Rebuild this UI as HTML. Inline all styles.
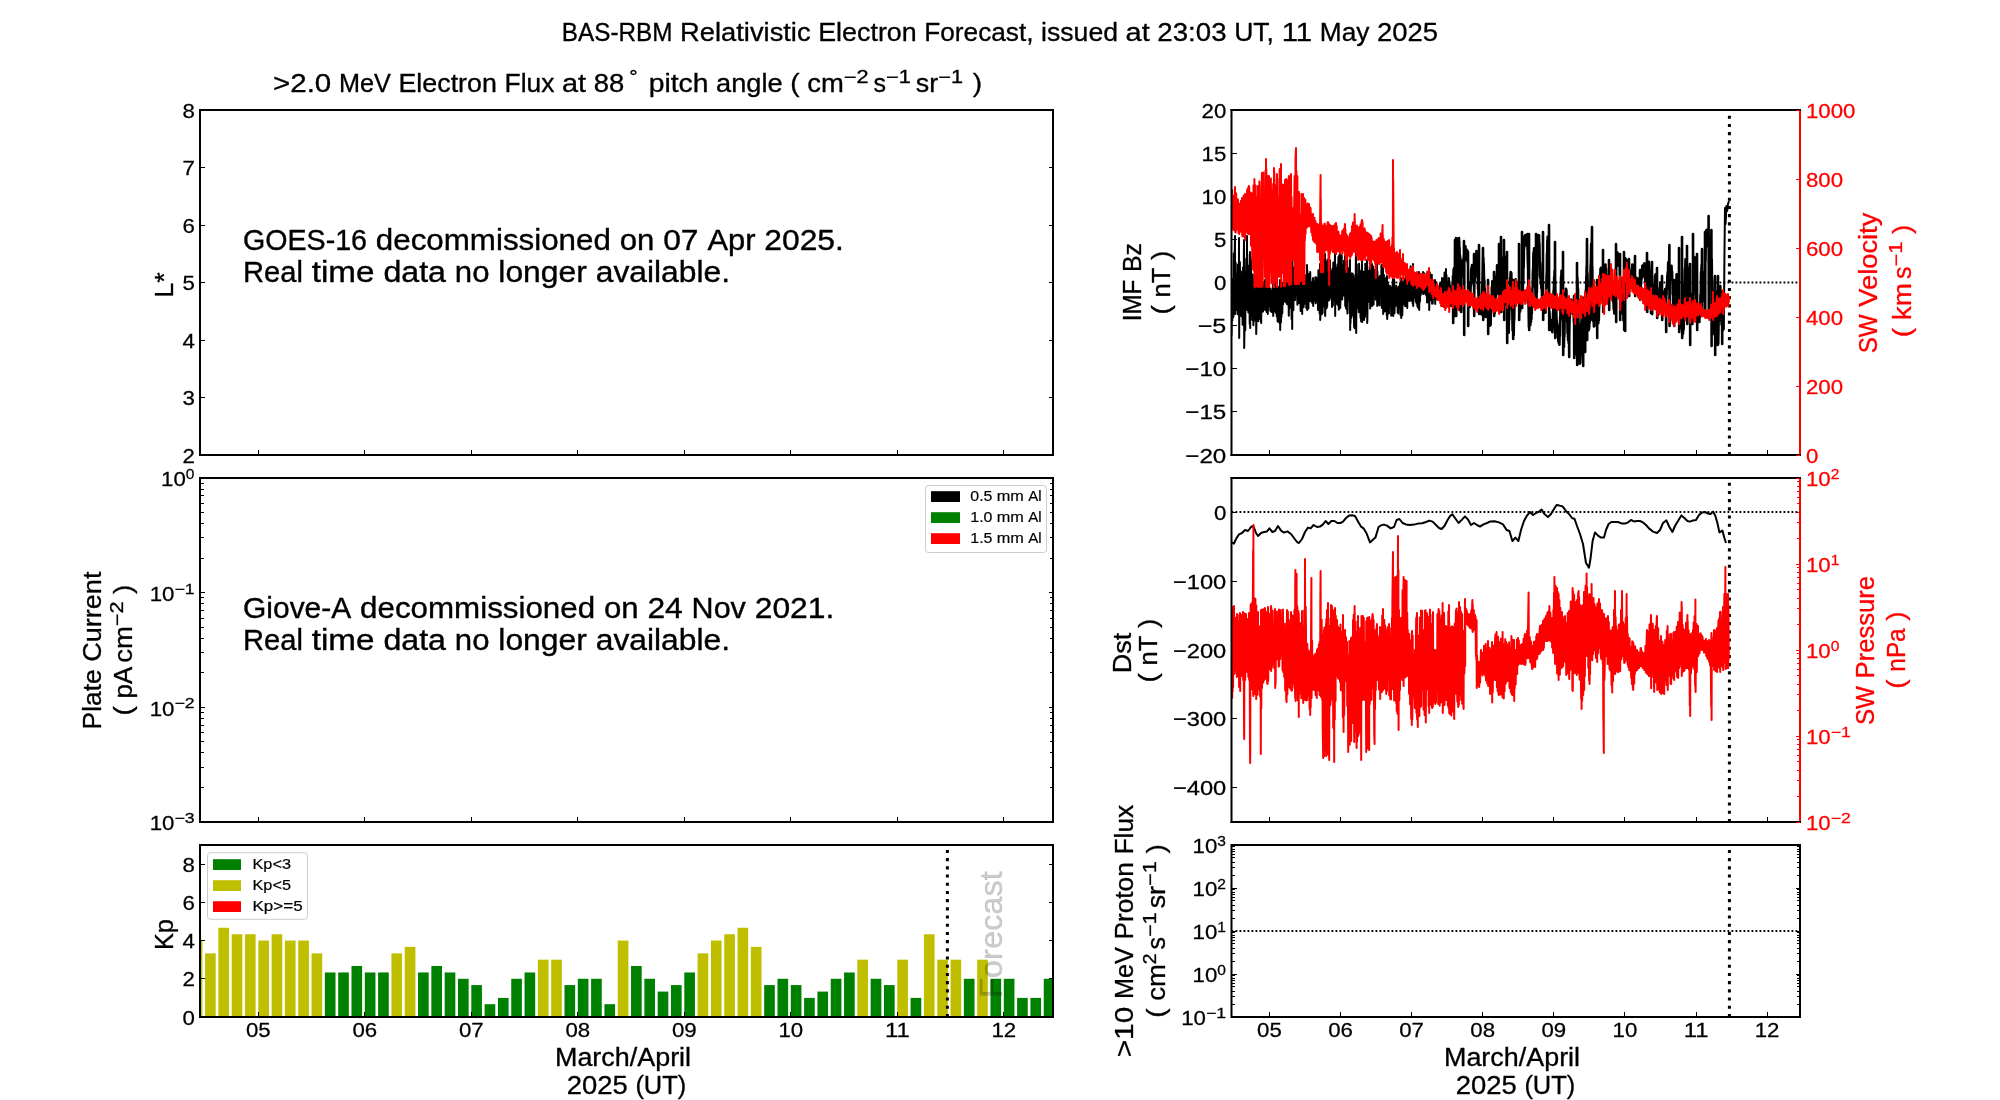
<!DOCTYPE html>
<html><head><meta charset="utf-8"><title>BAS-RBM Relativistic Electron Forecast</title>
<style>html,body{margin:0;padding:0;background:#fff;}body{width:2000px;height:1100px;overflow:hidden;}svg{display:block;will-change:transform;font-family:"Liberation Sans",sans-serif;}text{white-space:pre;}</style></head><body>
<svg width="2000" height="1100" viewBox="0 0 2000 1100">
<rect x="0.00" y="0.00" width="2000.00" height="1100.00" fill="#fff"/>
<defs>
<clipPath id="cA3"><rect x="200.0" y="845.0" width="853.0" height="172.0"/></clipPath>
<clipPath id="cB1"><rect x="1231.5" y="110.0" width="568.5" height="345.0"/></clipPath>
<clipPath id="cB2"><rect x="1231.5" y="478.0" width="568.5" height="344.0"/></clipPath>
<clipPath id="cB3"><rect x="1231.5" y="845.0" width="568.5" height="172.0"/></clipPath>
</defs>
<g transform="translate(1000.00 41.00) scale(1 1.055)" font-size="24" fill="#000" stroke="#000" stroke-width="0.302">
<text x="-438.14" y="0" textLength="110.62" lengthAdjust="spacingAndGlyphs">BAS-RBM</text>
<text x="-319.89" y="0" textLength="130.47" lengthAdjust="spacingAndGlyphs">Relativistic</text>
<text x="-181.79" y="0" textLength="98.44" lengthAdjust="spacingAndGlyphs">Electron</text>
<text x="-75.72" y="0" textLength="109.19" lengthAdjust="spacingAndGlyphs">Forecast,</text>
<text x="41.10" y="0" textLength="76.89" lengthAdjust="spacingAndGlyphs">issued</text>
<text x="125.61" y="0" textLength="24.12" lengthAdjust="spacingAndGlyphs">at</text>
<text x="157.36" y="0" textLength="69.17" lengthAdjust="spacingAndGlyphs">23:03</text>
<text x="234.16" y="0" textLength="39.86" lengthAdjust="spacingAndGlyphs">UT,</text>
<text x="281.64" y="0" textLength="30.54" lengthAdjust="spacingAndGlyphs">11</text>
<text x="319.81" y="0" textLength="49.62" lengthAdjust="spacingAndGlyphs">May</text>
<text x="377.06" y="0" textLength="61.08" lengthAdjust="spacingAndGlyphs">2025</text>
</g>
<g transform="translate(627.50 92.00) scale(1 1.055)" fill="#000" stroke="#000" stroke-width="0.302">
<text x="-354.50" y="0" font-size="24.0" textLength="58.28" lengthAdjust="spacingAndGlyphs">&gt;2.0</text>
<text x="-288.59" y="0" font-size="24.0" textLength="51.89" lengthAdjust="spacingAndGlyphs">MeV</text>
<text x="-229.07" y="0" font-size="24.0" textLength="98.44" lengthAdjust="spacingAndGlyphs">Electron</text>
<text x="-123.00" y="0" font-size="24.0" textLength="49.89" lengthAdjust="spacingAndGlyphs">Flux</text>
<text x="-65.49" y="0" font-size="24.0" textLength="24.12" lengthAdjust="spacingAndGlyphs">at</text>
<text x="-33.74" y="0" font-size="24.0" textLength="30.54" lengthAdjust="spacingAndGlyphs">88</text>
<text x="1.80" y="-8.42" font-size="16.80" textLength="8.40" lengthAdjust="spacingAndGlyphs">°</text>
<text x="21.20" y="0" font-size="24.0" textLength="59.72" lengthAdjust="spacingAndGlyphs">pitch</text>
<text x="88.55" y="0" font-size="24.0" textLength="66.59" lengthAdjust="spacingAndGlyphs">angle</text>
<text x="162.77" y="0" font-size="24.0" textLength="9.36" lengthAdjust="spacingAndGlyphs">(</text>
<text x="179.76" y="0" font-size="24.0" textLength="36.58" lengthAdjust="spacingAndGlyphs">cm</text>
<text x="216.34" y="-8.42" font-size="16.80" textLength="24.77" lengthAdjust="spacingAndGlyphs">−2</text>
<text x="246.10" y="0" font-size="24.0" textLength="12.50" lengthAdjust="spacingAndGlyphs">s</text>
<text x="258.61" y="-8.42" font-size="16.80" textLength="24.77" lengthAdjust="spacingAndGlyphs">−1</text>
<text x="288.37" y="0" font-size="24.0" textLength="22.37" lengthAdjust="spacingAndGlyphs">sr</text>
<text x="310.74" y="-8.42" font-size="16.80" textLength="24.77" lengthAdjust="spacingAndGlyphs">−1</text>
<text x="345.14" y="0" font-size="24.0" textLength="9.36" lengthAdjust="spacingAndGlyphs">)</text>
</g>
<line x1="200.00" y1="110.00" x2="205.00" y2="110.00" stroke="#000" stroke-width="1" shape-rendering="crispEdges"/>
<line x1="1053.00" y1="110.00" x2="1048.60" y2="110.00" stroke="#000" stroke-width="1" shape-rendering="crispEdges"/>
<g transform="translate(194.80 117.60) scale(1 1.055)" font-size="19.44" fill="#000" stroke="#000" stroke-width="0.245">
<text x="-12.37" y="0" textLength="12.37" lengthAdjust="spacingAndGlyphs">8</text>
</g>
<line x1="200.00" y1="167.50" x2="205.00" y2="167.50" stroke="#000" stroke-width="1" shape-rendering="crispEdges"/>
<line x1="1053.00" y1="167.50" x2="1048.60" y2="167.50" stroke="#000" stroke-width="1" shape-rendering="crispEdges"/>
<g transform="translate(194.80 175.10) scale(1 1.055)" font-size="19.44" fill="#000" stroke="#000" stroke-width="0.245">
<text x="-12.37" y="0" textLength="12.37" lengthAdjust="spacingAndGlyphs">7</text>
</g>
<line x1="200.00" y1="225.00" x2="205.00" y2="225.00" stroke="#000" stroke-width="1" shape-rendering="crispEdges"/>
<line x1="1053.00" y1="225.00" x2="1048.60" y2="225.00" stroke="#000" stroke-width="1" shape-rendering="crispEdges"/>
<g transform="translate(194.80 232.60) scale(1 1.055)" font-size="19.44" fill="#000" stroke="#000" stroke-width="0.245">
<text x="-12.37" y="0" textLength="12.37" lengthAdjust="spacingAndGlyphs">6</text>
</g>
<line x1="200.00" y1="282.50" x2="205.00" y2="282.50" stroke="#000" stroke-width="1" shape-rendering="crispEdges"/>
<line x1="1053.00" y1="282.50" x2="1048.60" y2="282.50" stroke="#000" stroke-width="1" shape-rendering="crispEdges"/>
<g transform="translate(194.80 290.10) scale(1 1.055)" font-size="19.44" fill="#000" stroke="#000" stroke-width="0.245">
<text x="-12.37" y="0" textLength="12.37" lengthAdjust="spacingAndGlyphs">5</text>
</g>
<line x1="200.00" y1="340.00" x2="205.00" y2="340.00" stroke="#000" stroke-width="1" shape-rendering="crispEdges"/>
<line x1="1053.00" y1="340.00" x2="1048.60" y2="340.00" stroke="#000" stroke-width="1" shape-rendering="crispEdges"/>
<g transform="translate(194.80 347.60) scale(1 1.055)" font-size="19.44" fill="#000" stroke="#000" stroke-width="0.245">
<text x="-12.37" y="0" textLength="12.37" lengthAdjust="spacingAndGlyphs">4</text>
</g>
<line x1="200.00" y1="397.50" x2="205.00" y2="397.50" stroke="#000" stroke-width="1" shape-rendering="crispEdges"/>
<line x1="1053.00" y1="397.50" x2="1048.60" y2="397.50" stroke="#000" stroke-width="1" shape-rendering="crispEdges"/>
<g transform="translate(194.80 405.10) scale(1 1.055)" font-size="19.44" fill="#000" stroke="#000" stroke-width="0.245">
<text x="-12.37" y="0" textLength="12.37" lengthAdjust="spacingAndGlyphs">3</text>
</g>
<line x1="200.00" y1="455.00" x2="205.00" y2="455.00" stroke="#000" stroke-width="1" shape-rendering="crispEdges"/>
<line x1="1053.00" y1="455.00" x2="1048.60" y2="455.00" stroke="#000" stroke-width="1" shape-rendering="crispEdges"/>
<g transform="translate(194.80 462.60) scale(1 1.055)" font-size="19.44" fill="#000" stroke="#000" stroke-width="0.245">
<text x="-12.37" y="0" textLength="12.37" lengthAdjust="spacingAndGlyphs">2</text>
</g>
<line x1="258.30" y1="455.00" x2="258.30" y2="450.00" stroke="#000" stroke-width="1" shape-rendering="crispEdges"/>
<line x1="364.80" y1="455.00" x2="364.80" y2="450.00" stroke="#000" stroke-width="1" shape-rendering="crispEdges"/>
<line x1="471.30" y1="455.00" x2="471.30" y2="450.00" stroke="#000" stroke-width="1" shape-rendering="crispEdges"/>
<line x1="577.80" y1="455.00" x2="577.80" y2="450.00" stroke="#000" stroke-width="1" shape-rendering="crispEdges"/>
<line x1="684.30" y1="455.00" x2="684.30" y2="450.00" stroke="#000" stroke-width="1" shape-rendering="crispEdges"/>
<line x1="790.80" y1="455.00" x2="790.80" y2="450.00" stroke="#000" stroke-width="1" shape-rendering="crispEdges"/>
<line x1="897.30" y1="455.00" x2="897.30" y2="450.00" stroke="#000" stroke-width="1" shape-rendering="crispEdges"/>
<line x1="1003.80" y1="455.00" x2="1003.80" y2="450.00" stroke="#000" stroke-width="1" shape-rendering="crispEdges"/>
<rect x="200.00" y="110.00" width="853.00" height="345.00" fill="none" stroke="#000" stroke-width="2"/>
<g transform="translate(172.50 285.00) rotate(-90) scale(1 1.055)" font-size="24.0" fill="#000" stroke="#000" stroke-width="0.302">
<text x="-12.69" y="0" textLength="25.37" lengthAdjust="spacingAndGlyphs">L*</text>
</g>
<g transform="translate(243.00 250.00) scale(1 1.055)" font-size="27.8" fill="#000" stroke="#000" stroke-width="0.350">
<text x="0.00" y="0" textLength="124.04" lengthAdjust="spacingAndGlyphs">GOES-16</text>
<text x="132.88" y="0" textLength="235.00" lengthAdjust="spacingAndGlyphs">decommissioned</text>
<text x="376.72" y="0" textLength="34.63" lengthAdjust="spacingAndGlyphs">on</text>
<text x="420.18" y="0" textLength="35.38" lengthAdjust="spacingAndGlyphs">07</text>
<text x="464.40" y="0" textLength="48.09" lengthAdjust="spacingAndGlyphs">Apr</text>
<text x="521.33" y="0" textLength="79.59" lengthAdjust="spacingAndGlyphs">2025.</text>
</g>
<g transform="translate(243.00 282.00) scale(1 1.055)" font-size="27.8" fill="#000" stroke="#000" stroke-width="0.350">
<text x="0.00" y="0" textLength="59.93" lengthAdjust="spacingAndGlyphs">Real</text>
<text x="68.77" y="0" textLength="62.81" lengthAdjust="spacingAndGlyphs">time</text>
<text x="140.41" y="0" textLength="62.62" lengthAdjust="spacingAndGlyphs">data</text>
<text x="211.87" y="0" textLength="34.63" lengthAdjust="spacingAndGlyphs">no</text>
<text x="255.34" y="0" textLength="88.53" lengthAdjust="spacingAndGlyphs">longer</text>
<text x="352.71" y="0" textLength="134.32" lengthAdjust="spacingAndGlyphs">available.</text>
</g>
<line x1="200.00" y1="478.00" x2="205.00" y2="478.00" stroke="#000" stroke-width="1" shape-rendering="crispEdges"/>
<line x1="1053.00" y1="478.00" x2="1048.60" y2="478.00" stroke="#000" stroke-width="1" shape-rendering="crispEdges"/>
<g transform="translate(194.50 486.30) scale(1 1.055)" fill="#000" stroke="#000" stroke-width="0.245">
<text x="-33.40" y="0" font-size="19.44" textLength="24.74" lengthAdjust="spacingAndGlyphs">10</text>
<text x="-8.66" y="-6.82" font-size="13.61" textLength="8.66" lengthAdjust="spacingAndGlyphs">0</text>
</g>
<line x1="200.00" y1="558.15" x2="203.60" y2="558.15" stroke="#000" stroke-width="1" shape-rendering="crispEdges"/>
<line x1="1053.00" y1="558.15" x2="1050.40" y2="558.15" stroke="#000" stroke-width="1" shape-rendering="crispEdges"/>
<line x1="200.00" y1="537.96" x2="203.60" y2="537.96" stroke="#000" stroke-width="1" shape-rendering="crispEdges"/>
<line x1="1053.00" y1="537.96" x2="1050.40" y2="537.96" stroke="#000" stroke-width="1" shape-rendering="crispEdges"/>
<line x1="200.00" y1="523.63" x2="203.60" y2="523.63" stroke="#000" stroke-width="1" shape-rendering="crispEdges"/>
<line x1="1053.00" y1="523.63" x2="1050.40" y2="523.63" stroke="#000" stroke-width="1" shape-rendering="crispEdges"/>
<line x1="200.00" y1="512.52" x2="203.60" y2="512.52" stroke="#000" stroke-width="1" shape-rendering="crispEdges"/>
<line x1="1053.00" y1="512.52" x2="1050.40" y2="512.52" stroke="#000" stroke-width="1" shape-rendering="crispEdges"/>
<line x1="200.00" y1="503.44" x2="203.60" y2="503.44" stroke="#000" stroke-width="1" shape-rendering="crispEdges"/>
<line x1="1053.00" y1="503.44" x2="1050.40" y2="503.44" stroke="#000" stroke-width="1" shape-rendering="crispEdges"/>
<line x1="200.00" y1="495.76" x2="203.60" y2="495.76" stroke="#000" stroke-width="1" shape-rendering="crispEdges"/>
<line x1="1053.00" y1="495.76" x2="1050.40" y2="495.76" stroke="#000" stroke-width="1" shape-rendering="crispEdges"/>
<line x1="200.00" y1="489.11" x2="203.60" y2="489.11" stroke="#000" stroke-width="1" shape-rendering="crispEdges"/>
<line x1="1053.00" y1="489.11" x2="1050.40" y2="489.11" stroke="#000" stroke-width="1" shape-rendering="crispEdges"/>
<line x1="200.00" y1="483.25" x2="203.60" y2="483.25" stroke="#000" stroke-width="1" shape-rendering="crispEdges"/>
<line x1="1053.00" y1="483.25" x2="1050.40" y2="483.25" stroke="#000" stroke-width="1" shape-rendering="crispEdges"/>
<line x1="200.00" y1="592.67" x2="205.00" y2="592.67" stroke="#000" stroke-width="1" shape-rendering="crispEdges"/>
<line x1="1053.00" y1="592.67" x2="1048.60" y2="592.67" stroke="#000" stroke-width="1" shape-rendering="crispEdges"/>
<g transform="translate(194.50 600.97) scale(1 1.055)" fill="#000" stroke="#000" stroke-width="0.245">
<text x="-44.80" y="0" font-size="19.44" textLength="24.74" lengthAdjust="spacingAndGlyphs">10</text>
<text x="-20.06" y="-6.82" font-size="13.61" textLength="20.06" lengthAdjust="spacingAndGlyphs">−1</text>
</g>
<line x1="200.00" y1="672.82" x2="203.60" y2="672.82" stroke="#000" stroke-width="1" shape-rendering="crispEdges"/>
<line x1="1053.00" y1="672.82" x2="1050.40" y2="672.82" stroke="#000" stroke-width="1" shape-rendering="crispEdges"/>
<line x1="200.00" y1="652.62" x2="203.60" y2="652.62" stroke="#000" stroke-width="1" shape-rendering="crispEdges"/>
<line x1="1053.00" y1="652.62" x2="1050.40" y2="652.62" stroke="#000" stroke-width="1" shape-rendering="crispEdges"/>
<line x1="200.00" y1="638.30" x2="203.60" y2="638.30" stroke="#000" stroke-width="1" shape-rendering="crispEdges"/>
<line x1="1053.00" y1="638.30" x2="1050.40" y2="638.30" stroke="#000" stroke-width="1" shape-rendering="crispEdges"/>
<line x1="200.00" y1="627.18" x2="203.60" y2="627.18" stroke="#000" stroke-width="1" shape-rendering="crispEdges"/>
<line x1="1053.00" y1="627.18" x2="1050.40" y2="627.18" stroke="#000" stroke-width="1" shape-rendering="crispEdges"/>
<line x1="200.00" y1="618.11" x2="203.60" y2="618.11" stroke="#000" stroke-width="1" shape-rendering="crispEdges"/>
<line x1="1053.00" y1="618.11" x2="1050.40" y2="618.11" stroke="#000" stroke-width="1" shape-rendering="crispEdges"/>
<line x1="200.00" y1="610.43" x2="203.60" y2="610.43" stroke="#000" stroke-width="1" shape-rendering="crispEdges"/>
<line x1="1053.00" y1="610.43" x2="1050.40" y2="610.43" stroke="#000" stroke-width="1" shape-rendering="crispEdges"/>
<line x1="200.00" y1="603.78" x2="203.60" y2="603.78" stroke="#000" stroke-width="1" shape-rendering="crispEdges"/>
<line x1="1053.00" y1="603.78" x2="1050.40" y2="603.78" stroke="#000" stroke-width="1" shape-rendering="crispEdges"/>
<line x1="200.00" y1="597.91" x2="203.60" y2="597.91" stroke="#000" stroke-width="1" shape-rendering="crispEdges"/>
<line x1="1053.00" y1="597.91" x2="1050.40" y2="597.91" stroke="#000" stroke-width="1" shape-rendering="crispEdges"/>
<line x1="200.00" y1="707.33" x2="205.00" y2="707.33" stroke="#000" stroke-width="1" shape-rendering="crispEdges"/>
<line x1="1053.00" y1="707.33" x2="1048.60" y2="707.33" stroke="#000" stroke-width="1" shape-rendering="crispEdges"/>
<g transform="translate(194.50 715.63) scale(1 1.055)" fill="#000" stroke="#000" stroke-width="0.245">
<text x="-44.80" y="0" font-size="19.44" textLength="24.74" lengthAdjust="spacingAndGlyphs">10</text>
<text x="-20.06" y="-6.82" font-size="13.61" textLength="20.06" lengthAdjust="spacingAndGlyphs">−2</text>
</g>
<line x1="200.00" y1="787.48" x2="203.60" y2="787.48" stroke="#000" stroke-width="1" shape-rendering="crispEdges"/>
<line x1="1053.00" y1="787.48" x2="1050.40" y2="787.48" stroke="#000" stroke-width="1" shape-rendering="crispEdges"/>
<line x1="200.00" y1="767.29" x2="203.60" y2="767.29" stroke="#000" stroke-width="1" shape-rendering="crispEdges"/>
<line x1="1053.00" y1="767.29" x2="1050.40" y2="767.29" stroke="#000" stroke-width="1" shape-rendering="crispEdges"/>
<line x1="200.00" y1="752.96" x2="203.60" y2="752.96" stroke="#000" stroke-width="1" shape-rendering="crispEdges"/>
<line x1="1053.00" y1="752.96" x2="1050.40" y2="752.96" stroke="#000" stroke-width="1" shape-rendering="crispEdges"/>
<line x1="200.00" y1="741.85" x2="203.60" y2="741.85" stroke="#000" stroke-width="1" shape-rendering="crispEdges"/>
<line x1="1053.00" y1="741.85" x2="1050.40" y2="741.85" stroke="#000" stroke-width="1" shape-rendering="crispEdges"/>
<line x1="200.00" y1="732.77" x2="203.60" y2="732.77" stroke="#000" stroke-width="1" shape-rendering="crispEdges"/>
<line x1="1053.00" y1="732.77" x2="1050.40" y2="732.77" stroke="#000" stroke-width="1" shape-rendering="crispEdges"/>
<line x1="200.00" y1="725.10" x2="203.60" y2="725.10" stroke="#000" stroke-width="1" shape-rendering="crispEdges"/>
<line x1="1053.00" y1="725.10" x2="1050.40" y2="725.10" stroke="#000" stroke-width="1" shape-rendering="crispEdges"/>
<line x1="200.00" y1="718.45" x2="203.60" y2="718.45" stroke="#000" stroke-width="1" shape-rendering="crispEdges"/>
<line x1="1053.00" y1="718.45" x2="1050.40" y2="718.45" stroke="#000" stroke-width="1" shape-rendering="crispEdges"/>
<line x1="200.00" y1="712.58" x2="203.60" y2="712.58" stroke="#000" stroke-width="1" shape-rendering="crispEdges"/>
<line x1="1053.00" y1="712.58" x2="1050.40" y2="712.58" stroke="#000" stroke-width="1" shape-rendering="crispEdges"/>
<line x1="200.00" y1="822.00" x2="205.00" y2="822.00" stroke="#000" stroke-width="1" shape-rendering="crispEdges"/>
<line x1="1053.00" y1="822.00" x2="1048.60" y2="822.00" stroke="#000" stroke-width="1" shape-rendering="crispEdges"/>
<g transform="translate(194.50 830.30) scale(1 1.055)" fill="#000" stroke="#000" stroke-width="0.245">
<text x="-44.80" y="0" font-size="19.44" textLength="24.74" lengthAdjust="spacingAndGlyphs">10</text>
<text x="-20.06" y="-6.82" font-size="13.61" textLength="20.06" lengthAdjust="spacingAndGlyphs">−3</text>
</g>
<line x1="258.30" y1="822.00" x2="258.30" y2="817.00" stroke="#000" stroke-width="1" shape-rendering="crispEdges"/>
<line x1="364.80" y1="822.00" x2="364.80" y2="817.00" stroke="#000" stroke-width="1" shape-rendering="crispEdges"/>
<line x1="471.30" y1="822.00" x2="471.30" y2="817.00" stroke="#000" stroke-width="1" shape-rendering="crispEdges"/>
<line x1="577.80" y1="822.00" x2="577.80" y2="817.00" stroke="#000" stroke-width="1" shape-rendering="crispEdges"/>
<line x1="684.30" y1="822.00" x2="684.30" y2="817.00" stroke="#000" stroke-width="1" shape-rendering="crispEdges"/>
<line x1="790.80" y1="822.00" x2="790.80" y2="817.00" stroke="#000" stroke-width="1" shape-rendering="crispEdges"/>
<line x1="897.30" y1="822.00" x2="897.30" y2="817.00" stroke="#000" stroke-width="1" shape-rendering="crispEdges"/>
<line x1="1003.80" y1="822.00" x2="1003.80" y2="817.00" stroke="#000" stroke-width="1" shape-rendering="crispEdges"/>
<rect x="200.00" y="478.00" width="853.00" height="344.00" fill="none" stroke="#000" stroke-width="2"/>
<g transform="translate(100.50 650.50) rotate(-90) scale(1 1.055)" font-size="24.0" fill="#000" stroke="#000" stroke-width="0.302">
<text x="-78.90" y="0" textLength="60.02" lengthAdjust="spacingAndGlyphs">Plate</text>
<text x="-11.25" y="0" textLength="90.15" lengthAdjust="spacingAndGlyphs">Current</text>
</g>
<g transform="translate(132.00 650.00) rotate(-90) scale(1 1.055)" fill="#000" stroke="#000" stroke-width="0.302">
<text x="-65.49" y="0" font-size="24.0" textLength="9.36" lengthAdjust="spacingAndGlyphs">(</text>
<text x="-48.50" y="0" font-size="24.0" textLength="31.65" lengthAdjust="spacingAndGlyphs">pA</text>
<text x="-12.84" y="0" font-size="24.0" textLength="36.58" lengthAdjust="spacingAndGlyphs">cm</text>
<text x="23.73" y="-8.42" font-size="16.80" textLength="24.77" lengthAdjust="spacingAndGlyphs">−2</text>
<text x="56.13" y="0" font-size="24.0" textLength="9.36" lengthAdjust="spacingAndGlyphs">)</text>
</g>
<g transform="translate(243.00 618.00) scale(1 1.055)" font-size="27.8" fill="#000" stroke="#000" stroke-width="0.350">
<text x="0.00" y="0" textLength="108.27" lengthAdjust="spacingAndGlyphs">Giove-A</text>
<text x="117.11" y="0" textLength="235.00" lengthAdjust="spacingAndGlyphs">decommissioned</text>
<text x="360.94" y="0" textLength="34.63" lengthAdjust="spacingAndGlyphs">on</text>
<text x="404.41" y="0" textLength="35.38" lengthAdjust="spacingAndGlyphs">24</text>
<text x="448.62" y="0" textLength="54.26" lengthAdjust="spacingAndGlyphs">Nov</text>
<text x="511.71" y="0" textLength="79.59" lengthAdjust="spacingAndGlyphs">2021.</text>
</g>
<g transform="translate(243.00 650.00) scale(1 1.055)" font-size="27.8" fill="#000" stroke="#000" stroke-width="0.350">
<text x="0.00" y="0" textLength="59.93" lengthAdjust="spacingAndGlyphs">Real</text>
<text x="68.77" y="0" textLength="62.81" lengthAdjust="spacingAndGlyphs">time</text>
<text x="140.41" y="0" textLength="62.62" lengthAdjust="spacingAndGlyphs">data</text>
<text x="211.87" y="0" textLength="34.63" lengthAdjust="spacingAndGlyphs">no</text>
<text x="255.34" y="0" textLength="88.53" lengthAdjust="spacingAndGlyphs">longer</text>
<text x="352.71" y="0" textLength="134.32" lengthAdjust="spacingAndGlyphs">available.</text>
</g>
<rect x="925.50" y="485.50" width="121.00" height="67.00" fill="#fff" stroke="#cccccc" stroke-width="1" rx="3"/>
<rect x="931.00" y="491.20" width="29.00" height="10.80" fill="#000"/>
<g transform="translate(970.30 500.90) scale(1 1.055)" font-size="13.9" fill="#000" stroke="#000" stroke-width="0.175">
<text x="0.00" y="0" textLength="22.11" lengthAdjust="spacingAndGlyphs">0.5</text>
<text x="26.53" y="0" textLength="27.08" lengthAdjust="spacingAndGlyphs">mm</text>
<text x="58.02" y="0" textLength="13.37" lengthAdjust="spacingAndGlyphs">Al</text>
</g>
<rect x="931.00" y="512.20" width="29.00" height="10.80" fill="#008000"/>
<g transform="translate(970.30 521.90) scale(1 1.055)" font-size="13.9" fill="#000" stroke="#000" stroke-width="0.175">
<text x="0.00" y="0" textLength="22.11" lengthAdjust="spacingAndGlyphs">1.0</text>
<text x="26.53" y="0" textLength="27.08" lengthAdjust="spacingAndGlyphs">mm</text>
<text x="58.02" y="0" textLength="13.37" lengthAdjust="spacingAndGlyphs">Al</text>
</g>
<rect x="931.00" y="533.20" width="29.00" height="10.80" fill="#ff0000"/>
<g transform="translate(970.30 542.90) scale(1 1.055)" font-size="13.9" fill="#000" stroke="#000" stroke-width="0.175">
<text x="0.00" y="0" textLength="22.11" lengthAdjust="spacingAndGlyphs">1.5</text>
<text x="26.53" y="0" textLength="27.08" lengthAdjust="spacingAndGlyphs">mm</text>
<text x="58.02" y="0" textLength="13.37" lengthAdjust="spacingAndGlyphs">Al</text>
</g>
<g clip-path="url(#cA3)">
<rect x="191.74" y="940.56" width="10.65" height="76.44" fill="#bfbf00"/>
<rect x="205.05" y="953.36" width="10.65" height="63.64" fill="#bfbf00"/>
<rect x="218.36" y="927.75" width="10.65" height="89.25" fill="#bfbf00"/>
<rect x="231.68" y="934.25" width="10.65" height="82.75" fill="#bfbf00"/>
<rect x="244.99" y="934.25" width="10.65" height="82.75" fill="#bfbf00"/>
<rect x="258.30" y="940.56" width="10.65" height="76.44" fill="#bfbf00"/>
<rect x="271.61" y="934.25" width="10.65" height="82.75" fill="#bfbf00"/>
<rect x="284.93" y="940.56" width="10.65" height="76.44" fill="#bfbf00"/>
<rect x="298.24" y="940.56" width="10.65" height="76.44" fill="#bfbf00"/>
<rect x="311.55" y="953.36" width="10.65" height="63.64" fill="#bfbf00"/>
<rect x="324.86" y="972.47" width="10.65" height="44.53" fill="#008000"/>
<rect x="338.18" y="972.47" width="10.65" height="44.53" fill="#008000"/>
<rect x="351.49" y="965.97" width="10.65" height="51.03" fill="#008000"/>
<rect x="364.80" y="972.47" width="10.65" height="44.53" fill="#008000"/>
<rect x="378.11" y="972.47" width="10.65" height="44.53" fill="#008000"/>
<rect x="391.43" y="953.36" width="10.65" height="63.64" fill="#bfbf00"/>
<rect x="404.74" y="946.86" width="10.65" height="70.14" fill="#bfbf00"/>
<rect x="418.05" y="972.47" width="10.65" height="44.53" fill="#008000"/>
<rect x="431.36" y="965.97" width="10.65" height="51.03" fill="#008000"/>
<rect x="444.68" y="972.47" width="10.65" height="44.53" fill="#008000"/>
<rect x="457.99" y="978.78" width="10.65" height="38.22" fill="#008000"/>
<rect x="471.30" y="985.08" width="10.65" height="31.92" fill="#008000"/>
<rect x="484.61" y="1004.20" width="10.65" height="12.80" fill="#008000"/>
<rect x="497.93" y="997.89" width="10.65" height="19.11" fill="#008000"/>
<rect x="511.24" y="978.78" width="10.65" height="38.22" fill="#008000"/>
<rect x="524.55" y="972.47" width="10.65" height="44.53" fill="#008000"/>
<rect x="537.86" y="959.67" width="10.65" height="57.33" fill="#bfbf00"/>
<rect x="551.17" y="959.67" width="10.65" height="57.33" fill="#bfbf00"/>
<rect x="564.49" y="985.08" width="10.65" height="31.92" fill="#008000"/>
<rect x="577.80" y="978.78" width="10.65" height="38.22" fill="#008000"/>
<rect x="591.11" y="978.78" width="10.65" height="38.22" fill="#008000"/>
<rect x="604.42" y="1004.20" width="10.65" height="12.80" fill="#008000"/>
<rect x="617.74" y="940.56" width="10.65" height="76.44" fill="#bfbf00"/>
<rect x="631.05" y="965.97" width="10.65" height="51.03" fill="#008000"/>
<rect x="644.36" y="978.78" width="10.65" height="38.22" fill="#008000"/>
<rect x="657.67" y="991.58" width="10.65" height="25.42" fill="#008000"/>
<rect x="670.99" y="985.08" width="10.65" height="31.92" fill="#008000"/>
<rect x="684.30" y="972.47" width="10.65" height="44.53" fill="#008000"/>
<rect x="697.61" y="953.36" width="10.65" height="63.64" fill="#bfbf00"/>
<rect x="710.92" y="940.56" width="10.65" height="76.44" fill="#bfbf00"/>
<rect x="724.24" y="934.25" width="10.65" height="82.75" fill="#bfbf00"/>
<rect x="737.55" y="927.75" width="10.65" height="89.25" fill="#bfbf00"/>
<rect x="750.86" y="946.86" width="10.65" height="70.14" fill="#bfbf00"/>
<rect x="764.17" y="985.08" width="10.65" height="31.92" fill="#008000"/>
<rect x="777.49" y="978.78" width="10.65" height="38.22" fill="#008000"/>
<rect x="790.80" y="985.08" width="10.65" height="31.92" fill="#008000"/>
<rect x="804.11" y="997.89" width="10.65" height="19.11" fill="#008000"/>
<rect x="817.42" y="991.58" width="10.65" height="25.42" fill="#008000"/>
<rect x="830.74" y="978.78" width="10.65" height="38.22" fill="#008000"/>
<rect x="844.05" y="972.47" width="10.65" height="44.53" fill="#008000"/>
<rect x="857.36" y="959.67" width="10.65" height="57.33" fill="#bfbf00"/>
<rect x="870.67" y="978.78" width="10.65" height="38.22" fill="#008000"/>
<rect x="883.99" y="985.08" width="10.65" height="31.92" fill="#008000"/>
<rect x="897.30" y="959.67" width="10.65" height="57.33" fill="#bfbf00"/>
<rect x="910.61" y="997.89" width="10.65" height="19.11" fill="#008000"/>
<rect x="923.92" y="934.25" width="10.65" height="82.75" fill="#bfbf00"/>
<rect x="937.24" y="959.67" width="10.65" height="57.33" fill="#bfbf00"/>
<rect x="950.55" y="959.67" width="10.65" height="57.33" fill="#bfbf00"/>
<rect x="963.86" y="978.78" width="10.65" height="38.22" fill="#008000"/>
<rect x="977.17" y="959.67" width="10.65" height="57.33" fill="#bfbf00"/>
<rect x="990.49" y="978.78" width="10.65" height="38.22" fill="#008000"/>
<rect x="1003.80" y="978.78" width="10.65" height="38.22" fill="#008000"/>
<rect x="1017.11" y="997.89" width="10.65" height="19.11" fill="#008000"/>
<rect x="1030.42" y="997.89" width="10.65" height="19.11" fill="#008000"/>
<rect x="1043.74" y="978.78" width="10.65" height="38.22" fill="#008000"/>
</g>
<g transform="translate(1002.30 934.60) rotate(-90) scale(1 1.055)" font-size="30.0" fill="#000" stroke="#000" stroke-width="0.378" fill-opacity="0.2" stroke-opacity="0.2">
<text x="-63.47" y="0" textLength="126.95" lengthAdjust="spacingAndGlyphs">Forecast</text>
</g>
<line x1="947.40" y1="1017.00" x2="947.40" y2="845.00" stroke="#000" stroke-width="3" stroke-dasharray="3.1 5.1"/>
<line x1="200.00" y1="1017.00" x2="205.00" y2="1017.00" stroke="#000" stroke-width="1" shape-rendering="crispEdges"/>
<line x1="1053.00" y1="1017.00" x2="1048.60" y2="1017.00" stroke="#000" stroke-width="1" shape-rendering="crispEdges"/>
<g transform="translate(194.80 1024.60) scale(1 1.055)" font-size="19.44" fill="#000" stroke="#000" stroke-width="0.245">
<text x="-12.37" y="0" textLength="12.37" lengthAdjust="spacingAndGlyphs">0</text>
</g>
<line x1="200.00" y1="978.78" x2="205.00" y2="978.78" stroke="#000" stroke-width="1" shape-rendering="crispEdges"/>
<line x1="1053.00" y1="978.78" x2="1048.60" y2="978.78" stroke="#000" stroke-width="1" shape-rendering="crispEdges"/>
<g transform="translate(194.80 986.38) scale(1 1.055)" font-size="19.44" fill="#000" stroke="#000" stroke-width="0.245">
<text x="-12.37" y="0" textLength="12.37" lengthAdjust="spacingAndGlyphs">2</text>
</g>
<line x1="200.00" y1="940.56" x2="205.00" y2="940.56" stroke="#000" stroke-width="1" shape-rendering="crispEdges"/>
<line x1="1053.00" y1="940.56" x2="1048.60" y2="940.56" stroke="#000" stroke-width="1" shape-rendering="crispEdges"/>
<g transform="translate(194.80 948.16) scale(1 1.055)" font-size="19.44" fill="#000" stroke="#000" stroke-width="0.245">
<text x="-12.37" y="0" textLength="12.37" lengthAdjust="spacingAndGlyphs">4</text>
</g>
<line x1="200.00" y1="902.33" x2="205.00" y2="902.33" stroke="#000" stroke-width="1" shape-rendering="crispEdges"/>
<line x1="1053.00" y1="902.33" x2="1048.60" y2="902.33" stroke="#000" stroke-width="1" shape-rendering="crispEdges"/>
<g transform="translate(194.80 909.93) scale(1 1.055)" font-size="19.44" fill="#000" stroke="#000" stroke-width="0.245">
<text x="-12.37" y="0" textLength="12.37" lengthAdjust="spacingAndGlyphs">6</text>
</g>
<line x1="200.00" y1="864.11" x2="205.00" y2="864.11" stroke="#000" stroke-width="1" shape-rendering="crispEdges"/>
<line x1="1053.00" y1="864.11" x2="1048.60" y2="864.11" stroke="#000" stroke-width="1" shape-rendering="crispEdges"/>
<g transform="translate(194.80 871.71) scale(1 1.055)" font-size="19.44" fill="#000" stroke="#000" stroke-width="0.245">
<text x="-12.37" y="0" textLength="12.37" lengthAdjust="spacingAndGlyphs">8</text>
</g>
<line x1="258.30" y1="1017.00" x2="258.30" y2="1012.00" stroke="#000" stroke-width="1" shape-rendering="crispEdges"/>
<g transform="translate(258.30 1036.70) scale(1 1.055)" font-size="19.44" fill="#000" stroke="#000" stroke-width="0.245">
<text x="-12.37" y="0" textLength="24.74" lengthAdjust="spacingAndGlyphs">05</text>
</g>
<line x1="364.80" y1="1017.00" x2="364.80" y2="1012.00" stroke="#000" stroke-width="1" shape-rendering="crispEdges"/>
<g transform="translate(364.80 1036.70) scale(1 1.055)" font-size="19.44" fill="#000" stroke="#000" stroke-width="0.245">
<text x="-12.37" y="0" textLength="24.74" lengthAdjust="spacingAndGlyphs">06</text>
</g>
<line x1="471.30" y1="1017.00" x2="471.30" y2="1012.00" stroke="#000" stroke-width="1" shape-rendering="crispEdges"/>
<g transform="translate(471.30 1036.70) scale(1 1.055)" font-size="19.44" fill="#000" stroke="#000" stroke-width="0.245">
<text x="-12.37" y="0" textLength="24.74" lengthAdjust="spacingAndGlyphs">07</text>
</g>
<line x1="577.80" y1="1017.00" x2="577.80" y2="1012.00" stroke="#000" stroke-width="1" shape-rendering="crispEdges"/>
<g transform="translate(577.80 1036.70) scale(1 1.055)" font-size="19.44" fill="#000" stroke="#000" stroke-width="0.245">
<text x="-12.37" y="0" textLength="24.74" lengthAdjust="spacingAndGlyphs">08</text>
</g>
<line x1="684.30" y1="1017.00" x2="684.30" y2="1012.00" stroke="#000" stroke-width="1" shape-rendering="crispEdges"/>
<g transform="translate(684.30 1036.70) scale(1 1.055)" font-size="19.44" fill="#000" stroke="#000" stroke-width="0.245">
<text x="-12.37" y="0" textLength="24.74" lengthAdjust="spacingAndGlyphs">09</text>
</g>
<line x1="790.80" y1="1017.00" x2="790.80" y2="1012.00" stroke="#000" stroke-width="1" shape-rendering="crispEdges"/>
<g transform="translate(790.80 1036.70) scale(1 1.055)" font-size="19.44" fill="#000" stroke="#000" stroke-width="0.245">
<text x="-12.37" y="0" textLength="24.74" lengthAdjust="spacingAndGlyphs">10</text>
</g>
<line x1="897.30" y1="1017.00" x2="897.30" y2="1012.00" stroke="#000" stroke-width="1" shape-rendering="crispEdges"/>
<g transform="translate(897.30 1036.70) scale(1 1.055)" font-size="19.44" fill="#000" stroke="#000" stroke-width="0.245">
<text x="-12.37" y="0" textLength="24.74" lengthAdjust="spacingAndGlyphs">11</text>
</g>
<line x1="1003.80" y1="1017.00" x2="1003.80" y2="1012.00" stroke="#000" stroke-width="1" shape-rendering="crispEdges"/>
<g transform="translate(1003.80 1036.70) scale(1 1.055)" font-size="19.44" fill="#000" stroke="#000" stroke-width="0.245">
<text x="-12.37" y="0" textLength="24.74" lengthAdjust="spacingAndGlyphs">12</text>
</g>
<rect x="200.00" y="845.00" width="853.00" height="172.00" fill="none" stroke="#000" stroke-width="2"/>
<g transform="translate(172.80 934.60) rotate(-90) scale(1 1.055)" font-size="24.0" fill="#000" stroke="#000" stroke-width="0.302">
<text x="-15.49" y="0" textLength="30.97" lengthAdjust="spacingAndGlyphs">Kp</text>
</g>
<rect x="207.50" y="852.70" width="100.00" height="66.60" fill="#fff" stroke="#cccccc" stroke-width="1" rx="3"/>
<rect x="213.00" y="859.20" width="28.00" height="10.80" fill="#008000"/>
<g transform="translate(252.50 868.90) scale(1 1.055)" font-size="13.9" fill="#000" stroke="#000" stroke-width="0.175">
<text x="0.00" y="0" textLength="38.43" lengthAdjust="spacingAndGlyphs">Kp&lt;3</text>
</g>
<rect x="213.00" y="880.20" width="28.00" height="10.80" fill="#bfbf00"/>
<g transform="translate(252.50 889.90) scale(1 1.055)" font-size="13.9" fill="#000" stroke="#000" stroke-width="0.175">
<text x="0.00" y="0" textLength="38.43" lengthAdjust="spacingAndGlyphs">Kp&lt;5</text>
</g>
<rect x="213.00" y="901.20" width="28.00" height="10.80" fill="#ff0000"/>
<g transform="translate(252.50 910.90) scale(1 1.055)" font-size="13.9" fill="#000" stroke="#000" stroke-width="0.175">
<text x="0.00" y="0" textLength="50.08" lengthAdjust="spacingAndGlyphs">Kp&gt;=5</text>
</g>
<g transform="translate(623.00 1066.00) scale(1 1.055)" font-size="24.0" fill="#000" stroke="#000" stroke-width="0.302">
<text x="-68.05" y="0" textLength="136.11" lengthAdjust="spacingAndGlyphs">March/April</text>
</g>
<g transform="translate(626.50 1094.00) scale(1 1.055)" font-size="24.0" fill="#000" stroke="#000" stroke-width="0.302">
<text x="-59.83" y="0" textLength="61.08" lengthAdjust="spacingAndGlyphs">2025</text>
<text x="8.88" y="0" textLength="50.95" lengthAdjust="spacingAndGlyphs">(UT)</text>
</g>
<line x1="1231.50" y1="110.00" x2="1236.50" y2="110.00" stroke="#000" stroke-width="1" shape-rendering="crispEdges"/>
<line x1="1231.50" y1="153.12" x2="1236.50" y2="153.12" stroke="#000" stroke-width="1" shape-rendering="crispEdges"/>
<line x1="1231.50" y1="196.25" x2="1236.50" y2="196.25" stroke="#000" stroke-width="1" shape-rendering="crispEdges"/>
<line x1="1231.50" y1="239.38" x2="1236.50" y2="239.38" stroke="#000" stroke-width="1" shape-rendering="crispEdges"/>
<line x1="1231.50" y1="282.50" x2="1236.50" y2="282.50" stroke="#000" stroke-width="1" shape-rendering="crispEdges"/>
<line x1="1231.50" y1="325.62" x2="1236.50" y2="325.62" stroke="#000" stroke-width="1" shape-rendering="crispEdges"/>
<line x1="1231.50" y1="368.75" x2="1236.50" y2="368.75" stroke="#000" stroke-width="1" shape-rendering="crispEdges"/>
<line x1="1231.50" y1="411.88" x2="1236.50" y2="411.88" stroke="#000" stroke-width="1" shape-rendering="crispEdges"/>
<line x1="1231.50" y1="455.00" x2="1236.50" y2="455.00" stroke="#000" stroke-width="1" shape-rendering="crispEdges"/>
<g clip-path="url(#cB1)">
<line x1="1231.50" y1="282.50" x2="1800.00" y2="282.50" stroke="#000" stroke-width="1.9" stroke-dasharray="1.8 2.2"/>
<path d="M1231.5 335.4 L1232.0 279.0 L1232.4 320.3 L1232.8 280.0 L1233.4 317.0 L1233.7 253.6 L1234.2 296.4 L1234.7 252.5 L1235.0 236.0 L1235.2 314.0 L1235.2 305.2 L1235.7 262.8 L1236.2 308.5 L1236.6 282.3 L1237.0 310.3 L1237.2 274.4 L1237.7 314.3 L1238.0 264.4 L1238.4 310.6 L1238.9 274.9 L1239.0 238.0 L1239.2 338.0 L1239.3 311.9 L1239.9 262.0 L1240.3 302.4 L1240.9 271.4 L1241.3 316.2 L1241.6 282.0 L1241.9 316.0 L1242.3 291.0 L1242.6 324.7 L1243.0 267.6 L1243.5 302.7 L1244.0 240.0 L1244.1 273.2 L1244.2 348.0 L1244.6 319.6 L1245.0 280.0 L1245.3 330.2 L1245.6 271.9 L1245.9 298.7 L1246.3 258.6 L1246.9 287.0 L1247.0 236.0 L1247.2 310.0 L1247.3 254.6 L1247.6 298.7 L1248.1 265.6 L1248.4 312.4 L1248.7 281.1 L1249.1 302.2 L1249.3 269.2 L1249.7 324.1 L1250.0 252.0 L1250.2 328.0 L1250.2 282.6 L1250.7 315.4 L1251.0 258.0 L1251.4 306.3 L1251.9 275.7 L1252.3 320.0 L1252.8 274.4 L1253.4 325.2 L1253.8 290.4 L1254.2 320.8 L1254.5 289.5 L1255.0 306.1 L1255.3 269.6 L1255.7 307.9 L1256.0 264.0 L1256.1 276.7 L1256.2 334.0 L1256.6 316.6 L1257.2 269.3 L1257.7 313.8 L1257.9 272.5 L1258.4 321.2 L1258.8 286.9 L1259.3 318.9 L1259.7 282.2 L1260.2 311.4 L1260.5 278.7 L1261.0 280.0 L1261.0 321.1 L1261.2 323.0 L1261.3 293.8 L1261.6 312.8 L1262.0 292.5 L1262.4 305.9 L1262.7 284.2 L1263.1 311.4 L1263.5 286.4 L1263.8 306.1 L1264.3 281.8 L1264.5 301.8 L1265.0 280.0 L1265.0 283.0 L1265.2 310.0 L1265.5 298.4 L1265.9 270.0 L1266.4 292.0 L1266.4 242.0 L1266.6 312.0 L1266.8 256.4 L1267.2 306.0 L1267.6 280.0 L1267.7 280.9 L1267.8 314.0 L1268.0 306.6 L1268.3 281.5 L1268.6 303.3 L1269.0 286.2 L1269.5 306.2 L1270.0 291.3 L1270.3 310.8 L1270.5 288.5 L1271.0 311.5 L1271.3 290.6 L1271.7 312.1 L1272.0 291.0 L1272.5 310.4 L1273.0 280.0 L1273.0 280.8 L1273.2 316.0 L1273.6 309.8 L1274.1 289.3 L1274.4 310.7 L1275.0 281.5 L1275.3 311.5 L1275.6 289.2 L1276.0 313.0 L1276.3 286.5 L1276.8 316.6 L1277.3 286.8 L1277.6 321.4 L1278.1 291.6 L1278.4 318.8 L1278.8 287.2 L1279.3 322.7 L1279.8 296.3 L1280.0 280.0 L1280.2 330.0 L1280.2 324.9 L1280.5 295.1 L1281.0 322.5 L1281.3 285.4 L1281.5 317.1 L1282.0 290.1 L1282.3 313.2 L1282.7 282.8 L1283.1 304.3 L1283.6 283.2 L1284.0 301.7 L1284.5 282.4 L1285.0 280.0 L1285.0 295.9 L1285.2 300.0 L1285.5 281.1 L1286.0 302.4 L1286.5 276.4 L1287.1 304.2 L1287.5 276.0 L1288.0 303.9 L1288.4 282.7 L1288.8 315.8 L1289.2 281.5 L1289.5 308.1 L1289.8 265.4 L1290.1 307.3 L1290.4 270.4 L1290.9 305.8 L1291.1 273.6 L1291.6 319.0 L1291.8 279.7 L1292.0 258.0 L1292.1 305.8 L1292.2 329.0 L1292.4 268.4 L1292.9 304.1 L1293.2 273.6 L1293.4 310.2 L1293.8 267.5 L1294.3 298.2 L1294.6 261.5 L1295.0 260.0 L1295.1 291.1 L1295.2 300.0 L1295.6 262.2 L1296.0 291.2 L1296.2 264.2 L1296.7 295.1 L1297.1 272.5 L1297.4 304.8 L1297.9 278.3 L1298.1 299.4 L1298.5 272.6 L1299.0 302.9 L1299.3 282.9 L1299.6 299.8 L1300.1 280.6 L1300.6 311.0 L1300.9 282.5 L1301.2 309.6 L1301.4 280.5 L1301.9 311.7 L1302.0 280.0 L1302.2 314.0 L1302.2 288.2 L1302.7 302.3 L1303.1 283.6 L1303.6 307.3 L1304.1 283.1 L1304.6 303.8 L1305.1 283.6 L1305.6 299.4 L1306.1 275.0 L1306.3 308.0 L1306.7 276.6 L1307.0 299.1 L1307.0 265.0 L1307.2 310.0 L1307.3 270.1 L1307.7 304.8 L1308.0 276.1 L1308.4 308.6 L1308.9 273.9 L1309.1 300.1 L1309.6 280.6 L1310.0 301.1 L1310.2 272.1 L1310.7 298.0 L1311.2 282.3 L1311.5 301.8 L1311.9 282.8 L1312.2 303.0 L1312.6 285.2 L1313.0 278.0 L1313.0 299.5 L1313.2 306.0 L1313.6 281.5 L1314.0 300.6 L1314.5 285.8 L1314.8 298.5 L1315.3 277.2 L1315.6 303.2 L1316.1 277.6 L1316.4 301.5 L1316.7 283.8 L1317.0 299.7 L1317.6 278.2 L1318.0 310.0 L1318.4 270.2 L1318.8 305.6 L1319.2 283.8 L1319.6 313.4 L1320.0 264.0 L1320.1 267.9 L1320.2 320.0 L1320.6 311.8 L1320.8 275.7 L1321.2 312.1 L1321.4 273.7 L1321.8 314.2 L1322.3 267.3 L1322.6 313.1 L1323.2 267.1 L1323.5 306.6 L1323.8 262.7 L1324.3 305.4 L1324.8 258.1 L1325.0 254.0 L1325.1 313.2 L1325.2 316.0 L1325.6 271.4 L1325.8 297.5 L1326.3 261.7 L1326.6 308.3 L1327.0 266.6 L1327.2 306.6 L1327.5 259.4 L1327.9 297.2 L1328.3 270.2 L1328.9 300.4 L1329.0 260.0 L1329.2 300.0 L1329.4 265.3 L1329.7 299.1 L1330.0 260.3 L1330.3 296.7 L1330.8 271.1 L1331.2 290.1 L1331.5 271.0 L1332.0 307.0 L1332.5 268.4 L1332.9 305.4 L1333.3 262.4 L1333.8 292.4 L1334.1 264.5 L1334.4 300.2 L1334.8 270.0 L1335.0 252.0 L1335.2 316.0 L1335.2 297.1 L1335.6 267.2 L1336.1 293.3 L1336.5 271.2 L1337.1 304.1 L1337.5 264.4 L1337.9 304.9 L1338.4 257.1 L1338.8 309.8 L1339.3 254.9 L1339.7 297.3 L1340.0 252.0 L1340.1 253.9 L1340.2 308.0 L1340.5 298.6 L1340.9 254.5 L1341.2 289.5 L1341.7 255.2 L1342.2 299.6 L1342.7 267.0 L1343.1 289.7 L1343.4 264.7 L1343.8 295.6 L1344.0 260.7 L1344.4 292.7 L1344.8 266.5 L1345.0 256.0 L1345.1 290.0 L1345.2 306.0 L1345.6 257.1 L1346.1 308.6 L1346.4 261.0 L1346.8 309.4 L1347.2 259.7 L1347.4 313.4 L1347.7 268.3 L1348.3 298.2 L1348.6 274.2 L1348.9 301.0 L1349.5 268.0 L1349.8 313.2 L1350.0 260.0 L1350.2 330.0 L1350.3 287.1 L1350.5 323.3 L1350.8 272.9 L1351.4 317.7 L1351.8 274.3 L1352.1 315.6 L1352.6 273.4 L1353.1 302.2 L1353.5 275.2 L1354.1 327.1 L1354.4 278.5 L1354.7 328.3 L1354.9 287.2 L1355.4 305.8 L1355.9 256.2 L1356.0 252.0 L1356.2 333.0 L1356.4 297.9 L1356.8 264.3 L1357.2 307.9 L1357.5 282.4 L1358.0 307.2 L1358.3 276.6 L1358.8 312.3 L1359.1 263.8 L1359.6 312.3 L1360.0 278.3 L1360.5 317.8 L1360.8 271.3 L1361.1 321.6 L1361.5 269.9 L1361.9 299.8 L1362.0 260.0 L1362.2 322.0 L1362.3 275.0 L1362.6 316.4 L1362.9 276.2 L1363.4 306.3 L1363.7 271.7 L1364.0 320.1 L1364.6 282.6 L1365.0 317.1 L1365.3 263.8 L1365.7 304.7 L1366.1 268.9 L1366.5 314.1 L1367.0 271.3 L1367.0 260.0 L1367.2 323.0 L1367.4 317.4 L1367.8 270.7 L1368.4 301.8 L1368.9 277.6 L1369.3 300.9 L1369.7 266.3 L1370.2 308.6 L1370.5 271.4 L1370.8 303.1 L1371.2 278.7 L1371.6 302.9 L1372.0 264.0 L1372.1 265.8 L1372.2 306.0 L1372.4 293.5 L1372.6 271.2 L1373.0 297.7 L1373.3 266.5 L1373.6 304.6 L1374.0 270.0 L1374.5 294.5 L1374.8 273.3 L1375.0 295.6 L1375.5 269.8 L1375.8 299.7 L1376.1 265.1 L1376.4 294.6 L1376.6 266.9 L1377.0 262.0 L1377.2 306.0 L1377.2 302.9 L1377.4 271.4 L1377.8 294.8 L1378.3 277.9 L1378.7 304.5 L1379.3 277.1 L1379.7 305.5 L1379.9 276.1 L1380.4 296.7 L1380.8 276.0 L1381.2 296.4 L1381.4 265.0 L1381.9 308.1 L1382.2 277.9 L1382.6 300.8 L1383.0 266.0 L1383.0 267.2 L1383.2 314.0 L1383.4 303.5 L1383.9 274.7 L1384.2 305.8 L1384.6 285.2 L1385.0 311.6 L1385.5 278.7 L1386.0 309.5 L1386.4 276.9 L1386.8 315.4 L1387.0 276.0 L1387.1 285.8 L1387.2 319.0 L1387.4 312.1 L1387.7 288.1 L1388.0 310.7 L1388.3 284.5 L1388.9 313.4 L1389.4 288.2 L1389.7 304.4 L1390.2 286.1 L1390.5 303.5 L1390.8 287.6 L1391.2 315.8 L1391.7 287.6 L1392.0 305.0 L1392.6 286.5 L1393.0 278.0 L1393.0 312.3 L1393.2 316.0 L1393.6 291.1 L1393.9 308.0 L1394.2 279.6 L1394.5 313.3 L1394.9 290.7 L1395.3 306.3 L1395.6 289.5 L1396.0 303.6 L1396.3 285.8 L1396.7 305.2 L1397.2 288.1 L1397.7 312.6 L1398.0 288.9 L1398.3 313.4 L1398.7 286.5 L1399.2 306.8 L1399.5 287.1 L1399.8 304.4 L1400.1 283.1 L1400.5 315.2 L1401.0 278.0 L1401.0 287.8 L1401.2 318.0 L1401.5 316.0 L1401.8 281.0 L1402.3 315.3 L1402.8 285.8 L1403.2 301.6 L1403.6 282.2 L1403.9 304.6 L1404.2 279.7 L1404.5 300.3 L1404.9 278.8 L1405.2 306.3 L1405.5 283.2 L1405.9 301.8 L1406.1 275.3 L1406.6 302.4 L1407.0 268.0 L1407.1 281.6 L1407.2 308.0 L1407.4 298.9 L1407.7 275.9 L1408.0 300.6 L1408.4 274.6 L1408.7 296.8 L1409.0 276.0 L1409.5 301.0 L1409.8 270.9 L1410.1 299.3 L1410.6 266.3 L1410.9 300.6 L1411.5 268.3 L1411.9 300.8 L1412.3 273.0 L1412.6 303.6 L1413.0 264.0 L1413.1 273.2 L1413.2 306.0 L1413.7 292.4 L1413.9 272.4 L1414.3 297.6 L1414.8 278.6 L1415.1 296.5 L1415.6 278.2 L1415.8 301.5 L1416.2 278.9 L1416.6 303.5 L1417.0 274.5 L1417.4 306.6 L1418.0 279.7 L1418.3 308.0 L1418.7 275.4 L1419.0 272.0 L1419.1 305.4 L1419.2 310.0 L1419.7 274.2 L1420.0 301.6 L1420.4 277.0 L1420.7 295.3 L1421.2 276.8 L1421.5 292.6 L1421.9 279.6 L1422.3 289.3 L1422.5 279.8 L1422.8 292.4 L1423.0 272.0 L1423.1 276.2 L1423.2 294.0 L1423.6 291.2 L1423.9 272.9 L1424.4 289.0 L1424.7 276.1 L1425.2 293.8 L1425.7 279.0 L1426.1 295.0 L1426.5 273.6 L1427.0 302.6 L1427.4 277.7 L1427.9 302.2 L1428.4 272.9 L1428.7 300.6 L1429.0 270.0 L1429.1 280.9 L1429.2 310.0 L1429.4 296.2 L1429.8 272.2 L1430.4 297.6 L1430.9 280.2 L1431.3 300.6 L1431.8 274.8 L1432.1 303.7 L1432.4 286.0 L1432.7 303.5 L1433.3 285.9 L1433.6 296.0 L1434.0 283.2 L1434.4 298.4 L1434.9 281.2 L1435.0 280.0 L1435.2 304.0 L1435.2 298.9 L1435.6 281.8 L1436.2 299.1 L1436.7 283.5 L1437.2 297.1 L1437.4 287.2 L1438.0 298.1 L1438.4 287.0 L1438.7 296.1 L1439.1 286.7 L1439.6 298.5 L1439.9 283.5 L1440.3 298.5 L1440.5 287.3 L1441.0 299.1 L1441.3 286.1 L1441.7 305.9 L1442.0 278.0 L1442.0 279.3 L1442.2 306.0 L1442.4 299.6 L1442.9 282.0 L1443.2 299.7 L1443.6 278.2 L1443.9 302.5 L1444.5 272.5 L1444.8 300.0 L1445.3 279.4 L1445.6 291.7 L1445.8 279.4 L1446.0 269.0 L1446.2 300.0 L1446.2 297.9 L1446.5 275.0 L1446.8 293.5" fill="none" stroke="#000" stroke-width="2" stroke-linejoin="round"/>
<path d="M1446.5 297.1 L1446.7 289.6 L1447.0 298.7 L1447.2 286.6 L1447.5 297.5 L1447.7 285.3 L1447.9 292.6 L1448.2 282.0 L1448.5 288.9 L1448.7 278.2 L1449.0 288.9 L1449.2 281.5 L1449.4 292.0 L1449.7 285.3 L1450.0 299.2 L1450.2 289.6 L1450.4 301.5 L1450.6 296.3 L1450.8 303.7 L1451.0 299.2 L1451.1 305.7 L1451.5 299.0 L1451.7 305.7 L1452.0 294.5 L1452.2 300.3 L1452.6 283.5 L1452.8 290.2 L1453.0 276.0 L1453.0 278.5 L1453.2 323.0 L1453.3 282.1 L1453.6 269.8 L1453.9 278.0 L1454.1 268.1 L1454.2 280.9 L1454.6 276.7 L1454.8 289.7 L1455.0 240.0 L1455.0 290.7 L1455.2 316.0 L1455.3 302.6 L1455.6 300.4 L1455.9 309.8 L1456.0 238.0 L1456.2 316.0 L1456.2 292.8 L1456.5 294.0 L1456.7 272.8 L1456.8 277.6 L1457.1 256.2 L1457.4 251.4 L1457.7 238.9 L1458.0 248.8 L1458.3 239.5 L1458.6 249.4 L1458.8 241.2 L1459.0 247.0 L1459.0 238.0 L1459.2 310.0 L1459.2 241.0 L1459.3 255.2 L1459.5 247.2 L1459.8 260.3 L1460.1 255.9 L1460.4 268.3 L1460.7 263.0 L1460.9 275.0 L1461.0 260.0 L1461.2 312.0 L1461.2 266.7 L1461.5 277.4 L1461.7 266.9 L1461.9 275.2 L1462.1 267.8 L1462.3 274.9 L1462.5 268.4 L1462.7 276.0 L1463.0 265.5 L1463.4 272.3 L1463.6 257.5 L1463.8 266.4 L1463.9 254.2 L1464.0 241.0 L1464.2 335.0 L1464.3 259.4 L1464.6 250.2 L1464.7 259.2 L1464.9 250.3 L1465.1 259.0 L1465.4 246.2 L1465.7 256.2 L1466.1 249.8 L1466.2 259.9 L1466.5 249.6 L1466.8 258.1 L1467.0 253.5 L1467.2 260.3 L1467.5 250.9 L1467.7 262.8 L1468.0 258.7 L1468.0 252.0 L1468.2 326.0 L1468.3 281.5 L1468.6 282.2 L1468.9 298.6 L1469.1 297.7 L1469.3 307.1 L1469.5 302.4 L1469.8 306.8 L1470.1 293.1 L1470.4 296.8 L1470.6 284.7 L1471.0 285.8 L1471.2 269.6 L1471.4 276.6 L1471.6 267.2 L1471.9 272.8 L1472.1 265.0 L1472.3 277.1 L1472.5 269.5 L1472.8 278.5 L1473.1 270.9 L1473.3 282.8 L1473.6 271.4 L1473.7 281.2 L1474.0 275.3 L1474.0 254.0 L1474.2 316.0 L1474.3 280.8 L1474.5 273.9 L1474.7 281.0 L1475.0 265.9 L1475.2 269.8 L1475.6 260.7 L1475.8 264.8 L1476.1 255.0 L1476.2 262.9 L1476.4 251.0 L1476.6 259.8 L1476.8 254.1 L1477.1 269.1 L1477.4 266.9 L1477.5 277.4 L1477.8 275.9 L1478.0 289.1 L1478.3 288.9 L1478.5 296.3 L1478.8 290.7 L1479.0 245.0 L1479.1 298.1 L1479.2 314.0 L1479.4 296.4 L1479.7 308.8 L1480.0 305.1 L1480.4 313.3 L1480.7 303.9 L1481.0 313.0 L1481.2 305.8 L1481.6 314.5 L1481.9 297.6 L1482.0 298.1 L1482.2 286.6 L1482.5 281.4 L1482.8 260.3 L1483.0 248.0 L1483.1 267.7 L1483.2 320.0 L1483.4 257.7 L1483.5 270.6 L1483.7 263.7 L1484.0 279.7 L1484.3 280.0 L1484.5 294.9 L1484.7 288.3 L1484.9 303.5 L1485.1 299.2 L1485.3 310.0 L1485.4 306.7 L1485.7 317.0 L1485.9 306.6 L1486.1 313.8 L1486.3 307.3 L1486.5 311.9 L1486.7 305.4 L1487.0 311.7 L1487.4 300.0 L1487.7 308.8 L1487.9 299.9 L1488.0 280.0 L1488.1 312.6 L1488.2 334.0 L1488.3 302.7 L1488.6 312.9 L1488.8 306.5 L1489.0 318.8 L1489.2 313.2 L1489.4 325.3 L1489.6 319.9 L1489.9 325.8 L1490.0 318.7 L1490.3 323.1 L1490.5 316.0 L1490.6 325.0 L1490.9 309.7 L1491.3 309.5 L1491.5 297.1 L1491.7 303.0 L1491.8 287.4 L1492.1 295.5 L1492.3 281.3 L1492.6 291.5 L1492.9 282.4 L1493.1 295.8 L1493.4 289.5 L1493.6 302.7 L1493.9 296.2 L1494.0 272.0 L1494.2 316.0 L1494.2 310.4 L1494.5 306.1 L1494.7 313.3 L1495.0 306.4 L1495.2 311.3 L1495.5 301.8 L1495.7 304.6 L1496.0 289.5 L1496.2 289.0 L1496.5 276.3 L1496.8 276.8 L1497.1 265.4 L1497.4 275.7 L1497.7 270.5 L1498.1 280.5 L1498.4 279.5 L1498.6 294.2 L1498.9 289.5 L1499.0 244.0 L1499.2 312.0 L1499.2 300.6 L1499.4 292.3 L1499.6 301.6 L1499.9 287.6 L1500.1 293.0 L1500.3 281.5 L1500.6 277.9 L1501.0 264.6 L1501.0 237.0 L1501.2 312.0 L1501.2 267.8 L1501.4 257.0 L1501.7 263.1 L1501.9 257.8 L1502.2 266.9 L1502.5 265.9 L1502.7 280.8 L1503.0 281.8 L1503.2 296.5 L1503.4 291.1 L1503.6 305.7 L1503.9 298.4 L1504.0 240.0 L1504.2 320.0 L1504.2 308.9 L1504.4 298.8 L1504.6 304.8 L1504.8 291.2 L1505.1 292.4 L1505.3 273.3 L1505.5 276.0 L1505.7 263.1 L1505.8 269.5 L1506.1 258.2 L1506.3 263.7 L1506.5 256.5 L1506.7 272.3 L1507.0 252.0 L1507.0 272.9 L1507.2 343.0 L1507.3 292.8 L1507.5 295.7 L1507.8 318.3 L1508.1 315.6 L1508.3 330.9 L1508.5 322.4 L1508.7 332.7 L1508.9 318.8 L1509.2 319.8 L1509.5 301.4 L1509.8 299.6 L1510.1 278.3 L1510.4 277.6 L1510.7 272.0 L1511.0 282.8 L1511.3 272.9 L1511.5 286.5 L1511.8 290.1 L1512.1 310.5 L1512.3 310.5 L1512.6 330.4 L1512.9 329.6 L1513.0 280.0 L1513.2 339.0 L1513.2 337.1 L1513.5 326.2 L1513.7 335.3 L1513.9 321.0 L1514.2 319.1 L1514.5 303.1 L1514.7 303.0 L1515.0 287.3 L1515.3 290.4 L1515.6 279.2 L1515.8 290.3 L1516.0 280.9 L1516.3 288.0 L1516.5 283.0 L1516.8 292.7 L1517.0 282.5 L1517.2 293.1 L1517.4 284.0 L1517.7 292.5 L1518.0 284.9 L1518.2 293.4 L1518.4 284.2 L1518.7 298.4 L1519.0 293.7 L1519.0 244.0 L1519.2 320.0 L1519.3 307.2 L1519.5 299.0 L1519.8 310.3 L1520.0 302.1 L1520.2 311.4 L1520.5 299.2 L1520.7 306.2 L1520.9 295.8 L1521.1 302.1 L1521.4 293.9 L1521.7 299.6 L1521.9 289.7 L1522.0 232.0 L1522.2 308.0 L1522.2 296.7 L1522.5 290.0 L1522.7 293.4 L1523.1 278.3 L1523.3 281.0 L1523.4 268.3 L1523.7 267.4 L1523.9 246.7 L1524.1 249.2 L1524.4 236.5 L1524.7 243.2 L1524.9 236.4 L1525.1 244.1 L1525.4 235.0 L1525.6 245.4 L1525.8 235.2 L1526.1 242.2 L1526.4 235.9 L1526.6 242.8 L1526.8 236.9 L1527.1 243.3 L1527.4 234.1 L1527.7 256.9 L1528.1 268.9 L1528.4 301.2 L1528.5 301.0 L1528.9 326.9 L1529.0 234.0 L1529.1 321.1 L1529.2 330.0 L1529.4 325.0 L1529.6 319.2 L1529.8 325.8 L1530.1 314.6 L1530.3 325.2 L1530.6 312.2 L1531.0 321.7 L1531.3 308.1 L1531.4 319.0 L1531.6 308.0 L1531.8 313.9 L1532.0 300.8 L1532.3 303.7 L1532.4 289.7 L1532.7 286.3 L1532.9 272.1 L1533.2 268.4 L1533.5 252.5 L1533.8 256.2 L1534.1 248.3 L1534.5 262.8 L1534.8 262.6 L1535.1 286.5 L1535.3 284.3 L1535.7 302.0 L1535.9 295.2 L1536.0 234.0 L1536.1 304.2 L1536.2 306.0 L1536.3 295.7 L1536.4 305.1 L1536.6 293.6 L1536.9 291.8 L1537.1 273.3 L1537.3 276.4 L1537.6 253.8 L1537.8 252.2 L1538.0 235.8 L1538.2 244.5 L1538.4 235.0 L1538.8 243.9 L1539.0 235.2 L1539.2 246.7 L1539.4 242.8 L1539.7 263.0 L1540.1 262.9 L1540.3 278.4 L1540.6 274.2 L1540.8 284.3 L1541.1 277.1 L1541.4 288.7 L1541.7 284.1 L1542.0 296.0 L1542.2 291.4 L1542.4 302.7 L1542.6 295.8 L1542.8 305.6 L1543.0 232.0 L1543.0 296.5 L1543.2 320.0 L1543.2 306.1 L1543.5 297.7 L1543.7 307.7 L1544.0 298.3 L1544.2 310.8 L1544.5 303.9 L1544.8 309.7 L1545.1 304.1 L1545.5 312.6 L1545.8 299.2 L1546.0 301.9 L1546.2 288.8 L1546.3 288.9 L1546.6 274.4 L1546.8 272.0 L1547.0 253.5 L1547.2 255.5 L1547.4 240.2 L1547.6 249.3 L1547.7 236.5 L1548.0 250.9 L1548.2 247.6 L1548.5 267.4 L1548.7 268.4 L1548.9 288.1 L1549.0 225.0 L1549.1 288.7 L1549.2 330.0 L1549.4 311.1 L1549.7 317.2 L1549.9 327.5 L1550.1 320.2 L1550.4 329.7 L1550.6 321.9 L1550.9 329.2 L1551.1 320.1 L1551.5 329.7 L1551.7 321.2 L1551.9 330.9 L1552.1 325.1 L1552.3 332.2 L1552.7 323.9 L1552.9 326.9 L1553.0 313.6 L1553.3 310.0 L1553.6 290.4 L1553.9 290.1 L1554.2 277.0 L1554.3 282.4 L1554.6 270.9 L1554.9 281.7 L1555.0 242.0 L1555.2 338.0 L1555.2 280.2 L1555.5 298.8 L1555.7 295.0 L1556.0 312.7 L1556.3 311.0 L1556.6 326.0 L1556.7 319.7 L1557.0 329.1 L1557.2 323.7 L1557.5 332.4 L1557.8 325.7 L1558.0 337.7 L1558.2 333.8 L1558.4 341.6 L1558.6 336.6 L1558.9 343.4 L1559.1 334.4 L1559.4 344.8 L1559.6 334.9 L1559.9 335.9 L1560.2 316.5 L1560.4 316.3 L1560.6 293.4 L1560.8 295.8 L1561.1 276.6 L1561.3 278.5 L1561.5 270.9 L1561.8 279.4 L1561.9 277.8 L1562.2 297.2 L1562.6 300.1 L1562.8 320.2 L1563.0 252.0 L1563.1 321.8 L1563.2 355.0 L1563.4 341.9 L1563.6 337.1 L1563.9 347.0 L1564.1 334.7 L1564.4 336.7 L1564.6 320.3 L1564.8 321.4 L1564.9 309.0 L1565.2 307.5 L1565.5 293.7 L1565.8 297.9 L1566.0 288.9 L1566.2 296.6 L1566.4 290.0 L1566.6 303.7 L1566.8 299.1 L1567.1 319.7 L1567.3 316.6 L1567.6 333.6 L1567.8 329.7 L1568.1 340.1 L1568.4 334.3 L1568.7 343.1 L1569.0 300.0 L1569.0 331.1 L1569.2 357.0 L1569.3 333.1 L1569.6 318.0 L1569.9 316.6 L1570.1 303.0 L1570.3 309.5 L1570.5 302.8 L1570.7 309.9 L1571.0 299.6 L1571.2 308.0 L1571.5 300.2 L1571.8 308.7 L1572.0 303.6 L1572.3 313.2 L1572.6 305.0 L1572.9 313.3 L1573.1 304.7 L1573.4 314.4 L1573.7 314.1 L1573.9 322.0 L1574.0 296.0 L1574.1 318.9 L1574.2 358.0 L1574.3 336.0 L1574.5 332.1 L1574.7 343.3 L1574.9 342.6 L1575.2 354.1 L1575.5 346.1 L1575.7 348.5 L1575.9 334.0 L1576.2 333.2 L1576.5 310.6 L1576.8 305.3 L1577.0 290.2 L1577.0 263.0 L1577.1 293.0 L1577.2 365.0 L1577.4 277.6 L1577.7 286.9 L1578.0 289.3 L1578.2 302.4 L1578.3 301.1 L1578.5 323.0 L1578.8 327.0 L1579.0 348.5 L1579.4 352.8 L1579.7 363.7 L1579.9 356.1 L1580.2 363.0 L1580.5 355.4 L1580.8 353.8 L1581.0 333.3 L1581.2 336.3 L1581.3 321.9 L1581.5 321.9 L1581.7 306.4 L1582.0 314.2 L1582.2 302.3 L1582.5 315.4 L1582.8 310.9 L1583.0 321.2 L1583.0 298.0 L1583.2 366.0 L1583.2 314.3 L1583.5 327.8 L1583.7 318.6 L1584.0 332.5 L1584.2 320.3 L1584.4 330.9 L1584.6 322.5 L1584.8 328.6 L1585.0 296.0 L1585.0 317.4 L1585.2 352.0 L1585.3 318.7 L1585.5 304.0 L1585.7 305.4 L1585.9 289.6 L1586.1 294.7 L1586.3 276.8 L1586.4 281.4 L1586.6 266.5 L1586.8 270.1 L1587.0 239.0 L1587.1 259.7 L1587.2 340.0 L1587.3 272.4 L1587.5 274.3 L1587.8 297.3 L1588.1 301.5 L1588.3 316.5 L1588.4 315.3 L1588.7 330.2 L1588.9 319.9 L1589.1 328.8 L1589.5 321.6 L1589.7 322.4 L1589.9 301.6 L1590.3 293.7 L1590.6 266.7 L1590.9 261.9 L1591.2 243.9 L1591.5 248.7 L1591.8 243.7 L1592.0 227.0 L1592.1 265.9 L1592.2 320.0 L1592.3 266.6 L1592.5 290.4 L1592.7 291.0 L1593.0 314.5 L1593.2 314.2 L1593.5 321.6 L1593.7 315.4 L1593.9 326.5 L1594.2 318.7 L1594.4 325.9 L1594.6 314.6 L1594.8 319.6 L1595.0 307.0 L1595.3 312.2 L1595.5 300.6 L1595.8 309.0 L1596.0 300.9 L1596.3 310.8 L1596.6 308.0 L1596.8 317.9 L1596.9 311.3 L1597.0 280.0 L1597.2 338.0 L1597.2 322.9 L1597.5 314.8 L1597.7 323.4 L1598.0 318.5 L1598.3 323.3 L1598.6 312.1 L1598.8 320.2 L1599.0 308.0 L1599.2 306.3 L1599.4 292.6 L1599.7 292.3 L1600.1 275.1 L1600.3 279.9 L1600.5 268.8 L1600.8 273.3 L1601.0 267.7 L1601.2 278.9 L1601.5 276.3 L1601.7 287.0 L1601.9 280.0 L1602.2 293.0 L1602.3 290.5 L1602.5 300.2 L1602.9 292.3 L1603.0 250.0 L1603.1 301.0 L1603.2 312.0 L1603.4 288.6 L1603.7 292.2 L1603.9 277.1 L1604.1 281.2 L1604.3 271.6 L1604.7 273.2 L1604.8 265.9 L1605.1 271.2 L1605.5 264.6 L1605.7 272.3 L1606.0 268.8 L1606.3 283.8 L1606.5 278.8 L1606.8 291.2 L1607.1 283.4 L1607.4 292.8 L1607.6 283.0 L1607.8 292.3 L1608.1 281.0 L1608.4 290.5 L1608.7 277.8 L1609.0 286.2 L1609.0 260.0 L1609.1 273.3 L1609.2 310.0 L1609.3 280.4 L1609.6 273.1 L1610.0 280.3 L1610.3 270.5 L1610.6 282.2 L1610.8 274.0 L1611.1 287.0 L1611.3 279.6 L1611.5 290.8 L1611.7 284.6 L1612.0 294.4 L1612.3 286.9 L1612.6 295.5 L1612.9 292.7 L1613.0 301.4 L1613.4 295.2 L1613.7 309.5 L1614.0 299.9 L1614.3 313.5 L1614.5 304.6 L1614.7 310.2 L1615.0 295.2 L1615.3 299.5 L1615.6 279.1 L1615.8 280.2 L1616.0 264.4 L1616.0 244.0 L1616.2 322.0 L1616.2 268.2 L1616.4 253.1 L1616.8 263.7 L1617.0 253.3 L1617.3 262.5 L1617.5 252.5 L1617.8 261.2 L1618.1 257.0 L1618.2 265.6 L1618.5 256.3 L1618.9 263.7 L1619.0 258.9 L1619.3 265.8 L1619.6 259.6 L1619.8 275.7 L1620.0 267.8 L1620.0 254.0 L1620.2 320.0 L1620.2 282.3 L1620.4 277.4 L1620.7 287.6 L1621.0 284.0 L1621.1 292.7 L1621.4 286.9 L1621.5 295.4 L1621.8 291.6 L1622.1 300.5 L1622.4 296.4 L1622.6 311.6 L1622.7 305.5 L1622.9 314.0 L1623.2 309.2 L1623.5 320.8 L1623.8 313.0 L1624.0 317.4 L1624.0 252.0 L1624.2 330.0 L1624.3 300.5 L1624.5 301.4 L1624.8 284.5 L1625.0 288.1 L1625.0 258.0 L1625.2 331.0 L1625.2 271.5 L1625.4 271.7 L1625.7 262.0 L1626.1 268.4 L1626.2 259.3 L1626.4 268.7 L1626.6 260.8 L1626.9 268.1 L1627.3 262.9 L1627.6 272.2 L1627.8 264.1 L1628.0 271.6 L1628.2 266.0 L1628.4 271.6 L1628.7 268.2 L1628.9 273.9 L1629.0 259.0 L1629.2 296.0 L1629.2 268.1 L1629.4 280.4 L1629.8 275.0 L1630.0 287.1 L1630.2 280.5 L1630.5 286.1 L1630.8 277.0 L1630.9 286.7 L1631.2 276.4 L1631.4 285.2 L1631.7 270.2 L1632.0 278.8 L1632.3 264.6 L1632.6 270.9 L1632.8 265.0 L1633.1 271.3 L1633.4 267.4 L1633.6 276.6 L1633.8 270.2 L1634.0 280.7 L1634.3 277.5 L1634.6 286.6 L1634.8 282.6 L1635.0 256.0 L1635.0 290.2 L1635.2 296.0 L1635.4 281.8 L1635.7 289.2 L1635.9 279.7 L1636.1 288.2 L1636.4 277.8 L1636.6 288.0 L1636.8 281.2 L1637.0 286.2 L1637.3 280.8 L1637.5 286.9 L1637.6 278.5 L1637.9 290.2 L1638.2 281.4 L1638.4 291.1 L1638.7 286.5 L1638.9 297.0 L1639.2 287.0 L1639.5 297.9 L1639.9 288.6 L1640.0 270.0 L1640.2 300.0 L1640.2 295.4 L1640.4 288.7 L1640.6 295.1 L1640.9 281.9 L1641.1 284.4 L1641.4 272.0 L1641.7 278.7 L1641.9 269.9 L1642.1 274.6 L1642.3 265.9 L1642.7 273.8 L1643.0 266.7 L1643.2 276.0 L1643.4 264.9 L1643.8 271.9 L1644.0 265.7 L1644.2 272.9 L1644.4 263.2 L1644.5 272.2 L1644.7 264.3 L1644.9 278.6 L1645.1 274.0 L1645.4 286.5 L1645.7 287.1 L1646.1 304.1 L1646.4 300.8 L1646.6 307.7 L1646.9 300.2 L1647.0 253.0 L1647.2 312.0 L1647.2 303.2 L1647.5 288.5 L1647.9 286.5 L1648.1 270.5 L1648.4 272.7 L1648.6 263.8 L1648.7 268.3 L1648.9 261.8 L1649.3 271.1 L1649.5 270.6 L1649.7 281.8 L1649.9 279.7 L1650.2 298.9 L1650.4 297.0 L1650.6 308.4 L1650.9 304.1 L1651.0 313.0 L1651.3 301.8 L1651.5 310.1 L1651.8 304.6 L1652.0 262.0 L1652.0 313.8 L1652.2 314.0 L1652.3 300.4 L1652.6 305.4 L1652.8 298.4 L1653.1 305.6 L1653.3 294.7 L1653.5 303.0 L1653.8 294.3 L1654.0 299.5 L1654.3 288.7 L1654.5 293.5 L1654.6 284.0 L1654.8 288.9 L1655.0 275.9 L1655.3 280.9 L1655.6 274.2 L1655.9 281.0 L1656.2 275.2 L1656.5 288.2 L1656.8 288.1 L1656.9 301.1 L1657.0 268.0 L1657.2 318.0 L1657.3 299.9 L1657.5 311.8 L1657.7 307.8 L1657.9 315.2 L1658.2 308.0 L1658.3 314.4 L1658.6 309.4 L1658.9 310.1 L1659.1 299.8 L1659.4 299.5 L1659.8 288.0 L1660.0 293.2 L1660.3 282.5 L1660.5 293.4 L1660.7 282.4 L1661.0 296.5 L1661.3 289.0 L1661.6 303.1 L1661.9 297.8 L1662.0 276.0 L1662.2 320.0 L1662.2 309.2 L1662.5 303.2 L1662.8 311.8 L1663.0 303.1 L1663.2 310.9 L1663.5 299.0 L1663.7 308.7 L1663.8 297.4 L1664.0 304.4 L1664.2 294.0 L1664.4 299.3 L1664.6 291.3 L1664.9 298.8 L1665.2 289.0 L1665.5 300.9 L1665.7 293.8 L1666.0 292.0 L1666.0 303.1 L1666.2 332.0 L1666.3 289.1 L1666.5 295.2 L1666.8 285.1 L1667.1 288.9 L1667.3 275.6 L1667.5 280.3 L1667.7 272.0 L1667.9 278.1 L1668.2 262.6 L1668.4 270.5 L1668.7 262.1 L1668.9 271.3 L1669.1 263.8 L1669.4 245.0 L1669.4 274.2 L1669.6 326.0 L1669.7 267.2 L1670.1 274.7 L1670.3 267.8 L1670.6 274.2 L1670.9 267.4 L1671.2 276.7 L1671.5 265.9 L1671.8 275.5 L1672.1 271.7 L1672.2 280.0 L1672.5 281.1 L1672.7 294.7 L1673.0 290.9 L1673.1 307.0 L1673.4 305.7 L1673.7 314.9 L1674.0 313.2 L1674.0 280.0 L1674.2 326.0 L1674.3 319.2 L1674.6 311.7 L1674.8 318.3 L1675.0 303.3 L1675.4 306.9 L1675.7 287.0 L1676.0 289.6 L1676.2 279.9 L1676.3 284.9 L1676.6 274.2 L1676.8 282.4 L1677.0 278.1 L1677.2 287.1 L1677.5 285.0 L1677.7 297.8 L1678.0 296.6 L1678.3 315.4 L1678.6 312.3 L1678.9 321.8 L1679.0 248.0 L1679.1 310.3 L1679.2 332.0 L1679.3 322.6 L1679.6 310.9 L1679.8 319.8 L1680.1 314.7 L1680.3 322.3 L1680.4 313.5 L1680.8 324.8 L1681.1 317.2 L1681.4 326.8 L1681.7 318.3 L1681.9 329.2 L1682.0 237.0 L1682.2 338.0 L1682.2 320.7 L1682.4 333.2 L1682.7 322.0 L1683.0 333.8 L1683.2 323.9 L1683.4 330.5 L1683.6 323.2 L1683.7 328.4 L1684.1 307.4 L1684.4 304.1 L1684.6 284.3 L1684.8 287.0 L1685.0 268.9 L1685.2 272.7 L1685.5 259.2 L1685.7 268.2 L1686.0 259.8 L1686.3 268.9 L1686.5 262.3 L1686.8 270.0 L1687.0 262.8 L1687.0 246.0 L1687.2 324.0 L1687.2 274.2 L1687.5 267.4 L1687.8 278.3 L1688.0 273.7 L1688.3 285.8 L1688.6 279.9 L1688.9 293.1 L1689.2 286.1 L1689.4 301.6 L1689.7 293.7 L1689.9 307.6 L1690.0 264.0 L1690.2 345.0 L1690.2 296.0 L1690.5 303.7 L1690.7 293.8 L1691.0 307.2 L1691.3 300.2 L1691.5 315.3 L1691.8 308.2 L1692.1 323.4 L1692.2 314.0 L1692.5 323.9 L1692.8 311.7 L1693.0 314.9 L1693.0 234.0 L1693.2 320.0 L1693.2 301.8 L1693.4 303.0 L1693.7 285.3 L1693.9 286.6 L1694.1 267.3 L1694.3 273.6 L1694.6 257.4 L1694.9 264.0 L1695.2 257.8 L1695.4 270.7 L1695.7 272.2 L1696.0 286.5 L1696.1 285.2 L1696.4 301.7 L1696.6 299.2 L1696.8 310.6 L1697.0 305.4 L1697.0 254.0 L1697.2 330.0 L1697.2 312.8 L1697.4 303.5 L1697.6 315.8 L1697.8 306.0 L1698.0 316.1 L1698.2 308.7 L1698.4 319.4 L1698.6 313.1 L1698.8 321.2 L1699.1 312.8 L1699.4 322.0 L1699.6 309.9 L1699.9 317.4 L1700.1 304.0 L1700.3 309.7 L1700.5 294.3 L1700.8 293.8 L1701.1 272.5 L1701.3 275.3 L1701.6 264.7 L1701.9 272.1 L1702.0 249.0 L1702.1 263.7 L1702.2 316.0 L1702.4 277.6 L1702.7 272.1 L1703.0 287.6 L1703.2 283.9 L1703.4 294.9 L1703.7 290.7 L1703.9 299.6 L1704.1 291.7 L1704.4 300.4 L1704.7 283.0 L1705.0 280.9 L1705.0 232.0 L1705.2 316.0 L1705.3 258.4 L1705.5 261.3 L1705.8 238.3 L1706.1 241.2 L1706.4 230.0 L1706.6 236.0 L1706.9 230.1 L1707.2 239.1 L1707.4 233.0 L1707.8 245.5 L1708.0 240.5 L1708.1 246.5 L1708.5 240.8 L1708.6 216.0 L1708.7 248.5 L1708.8 314.0 L1709.0 244.3 L1709.3 251.1 L1709.5 240.2 L1709.6 248.2 L1709.9 237.8 L1710.1 245.6 L1710.3 237.1 L1710.6 244.0 L1710.7 236.6 L1711.0 244.1 L1711.3 239.4 L1711.4 230.0 L1711.5 261.2 L1711.6 346.0 L1711.7 259.3 L1711.9 277.2 L1712.1 281.2 L1712.3 300.9 L1712.4 298.6 L1712.6 318.0 L1712.9 318.1 L1713.0 328.3 L1713.3 324.2 L1713.5 333.9 L1713.7 322.0 L1714.0 328.2 L1714.3 309.5 L1714.5 316.5 L1714.8 300.9 L1715.0 276.0 L1715.1 306.4 L1715.2 355.0 L1715.3 294.3 L1715.6 302.9 L1715.8 291.5 L1716.0 306.2 L1716.3 303.5 L1716.6 320.0 L1716.9 323.1 L1717.1 336.4 L1717.4 330.0 L1717.7 345.0 L1718.0 276.0 L1718.0 334.8 L1718.2 344.0 L1718.3 340.8 L1718.6 321.1 L1719.0 320.6 L1719.1 306.5 L1719.5 305.5 L1719.7 292.0 L1720.0 294.5 L1720.3 286.1 L1720.5 297.7 L1720.8 295.7 L1721.1 309.2 L1721.3 307.4 L1721.6 324.8 L1721.8 316.7 L1722.0 292.0 L1722.1 330.3 L1722.2 344.0 L1722.2 323.3 L1722.6 330.9 L1722.8 319.0 L1723.0 329.6 L1723.3 318.3" fill="none" stroke="#000" stroke-width="2.6" stroke-linejoin="round"/>
<path d="M1723.8 330.0 L1724.4 260.0 L1725.0 208.0 L1725.6 224.0 L1726.4 206.0 L1727.2 211.0 L1728.0 204.0 L1729.0 201.0" fill="none" stroke="#000" stroke-width="2" stroke-linejoin="round"/>
<line x1="1729.40" y1="455.00" x2="1729.40" y2="110.00" stroke="#000" stroke-width="3" stroke-dasharray="3.1 5.1"/>
<path d="M1231.5 223.6 L1232.0 190.0 L1232.1 221.5 L1232.2 228.0 L1232.8 195.4 L1233.4 229.9 L1233.9 197.7 L1234.5 222.1 L1234.8 190.5 L1235.0 187.0 L1235.2 232.0 L1235.2 192.1 L1235.8 232.4 L1236.1 193.2 L1236.8 226.7 L1237.2 202.7 L1237.5 229.2 L1237.9 199.3 L1238.5 233.1 L1238.9 211.0 L1239.0 204.0 L1239.2 234.0 L1239.6 203.9 L1240.3 231.7 L1240.8 201.0 L1241.5 230.6 L1242.0 198.0 L1242.2 236.0 L1242.2 205.8 L1242.6 234.9 L1243.0 197.2 L1243.3 236.2 L1243.8 195.5 L1244.4 237.3 L1244.8 202.5 L1245.0 194.0 L1245.2 240.0 L1245.3 195.2 L1245.8 232.1 L1246.1 202.9 L1246.5 230.5 L1247.1 189.8 L1247.7 233.6 L1248.2 187.5 L1248.6 233.9 L1249.0 186.0 L1249.2 234.0 L1249.2 187.5 L1249.8 229.5 L1250.5 192.6 L1251.0 245.7 L1251.6 193.3 L1252.0 194.0 L1252.2 260.0 L1252.2 204.9 L1252.8 269.0 L1253.5 185.2 L1253.9 270.4 L1254.4 179.0 L1254.6 287.0 L1254.6 184.2 L1255.3 276.9 L1255.7 185.7 L1256.1 286.6 L1256.4 197.3 L1257.1 285.6 L1257.4 209.9 L1258.0 281.0 L1258.0 186.0 L1258.2 287.0 L1258.3 196.0 L1259.0 279.6 L1259.4 181.6 L1260.1 286.9 L1260.6 198.2 L1261.0 270.2 L1261.6 187.6 L1262.0 173.0 L1262.2 287.0 L1262.3 172.9 L1262.7 285.6 L1263.4 172.4 L1263.8 256.9 L1264.5 193.8 L1265.0 277.1 L1265.6 170.3 L1266.0 279.5 L1266.0 159.0 L1266.2 287.0 L1266.3 169.1 L1267.0 259.6 L1267.6 185.0 L1267.6 176.0 L1267.8 287.0 L1268.0 176.6 L1268.4 268.3 L1269.0 176.0 L1269.1 281.6 L1269.2 287.0 L1269.7 193.5 L1270.3 272.3 L1270.9 178.6 L1271.5 283.2 L1271.9 190.3 L1272.5 282.9 L1273.2 184.0 L1273.7 287.0 L1274.0 168.0 L1274.2 287.0 L1274.3 171.7 L1274.8 278.4 L1275.4 185.4 L1276.1 281.7 L1276.6 190.7 L1277.0 174.0 L1277.2 287.0 L1277.3 178.7 L1277.9 263.9 L1278.5 198.4 L1279.2 276.7 L1279.7 169.0 L1280.3 259.7 L1280.8 181.5 L1281.0 164.0 L1281.2 287.0 L1281.4 183.9 L1281.7 266.7 L1282.3 184.4 L1282.7 273.0 L1283.4 187.1 L1283.9 286.2 L1284.3 184.6 L1284.9 283.7 L1285.0 180.0 L1285.2 286.0 L1285.4 192.3 L1285.8 277.8 L1286.2 179.1 L1286.5 281.4 L1286.9 180.1 L1287.2 277.5 L1287.6 189.7 L1288.2 282.5 L1288.8 176.2 L1289.0 176.0 L1289.2 285.0 L1289.3 179.2 L1289.8 283.9 L1290.4 180.3 L1290.7 271.9 L1291.0 174.0 L1291.1 273.1 L1291.2 284.4 L1291.5 196.9 L1292.2 250.9 L1292.2 208.0 L1292.4 260.0 L1292.6 217.3 L1293.2 257.4 L1293.6 213.7 L1293.6 208.0 L1293.8 260.0 L1294.1 211.1 L1294.6 176.0 L1294.8 284.0 L1294.8 185.3 L1295.2 258.9 L1295.5 158.8 L1296.0 148.0 L1296.0 268.4 L1296.2 284.0 L1296.4 171.0 L1297.0 278.0 L1297.4 176.0 L1297.5 281.5 L1297.6 284.0 L1297.9 205.9 L1298.4 261.0 L1299.0 192.0 L1299.1 274.0 L1299.2 284.0 L1299.5 214.5 L1300.0 278.4 L1300.4 214.9 L1300.9 280.9 L1301.4 194.0 L1301.9 277.8 L1302.3 208.9 L1303.0 284.0 L1303.0 194.0 L1303.2 284.0 L1303.5 198.4 L1304.2 269.5 L1304.2 198.0 L1304.4 284.0 L1304.6 200.7 L1304.9 240.8 L1305.3 204.1 L1305.4 200.0 L1305.6 234.0 L1305.8 204.5 L1306.4 227.1 L1306.7 206.2 L1307.1 227.6 L1307.6 203.4 L1308.1 226.2 L1308.5 207.2 L1309.0 204.0 L1309.1 226.2 L1309.2 226.0 L1309.5 206.7 L1310.1 225.2 L1310.6 208.1 L1311.3 232.3 L1311.8 214.5 L1312.3 235.7 L1313.0 214.0 L1313.0 238.6 L1313.2 240.0 L1313.5 220.2 L1313.8 241.6 L1314.5 217.8 L1315.1 242.5 L1315.6 221.4 L1316.2 243.6 L1316.5 225.0 L1317.0 224.0 L1317.1 249.9 L1317.2 252.0 L1317.5 224.4 L1318.0 249.4 L1318.4 224.8 L1319.0 251.9 L1319.6 224.0 L1319.8 224.0 L1320.0 260.0 L1320.1 218.1 L1320.6 175.0 L1320.8 272.0 L1320.8 198.9 L1321.2 258.8 L1321.5 227.7 L1321.6 224.0 L1321.8 272.0 L1322.2 231.7 L1322.6 270.4 L1323.0 226.0 L1323.2 272.0 L1323.2 226.2 L1323.8 258.5 L1324.2 228.0 L1324.4 224.0 L1324.5 251.8 L1324.6 252.0 L1324.9 223.8 L1325.3 249.1 L1325.8 229.0 L1326.2 250.1 L1326.6 226.0 L1327.1 245.3 L1327.6 222.3 L1328.0 222.0 L1328.2 252.0 L1328.2 222.7 L1328.7 270.9 L1329.0 224.0 L1329.2 285.0 L1329.4 229.1 L1329.9 253.9 L1330.0 225.0 L1330.2 252.0 L1330.4 225.9 L1331.0 249.7 L1331.4 226.1 L1331.8 248.0 L1332.2 229.6 L1332.8 251.9 L1333.0 226.0 L1333.2 252.0 L1333.3 225.8 L1333.7 249.5 L1334.1 230.5 L1334.6 251.9 L1335.2 223.8 L1335.8 253.8 L1336.0 223.0 L1336.1 246.9 L1336.2 254.0 L1336.7 226.0 L1337.1 247.4 L1337.6 233.0 L1338.0 251.1 L1338.4 231.5 L1338.9 251.5 L1339.3 234.8 L1339.7 250.4 L1340.0 236.0 L1340.2 254.0 L1340.2 238.8 L1340.7 250.2 L1341.2 235.4 L1341.7 250.6 L1342.2 230.9 L1342.5 253.5 L1342.8 234.4 L1343.3 249.8 L1343.6 229.3 L1344.3 250.7 L1344.7 226.8 L1345.0 224.0 L1345.1 254.7 L1345.2 254.0 L1345.4 229.3 L1345.9 260.0 L1346.2 234.0 L1346.3 270.3 L1346.4 272.0 L1346.7 235.2 L1347.1 259.7 L1347.4 236.0 L1347.6 256.0 L1347.6 235.9 L1348.2 255.6 L1348.9 237.9 L1349.5 255.9 L1350.0 234.0 L1350.2 258.0 L1350.2 233.5 L1350.7 256.1 L1351.3 232.6 L1351.7 255.3 L1352.0 226.1 L1352.3 253.2 L1353.0 222.6 L1353.4 251.0 L1353.8 222.7 L1354.4 251.7 L1354.6 214.0 L1354.8 252.0 L1354.8 219.9 L1355.5 249.6 L1356.0 228.2 L1356.3 255.8 L1356.9 225.4 L1357.2 254.9 L1357.9 230.4 L1358.0 228.0 L1358.2 260.0 L1358.3 227.5 L1358.7 253.0 L1359.2 233.4 L1359.5 259.1 L1359.8 226.4 L1360.1 259.0 L1360.6 224.2 L1360.9 260.0 L1361.6 221.4 L1362.0 220.0 L1362.1 257.7 L1362.2 260.0 L1362.6 222.2 L1363.0 259.7 L1363.6 232.8 L1364.1 253.6 L1364.5 228.3 L1365.0 257.6 L1365.0 230.0 L1365.2 260.0 L1365.5 232.1 L1366.1 255.7 L1366.7 232.8 L1367.2 254.9 L1367.6 232.8 L1368.0 259.9 L1368.6 238.4 L1369.0 234.0 L1369.1 260.3 L1369.2 260.0 L1369.4 235.2 L1369.7 263.9 L1370.0 235.0 L1370.2 268.0 L1370.3 236.1 L1370.6 260.9 L1370.9 236.3 L1371.2 236.0 L1371.3 260.7 L1371.4 262.0 L1371.7 238.3 L1372.1 258.5 L1372.6 243.4 L1373.2 259.2 L1373.7 241.5 L1374.3 260.8 L1375.0 242.0 L1375.0 260.9 L1375.2 264.0 L1375.6 243.1 L1375.6 242.0 L1375.8 278.0 L1376.2 241.9 L1376.4 240.0 L1376.6 264.0 L1376.6 239.9 L1376.9 263.3 L1377.5 240.0 L1377.8 259.9 L1378.4 238.5 L1378.7 263.8 L1379.0 238.0 L1379.1 258.9 L1379.2 264.0 L1379.8 238.5 L1380.2 262.7 L1380.6 233.5 L1380.9 261.5 L1381.6 234.2 L1381.9 262.2 L1382.3 231.9 L1382.6 225.0 L1382.8 266.0 L1382.8 234.9 L1383.4 267.0 L1383.8 239.1 L1384.3 266.6 L1384.8 241.4 L1385.4 268.1 L1386.0 242.0 L1386.1 268.9 L1386.2 272.0 L1386.5 247.3 L1386.9 273.8 L1387.6 241.0 L1388.2 273.5 L1388.8 242.2 L1389.0 240.0 L1389.2 278.0 L1389.2 241.5 L1389.6 274.3 L1390.0 247.1 L1390.4 276.3 L1390.8 250.9 L1391.4 271.3 L1392.0 245.7 L1392.2 244.0 L1392.4 278.0 L1392.4 237.2 L1392.8 277.9 L1393.0 160.0 L1393.2 278.0 L1393.2 179.7 L1393.8 268.0 L1394.0 248.0 L1394.2 278.0 L1394.2 253.4 L1394.6 274.0 L1395.3 253.0 L1395.9 276.6 L1396.2 253.2 L1396.7 277.6 L1397.0 252.0 L1397.2 278.0 L1397.2 252.9 L1397.5 277.3 L1397.9 253.5 L1398.5 277.4 L1399.2 255.7 L1399.9 275.8" fill="none" stroke="#ff0000" stroke-width="2" stroke-linejoin="round"/>
<path d="M1399.5 268.1 L1399.8 256.7 L1400.0 250.0 L1400.2 280.0 L1400.2 267.3 L1400.5 258.0 L1400.7 268.1 L1401.0 259.9 L1401.1 272.7 L1401.5 264.7 L1401.8 274.4 L1402.1 262.9 L1402.5 273.1 L1402.9 262.8 L1403.0 254.0 L1403.1 277.7 L1403.2 280.0 L1403.4 269.1 L1403.6 279.0 L1404.0 266.2 L1404.4 271.2 L1404.7 263.0 L1405.1 274.0 L1405.4 264.6 L1405.8 275.8 L1406.2 267.2 L1406.4 278.1 L1406.8 268.7 L1407.0 264.0 L1407.1 278.8 L1407.2 284.0 L1407.3 269.7 L1407.6 276.0 L1407.9 269.8 L1408.2 280.6 L1408.5 269.9 L1408.9 279.9 L1409.3 269.8 L1409.5 277.9 L1409.7 269.3 L1410.1 278.5 L1410.3 268.1 L1410.7 277.1 L1411.1 271.8 L1411.4 284.3 L1411.8 270.3 L1412.1 282.4 L1412.3 268.3 L1412.6 282.0 L1412.9 268.7 L1413.0 266.0 L1413.2 286.0 L1413.2 279.8 L1413.6 274.9 L1413.9 284.0 L1414.3 272.6 L1414.7 284.3 L1414.9 273.0 L1415.3 284.4 L1415.6 273.1 L1415.9 285.2 L1416.1 275.4 L1416.4 281.8 L1416.7 274.3 L1417.0 285.2 L1417.0 272.0 L1417.2 288.0 L1417.4 275.5 L1417.6 284.8 L1418.0 277.2 L1418.3 285.8 L1418.5 275.7 L1418.7 285.7 L1418.9 277.8 L1419.2 286.3 L1419.4 274.5 L1419.6 286.0 L1419.9 276.3 L1420.2 283.6 L1420.4 273.8 L1420.7 283.9 L1421.1 276.5 L1421.3 287.2 L1421.7 274.3 L1422.0 288.4 L1422.4 278.0 L1422.7 285.1 L1423.0 274.0 L1423.1 275.0 L1423.2 290.0 L1423.4 285.8 L1423.8 277.1 L1424.0 286.1 L1424.2 274.6 L1424.4 288.7 L1424.7 279.8 L1425.1 286.5 L1425.3 276.6 L1425.6 287.0 L1425.9 278.7 L1426.3 283.1 L1426.4 275.1 L1426.8 283.5 L1427.2 271.8 L1427.5 285.0 L1427.9 274.9 L1428.2 285.5 L1428.4 271.1 L1428.8 284.6 L1429.0 268.0 L1429.1 275.4 L1429.2 292.0 L1429.5 288.9 L1429.7 281.2 L1429.9 290.4 L1430.1 282.2 L1430.4 288.6 L1430.8 279.4 L1431.0 290.5 L1431.3 283.2 L1431.7 294.1 L1431.9 283.3 L1432.3 293.9 L1432.5 283.5 L1432.9 292.4 L1433.0 280.0 L1433.1 282.8 L1433.2 298.0 L1433.4 291.4 L1433.7 284.1 L1434.0 293.1 L1434.4 287.3 L1434.6 294.7 L1434.8 287.2 L1435.0 295.5 L1435.4 287.5 L1435.7 296.3 L1435.9 288.5 L1436.1 297.1 L1436.5 288.3 L1436.7 294.6 L1437.0 285.2 L1437.0 284.0 L1437.2 300.0 L1437.3 298.9 L1437.7 288.3 L1437.9 296.0 L1438.1 286.1 L1438.3 300.0 L1438.6 290.8 L1438.9 297.4 L1439.3 290.3 L1439.6 299.7 L1439.9 292.1 L1440.2 303.0 L1440.5 293.8 L1440.9 301.5 L1441.0 288.0 L1441.1 293.7 L1441.2 306.0 L1441.5 300.8 L1441.8 294.5 L1442.1 303.1 L1442.3 295.5 L1442.6 303.8 L1442.8 294.0 L1443.1 305.3 L1443.2 297.0 L1443.4 306.7 L1443.8 294.0 L1444.1 307.2 L1444.4 297.4 L1444.7 303.3 L1444.9 298.0 L1445.0 292.0 L1445.2 310.0 L1445.3 308.4 L1445.5 298.0 L1445.9 308.3 L1446.3 298.8 L1446.6 304.6 L1446.9 296.3 L1447.2 303.2 L1447.3 291.2 L1447.5 302.4 L1447.8 293.2 L1448.0 307.1 L1448.4 296.3 L1448.7 305.3 L1449.0 288.0 L1449.1 295.7 L1449.2 312.0 L1449.5 302.2 L1449.7 288.8 L1450.0 300.7 L1450.3 292.5 L1450.5 298.1 L1450.7 292.1 L1451.1 302.8 L1451.5 295.8 L1451.7 303.2 L1452.2 297.5 L1452.5 305.8 L1452.7 296.8 L1453.0 286.0 L1453.1 304.4 L1453.2 308.0 L1453.3 296.6 L1453.6 304.3 L1453.8 293.9 L1454.1 302.3 L1454.4 290.5 L1454.8 304.0 L1455.1 293.3 L1455.4 303.5 L1455.6 291.4 L1455.9 304.5 L1456.3 294.5 L1456.5 306.8 L1456.9 294.9 L1457.2 301.5 L1457.4 288.4 L1457.7 299.0 L1458.0 284.0 L1458.0 295.5 L1458.2 310.0 L1458.2 305.8 L1458.5 294.0 L1458.7 307.5 L1459.0 291.4 L1459.3 300.7 L1459.7 287.3 L1460.1 302.5 L1460.5 294.8 L1460.7 304.3 L1461.0 290.3 L1461.2 298.0 L1461.6 291.0 L1461.9 303.0 L1462.3 294.8 L1462.7 304.7 L1462.8 292.6 L1463.0 286.0 L1463.0 303.2 L1463.2 306.0 L1463.3 288.8 L1463.6 301.9 L1464.0 290.1 L1464.2 303.7 L1464.5 290.4 L1464.8 301.1 L1465.1 292.4 L1465.4 301.0 L1465.7 291.4 L1466.1 301.4 L1466.5 291.1 L1466.7 300.4 L1467.0 292.9 L1467.3 302.7 L1467.6 293.3 L1467.9 304.9 L1468.0 290.0 L1468.2 306.0 L1468.2 291.3 L1468.6 302.9 L1468.8 292.8 L1469.1 301.0 L1469.4 291.9 L1469.6 301.1 L1470.0 292.4 L1470.3 305.3 L1470.6 295.7 L1470.9 302.2 L1471.2 294.9 L1471.4 305.1 L1471.8 293.7 L1472.2 304.1 L1472.6 297.1 L1472.8 302.9 L1473.0 294.0 L1473.0 295.7 L1473.2 308.0 L1473.3 305.2 L1473.5 298.5 L1473.9 307.5 L1474.3 298.0 L1474.5 307.1 L1474.8 299.5 L1475.0 308.2 L1475.4 300.3 L1475.8 309.5 L1476.0 301.8 L1476.3 307.1 L1476.7 301.9 L1477.0 298.0 L1477.1 307.3 L1477.2 312.0 L1477.4 301.4 L1477.6 308.8 L1477.9 299.2 L1478.3 307.5 L1478.5 299.5 L1478.9 306.3 L1479.2 300.6 L1479.6 307.0 L1479.9 296.4 L1480.3 307.3 L1480.6 298.7 L1480.9 309.1 L1481.1 295.1 L1481.5 305.3 L1481.7 296.4 L1482.0 304.5 L1482.2 297.5 L1482.5 307.3 L1482.8 294.5 L1483.0 292.0 L1483.2 310.0 L1483.2 306.9 L1483.4 294.3 L1483.7 303.1 L1483.8 292.2 L1484.1 302.2 L1484.3 295.8 L1484.6 303.6 L1484.9 294.5 L1485.2 305.4 L1485.7 294.7 L1485.9 306.1 L1486.1 298.5 L1486.3 307.9 L1486.6 294.5 L1486.8 307.0 L1487.0 296.3 L1487.3 302.9 L1487.6 292.6 L1487.8 302.9 L1488.0 286.0 L1488.1 292.0 L1488.2 310.0 L1488.5 306.7 L1488.8 294.4 L1489.1 307.2 L1489.3 297.3 L1489.6 304.6 L1490.0 297.9 L1490.2 302.7 L1490.6 295.9 L1491.0 306.9 L1491.3 298.2 L1491.6 308.8 L1492.0 299.6 L1492.3 305.3 L1492.5 297.4 L1492.7 307.3 L1493.0 296.0 L1493.1 301.4 L1493.2 312.0 L1493.4 308.0 L1493.7 298.0 L1493.9 307.9 L1494.3 298.9 L1494.6 311.6 L1494.9 299.8 L1495.2 308.4 L1495.4 300.8 L1495.6 310.5 L1496.0 300.2 L1496.3 309.3 L1496.7 298.2 L1496.9 310.6 L1497.2 301.5 L1497.4 306.9 L1497.7 300.6 L1498.0 308.2 L1498.4 300.1 L1498.8 311.0 L1499.0 296.0 L1499.0 300.4 L1499.2 314.0 L1499.3 307.5 L1499.6 299.1 L1499.8 307.3 L1500.0 297.2 L1500.2 306.8 L1500.6 295.6 L1500.9 307.7 L1501.2 297.9 L1501.4 310.4 L1501.7 297.6 L1502.1 308.1 L1502.5 298.6 L1502.8 307.6 L1503.0 292.0 L1503.2 310.0 L1503.2 293.3 L1503.4 302.4 L1503.7 292.7 L1503.9 302.4 L1504.3 290.3 L1504.5 300.5 L1504.7 292.5 L1505.1 301.8 L1505.4 290.2 L1505.6 298.0 L1505.8 290.9 L1506.1 302.2 L1506.3 289.8 L1506.5 299.9 L1506.8 289.5 L1507.0 296.1 L1507.0 280.0 L1507.2 308.0 L1507.3 285.3 L1507.7 292.7 L1508.1 290.2 L1508.5 304.0 L1508.7 294.0 L1509.0 299.2 L1509.4 287.0 L1509.6 294.5 L1509.8 286.8 L1510.1 298.0 L1510.5 292.4 L1510.9 305.9 L1511.2 296.6 L1511.6 303.5 L1511.9 291.1 L1512.1 298.3 L1512.4 288.1 L1512.6 293.7 L1512.8 287.4 L1513.0 282.0 L1513.2 308.0 L1513.2 296.4 L1513.5 288.6 L1513.8 297.2 L1514.2 291.4 L1514.4 302.9 L1514.7 292.7 L1515.1 294.5 L1515.4 286.3 L1515.7 292.0 L1516.0 284.9 L1516.0 280.0 L1516.2 306.0 L1516.2 294.2 L1516.6 282.5 L1516.8 294.2 L1517.2 288.6 L1517.6 302.7 L1517.9 292.9 L1518.1 302.0 L1518.3 293.1 L1518.5 303.5 L1518.8 292.0 L1519.2 300.5 L1519.5 290.3 L1519.8 301.9 L1520.2 294.1 L1520.4 301.0 L1520.7 294.5 L1521.0 292.0 L1521.0 301.1 L1521.2 304.0 L1521.4 295.2 L1521.6 303.5 L1521.9 292.5 L1522.3 303.4 L1522.5 295.6 L1522.8 301.2 L1523.1 292.0 L1523.4 299.7 L1523.6 292.8 L1523.9 301.5 L1524.1 291.1 L1524.4 300.8 L1524.7 295.1 L1525.0 290.0 L1525.1 300.5 L1525.2 304.0 L1525.5 291.6 L1525.8 303.3 L1526.0 291.5 L1526.2 301.5 L1526.6 290.3 L1526.9 299.9 L1527.2 287.3 L1527.6 295.7 L1527.9 288.6 L1528.1 296.2 L1528.5 286.0 L1528.7 294.3 L1529.0 280.0 L1529.1 281.7 L1529.2 306.0 L1529.4 296.2 L1529.9 286.9 L1530.1 301.7 L1530.5 291.7 L1530.7 303.2 L1531.0 292.0 L1531.2 302.6 L1531.6 295.1 L1531.9 305.1 L1532.1 295.0 L1532.4 303.5 L1532.8 293.3 L1533.1 306.8 L1533.5 296.4 L1533.9 307.2 L1534.3 297.0 L1534.7 305.5 L1534.9 301.4 L1535.0 298.0 L1535.2 310.0 L1535.2 308.3 L1535.4 301.5 L1535.8 308.3 L1536.1 299.0 L1536.3 308.4 L1536.6 301.1 L1536.8 306.7 L1537.2 300.3 L1537.3 306.8 L1537.7 302.1 L1538.0 308.0 L1538.2 300.5 L1538.6 307.0 L1538.9 299.6 L1539.2 306.0 L1539.4 300.9 L1539.7 307.3 L1540.1 301.6 L1540.3 306.5 L1540.5 300.2 L1540.7 305.8 L1540.9 299.7 L1541.0 298.0 L1541.2 310.0 L1541.3 309.3 L1541.5 299.1 L1541.9 308.4 L1542.3 296.9 L1542.6 308.4 L1543.0 298.2 L1543.3 308.2 L1543.5 298.6 L1543.9 305.8 L1544.1 295.7 L1544.4 306.1 L1544.8 294.7 L1545.1 307.3 L1545.5 295.5 L1545.8 302.8 L1546.0 290.0 L1546.0 295.1 L1546.2 310.0 L1546.4 307.4 L1546.6 293.6 L1546.8 304.7 L1547.2 292.1 L1547.5 302.6 L1547.8 292.4 L1548.2 305.8 L1548.4 295.8 L1548.6 304.2 L1548.9 297.6 L1549.2 306.3 L1549.5 294.2 L1549.9 305.6 L1550.2 294.3 L1550.5 304.9 L1550.9 298.2 L1551.0 294.0 L1551.1 303.1 L1551.2 308.0 L1551.5 295.8 L1551.7 305.8 L1551.9 295.0 L1552.2 307.5 L1552.6 295.2 L1552.9 307.5 L1553.1 295.1 L1553.4 305.7 L1553.7 296.8 L1554.0 304.9 L1554.3 298.6 L1554.5 307.9 L1554.9 298.4 L1555.2 305.2 L1555.4 296.5 L1555.7 307.7 L1556.0 296.7 L1556.3 308.0 L1556.6 298.1 L1556.9 308.9 L1557.0 294.0 L1557.2 310.0 L1557.2 299.2 L1557.6 305.0 L1557.9 297.3 L1558.2 309.9 L1558.6 298.4 L1559.0 306.6 L1559.4 298.3 L1559.8 307.4 L1560.1 295.0 L1560.4 307.7 L1560.8 297.4 L1561.0 306.8 L1561.3 296.8 L1561.7 302.9 L1561.9 296.1 L1562.3 312.4 L1562.7 301.5 L1563.0 307.8 L1563.0 290.0 L1563.2 314.0 L1563.4 299.7 L1563.8 308.6 L1564.1 296.8 L1564.4 304.0 L1564.7 298.0 L1565.1 308.3 L1565.5 300.0 L1565.8 307.7 L1566.2 299.5 L1566.6 308.2 L1567.0 298.6 L1567.4 313.3 L1567.8 302.4 L1568.2 309.9 L1568.3 299.8 L1568.6 309.1 L1568.9 298.7 L1569.0 296.0 L1569.2 316.0 L1569.2 312.6 L1569.5 304.2 L1569.8 310.5 L1570.1 303.7 L1570.4 311.3 L1570.8 299.8 L1571.1 310.6 L1571.4 302.7 L1571.7 312.6 L1572.0 302.4 L1572.4 307.7 L1572.8 301.4 L1573.1 311.5 L1573.5 308.5 L1573.8 317.0 L1574.2 302.1 L1574.5 310.6 L1574.7 298.3 L1575.0 312.7 L1575.0 294.0 L1575.2 324.0 L1575.3 301.5 L1575.6 311.2 L1576.0 303.4 L1576.4 311.2 L1576.6 300.0 L1576.8 311.0 L1577.2 306.2 L1577.5 317.5 L1577.8 308.1 L1578.2 316.9 L1578.6 304.4 L1578.9 312.3 L1579.1 300.9 L1579.4 306.7 L1579.7 299.2 L1580.2 312.2 L1580.5 304.4 L1580.8 313.1 L1581.0 296.0 L1581.2 318.0 L1581.2 302.8 L1581.5 310.2 L1581.9 297.6 L1582.2 309.0 L1582.4 296.9 L1582.7 305.7 L1583.1 299.7 L1583.5 313.2 L1583.7 303.2 L1583.9 311.3 L1584.1 303.6 L1584.4 312.8 L1584.7 305.4 L1584.9 310.2 L1585.0 292.0 L1585.2 316.0 L1585.3 304.4 L1585.7 310.8 L1586.0 301.3 L1586.3 308.9 L1586.7 299.5 L1586.9 311.0 L1587.1 298.0 L1587.5 306.6 L1587.8 293.6 L1588.1 311.4 L1588.4 300.3 L1588.6 309.1 L1588.8 298.8 L1589.0 288.0 L1589.0 308.1 L1589.2 314.0 L1589.4 302.2 L1589.6 308.6 L1589.9 295.7 L1590.4 300.1 L1590.5 290.8 L1590.8 297.5 L1591.2 288.2 L1591.6 298.5 L1591.9 291.7 L1592.2 306.1 L1592.6 301.1 L1593.0 303.4 L1593.3 285.9 L1593.5 293.0 L1593.7 283.8 L1594.0 297.5 L1594.0 280.0 L1594.2 312.0 L1594.2 290.1 L1594.6 304.6 L1594.9 294.7 L1595.1 300.7 L1595.5 286.5 L1595.9 303.8 L1596.1 295.8 L1596.4 302.8 L1596.7 295.3 L1597.1 299.7 L1597.4 286.7 L1597.7 295.9 L1598.0 287.9 L1598.4 302.9 L1598.6 291.5 L1599.0 296.0 L1599.0 276.0 L1599.2 306.0 L1599.3 282.0 L1599.5 288.8 L1599.7 283.0 L1600.0 296.3 L1600.4 292.4 L1600.8 303.2 L1601.1 289.7 L1601.4 293.5 L1601.6 284.1 L1601.9 293.3 L1602.2 279.1 L1602.5 285.4 L1602.7 278.6 L1603.0 289.0 L1603.0 274.0 L1603.2 306.0 L1603.2 275.9 L1603.6 289.6 L1604.0 276.4 L1604.0 274.0 L1604.2 314.0 L1604.2 290.3 L1604.4 280.2 L1604.6 289.4 L1604.8 283.7 L1605.0 275.0 L1605.1 296.5 L1605.2 305.0 L1605.4 293.4 L1605.8 298.7 L1606.1 285.1 L1606.3 288.9 L1606.7 279.8 L1607.0 295.9 L1607.0 276.0 L1607.2 304.0 L1607.3 286.1 L1607.6 299.2 L1607.9 286.2 L1608.1 291.1 L1608.4 276.1 L1608.8 290.1 L1609.0 283.2 L1609.4 296.2 L1609.6 286.5 L1609.8 294.2 L1610.2 275.2 L1610.5 278.9 L1610.8 275.3 L1611.0 288.5 L1611.0 264.0 L1611.2 300.0 L1611.2 279.0 L1611.6 292.8 L1611.9 281.5 L1612.2 284.3 L1612.5 269.4 L1612.8 282.7 L1613.1 281.6 L1613.4 293.5 L1613.6 283.3 L1614.0 295.0 L1614.3 280.9 L1614.7 289.5 L1615.0 270.0 L1615.1 280.3 L1615.2 296.0 L1615.3 286.0 L1615.6 275.7 L1615.9 290.3 L1616.2 283.3 L1616.5 295.6 L1616.8 281.3 L1617.0 293.0 L1617.4 277.3 L1617.6 288.9 L1617.9 280.3 L1618.3 298.6 L1618.6 290.2 L1619.0 298.7 L1619.4 283.3 L1619.7 291.2 L1620.0 276.0 L1620.1 290.3 L1620.2 310.0 L1620.4 302.7 L1620.7 292.7 L1621.0 300.1 L1621.4 294.7 L1621.6 300.9 L1621.8 290.5 L1622.2 291.1 L1622.6 277.2 L1622.9 290.6 L1623.1 280.3 L1623.4 292.2 L1623.8 284.2 L1624.0 270.0 L1624.1 290.4 L1624.2 300.0 L1624.4 276.0 L1624.7 283.4 L1625.1 272.9 L1625.4 281.7 L1625.7 269.1 L1625.8 280.8 L1626.1 267.8 L1626.3 280.2 L1626.7 267.5 L1627.0 263.0 L1627.0 281.6 L1627.2 298.0 L1627.2 268.0 L1627.5 281.8 L1627.7 271.4 L1628.1 281.0 L1628.3 271.0 L1628.6 281.6 L1629.0 277.0 L1629.0 270.0 L1629.2 294.0 L1629.3 292.5 L1629.6 281.0 L1629.8 287.2 L1630.2 279.5 L1630.6 285.7 L1630.9 279.7 L1631.2 288.1 L1631.4 279.5 L1631.7 286.5 L1631.9 276.3 L1632.2 291.3 L1632.6 280.8 L1632.8 290.7 L1633.2 278.6 L1633.6 292.7 L1633.9 281.0 L1634.2 292.2 L1634.5 282.7 L1634.8 289.0 L1635.0 280.0 L1635.1 285.1 L1635.2 294.0 L1635.3 289.7 L1635.6 284.6 L1636.0 294.5 L1636.3 286.1 L1636.5 293.9 L1636.8 285.7 L1637.2 293.8 L1637.5 286.6 L1637.9 296.7 L1638.1 285.7 L1638.4 295.4 L1638.6 287.4 L1638.9 297.5 L1639.3 291.2 L1639.5 296.4 L1639.8 289.3 L1640.0 288.0 L1640.1 297.1 L1640.2 300.0 L1640.5 289.4 L1640.9 299.0 L1641.1 288.1 L1641.3 298.3 L1641.6 292.3 L1641.7 296.9 L1642.1 287.9 L1642.5 298.0 L1642.7 291.2 L1643.1 303.2 L1643.5 292.5 L1643.7 303.5 L1644.0 288.8 L1644.2 299.0 L1644.5 288.9 L1644.8 294.0 L1645.0 284.4 L1645.0 283.0 L1645.2 310.0 L1645.2 299.2 L1645.4 285.7 L1645.8 297.7 L1646.1 295.5 L1646.4 304.9 L1646.7 294.1 L1646.9 301.9 L1647.1 292.6 L1647.5 298.3 L1647.7 289.7 L1648.1 304.9 L1648.3 296.6 L1648.6 308.6 L1648.8 294.9 L1649.0 303.2 L1649.3 291.7 L1649.5 301.1 L1649.8 293.3 L1650.2 306.2 L1650.5 299.0 L1650.9 306.5 L1651.0 288.0 L1651.2 310.0 L1651.2 294.0 L1651.6 301.5 L1651.9 295.6 L1652.3 310.0 L1652.5 300.0 L1652.8 307.4 L1653.1 298.1 L1653.4 306.8 L1653.8 295.4 L1654.1 306.5 L1654.4 296.5 L1654.7 309.2 L1654.9 297.5 L1655.1 309.3 L1655.5 296.6 L1655.8 307.6 L1656.0 297.0 L1656.4 309.8 L1656.7 301.5 L1657.0 307.1 L1657.0 296.0 L1657.2 316.0 L1657.3 299.8 L1657.7 309.0 L1657.9 301.0 L1658.3 313.2 L1658.7 300.2 L1658.9 312.7 L1659.2 298.5 L1659.6 307.4 L1659.9 298.5 L1660.2 310.4 L1660.5 300.8 L1660.8 312.4 L1661.1 304.2 L1661.3 314.5 L1661.5 302.4 L1661.9 313.0 L1662.3 299.7 L1662.6 310.0 L1663.0 297.2 L1663.0 296.0 L1663.2 316.0 L1663.2 310.5 L1663.6 301.6 L1663.9 312.8 L1664.2 298.3 L1664.5 309.9 L1664.9 300.3 L1665.1 312.9 L1665.4 306.2 L1665.6 317.1 L1665.8 303.5 L1666.1 315.1 L1666.4 303.6 L1666.8 311.4 L1667.1 308.0 L1667.4 315.3 L1667.8 304.9 L1668.1 313.7 L1668.3 306.5 L1668.6 315.6 L1668.9 302.4 L1669.0 300.0 L1669.1 314.4 L1669.2 322.0 L1669.4 302.1 L1669.6 311.5 L1670.1 307.0 L1670.3 315.9 L1670.5 308.6 L1670.9 316.6 L1671.1 309.4 L1671.4 318.2 L1671.8 304.8 L1672.1 320.6 L1672.3 310.8 L1672.7 323.5 L1673.0 312.9 L1673.4 324.0 L1673.7 311.6 L1673.9 320.3 L1674.0 306.0 L1674.2 326.0 L1674.2 312.4 L1674.4 319.5 L1674.7 306.6 L1675.1 317.4 L1675.5 311.9 L1675.8 321.9 L1676.2 307.9 L1676.5 320.7 L1676.9 306.6 L1677.2 313.9 L1677.6 304.6 L1677.8 315.7 L1678.0 307.1 L1678.3 319.6 L1678.7 308.5 L1679.0 300.0 L1679.0 319.2 L1679.2 324.0 L1679.2 306.9 L1679.5 314.0 L1679.8 302.3 L1680.0 312.5 L1680.4 306.0 L1680.6 312.4 L1680.9 305.1 L1681.2 318.3 L1681.5 309.6 L1681.9 318.1 L1682.2 304.9 L1682.4 311.6 L1682.8 305.6 L1683.2 314.6 L1683.4 306.0 L1683.7 316.2 L1684.1 306.3 L1684.5 314.0 L1684.7 301.9 L1685.0 298.0 L1685.2 320.0 L1685.2 312.2 L1685.5 304.6 L1685.8 316.9 L1686.0 305.5 L1686.4 313.8 L1686.8 302.6 L1687.0 315.3 L1687.2 307.5 L1687.6 315.9 L1687.8 306.8 L1688.0 316.5 L1688.3 302.2 L1688.6 309.8 L1689.0 304.6 L1689.2 315.5 L1689.4 310.8 L1689.8 318.8 L1690.0 298.0 L1690.1 308.6 L1690.2 323.0 L1690.4 318.3 L1690.8 308.4 L1691.2 318.7 L1691.5 308.3 L1691.8 314.7 L1692.1 303.5 L1692.5 310.3 L1692.8 300.8 L1693.1 317.2 L1693.3 308.7 L1693.6 320.5 L1693.9 308.6 L1694.2 319.3 L1694.5 307.5 L1694.9 316.3 L1695.0 300.0 L1695.1 310.6 L1695.2 322.0 L1695.5 316.5 L1695.7 309.4 L1696.1 316.0 L1696.6 307.0 L1696.9 315.0 L1697.1 303.5 L1697.4 314.1 L1697.8 305.0 L1698.2 315.3 L1698.6 303.1 L1698.9 313.4 L1699.3 307.9 L1699.6 312.3 L1700.0 306.0 L1700.3 312.4 L1700.7 308.3 L1700.9 314.2 L1701.0 304.0 L1701.2 316.0 L1701.2 306.6 L1701.4 314.6 L1701.8 307.1 L1702.1 316.1 L1702.5 308.4 L1702.7 315.3 L1703.1 309.8 L1703.5 315.8 L1703.7 311.1 L1704.0 316.2 L1704.3 311.9 L1704.6 316.2 L1704.9 312.0 L1705.0 310.0 L1705.1 315.6 L1705.2 318.0 L1705.3 311.9 L1705.6 317.0 L1705.7 312.6 L1705.9 317.7 L1706.2 310.8 L1706.5 316.9 L1706.7 312.5 L1706.9 318.0 L1707.3 310.8 L1707.7 317.2 L1708.0 311.2 L1708.4 318.0 L1708.8 313.1 L1709.0 310.0 L1709.2 320.0 L1709.2 318.4 L1709.5 312.0 L1709.8 316.8 L1710.0 309.4 L1710.4 316.0 L1710.6 309.2 L1710.9 317.8 L1711.2 304.6 L1711.6 312.0 L1711.9 304.9 L1712.1 312.0 L1712.3 308.1 L1712.7 314.0 L1713.0 292.0 L1713.0 306.3 L1713.2 320.0 L1713.4 316.0 L1713.8 305.0 L1714.0 312.7 L1714.2 306.0 L1714.5 314.5 L1714.8 302.9 L1715.1 316.7 L1715.4 305.4 L1715.7 312.7 L1715.9 303.5 L1716.2 308.4 L1716.6 299.3 L1716.8 307.8 L1717.0 299.4 L1717.0 296.0 L1717.2 316.0 L1717.2 311.2 L1717.4 303.3 L1717.6 313.8 L1717.8 299.3 L1718.2 313.1 L1718.3 300.0 L1718.7 313.4 L1719.1 298.4 L1719.3 308.4 L1719.5 298.3 L1719.7 308.1 L1720.1 300.3 L1720.4 312.6 L1720.9 298.7 L1721.3 307.9 L1721.7 296.3 L1722.0 302.0 L1722.3 294.2 L1722.6 302.7 L1723.0 290.0 L1723.0 298.8 L1723.2 314.0 L1723.3 310.1 L1723.5 299.2 L1723.7 310.5 L1724.0 298.2 L1724.4 306.4 L1724.7 293.5 L1725.0 305.0 L1725.3 296.4 L1725.5 303.3 L1725.8 294.2 L1726.2 306.7 L1726.6 295.1 L1727.0 303.1 L1727.2 295.2 L1727.5 304.3 L1727.9 296.2 L1728.0 294.0 L1728.1 302.8 L1728.2 306.0 L1728.5 298.0 L1728.8 302.2 L1729.0 296.3" fill="none" stroke="#ff0000" stroke-width="2" stroke-linejoin="round"/>
</g>
<g transform="translate(1226.30 117.60) scale(1 1.055)" font-size="19.44" fill="#000" stroke="#000" stroke-width="0.245">
<text x="-24.74" y="0" textLength="24.74" lengthAdjust="spacingAndGlyphs">20</text>
</g>
<g transform="translate(1226.30 160.72) scale(1 1.055)" font-size="19.44" fill="#000" stroke="#000" stroke-width="0.245">
<text x="-24.74" y="0" textLength="24.74" lengthAdjust="spacingAndGlyphs">15</text>
</g>
<g transform="translate(1226.30 203.85) scale(1 1.055)" font-size="19.44" fill="#000" stroke="#000" stroke-width="0.245">
<text x="-24.74" y="0" textLength="24.74" lengthAdjust="spacingAndGlyphs">10</text>
</g>
<g transform="translate(1226.30 246.97) scale(1 1.055)" font-size="19.44" fill="#000" stroke="#000" stroke-width="0.245">
<text x="-12.37" y="0" textLength="12.37" lengthAdjust="spacingAndGlyphs">5</text>
</g>
<g transform="translate(1226.30 290.10) scale(1 1.055)" font-size="19.44" fill="#000" stroke="#000" stroke-width="0.245">
<text x="-12.37" y="0" textLength="12.37" lengthAdjust="spacingAndGlyphs">0</text>
</g>
<g transform="translate(1226.30 333.23) scale(1 1.055)" font-size="19.44" fill="#000" stroke="#000" stroke-width="0.245">
<text x="-28.66" y="0" textLength="28.66" lengthAdjust="spacingAndGlyphs">−5</text>
</g>
<g transform="translate(1226.30 376.35) scale(1 1.055)" font-size="19.44" fill="#000" stroke="#000" stroke-width="0.245">
<text x="-41.03" y="0" textLength="41.03" lengthAdjust="spacingAndGlyphs">−10</text>
</g>
<g transform="translate(1226.30 419.48) scale(1 1.055)" font-size="19.44" fill="#000" stroke="#000" stroke-width="0.245">
<text x="-41.03" y="0" textLength="41.03" lengthAdjust="spacingAndGlyphs">−15</text>
</g>
<g transform="translate(1226.30 462.60) scale(1 1.055)" font-size="19.44" fill="#000" stroke="#000" stroke-width="0.245">
<text x="-41.03" y="0" textLength="41.03" lengthAdjust="spacingAndGlyphs">−20</text>
</g>
<line x1="1269.40" y1="455.00" x2="1269.40" y2="450.00" stroke="#000" stroke-width="1" shape-rendering="crispEdges"/>
<line x1="1340.50" y1="455.00" x2="1340.50" y2="450.00" stroke="#000" stroke-width="1" shape-rendering="crispEdges"/>
<line x1="1411.60" y1="455.00" x2="1411.60" y2="450.00" stroke="#000" stroke-width="1" shape-rendering="crispEdges"/>
<line x1="1482.70" y1="455.00" x2="1482.70" y2="450.00" stroke="#000" stroke-width="1" shape-rendering="crispEdges"/>
<line x1="1553.80" y1="455.00" x2="1553.80" y2="450.00" stroke="#000" stroke-width="1" shape-rendering="crispEdges"/>
<line x1="1624.90" y1="455.00" x2="1624.90" y2="450.00" stroke="#000" stroke-width="1" shape-rendering="crispEdges"/>
<line x1="1696.00" y1="455.00" x2="1696.00" y2="450.00" stroke="#000" stroke-width="1" shape-rendering="crispEdges"/>
<line x1="1767.10" y1="455.00" x2="1767.10" y2="450.00" stroke="#000" stroke-width="1" shape-rendering="crispEdges"/>
<rect x="1231.50" y="110.00" width="568.50" height="345.00" fill="none" stroke="#000" stroke-width="2"/>
<line x1="1800.00" y1="109.00" x2="1800.00" y2="456.00" stroke="#ff0000" stroke-width="2"/>
<line x1="1230.50" y1="110.00" x2="1801.00" y2="110.00" stroke="#000" stroke-width="2"/>
<line x1="1230.50" y1="455.00" x2="1801.00" y2="455.00" stroke="#000" stroke-width="2"/>
<line x1="1800.00" y1="455.00" x2="1795.60" y2="455.00" stroke="#ff0000" stroke-width="1" shape-rendering="crispEdges"/>
<g transform="translate(1806.00 462.60) scale(1 1.055)" font-size="19.44" fill="#ff0000" stroke="#ff0000" stroke-width="0.245">
<text x="0.00" y="0" textLength="12.37" lengthAdjust="spacingAndGlyphs">0</text>
</g>
<line x1="1800.00" y1="386.00" x2="1795.60" y2="386.00" stroke="#ff0000" stroke-width="1" shape-rendering="crispEdges"/>
<g transform="translate(1806.00 393.60) scale(1 1.055)" font-size="19.44" fill="#ff0000" stroke="#ff0000" stroke-width="0.245">
<text x="0.00" y="0" textLength="37.11" lengthAdjust="spacingAndGlyphs">200</text>
</g>
<line x1="1800.00" y1="317.00" x2="1795.60" y2="317.00" stroke="#ff0000" stroke-width="1" shape-rendering="crispEdges"/>
<g transform="translate(1806.00 324.60) scale(1 1.055)" font-size="19.44" fill="#ff0000" stroke="#ff0000" stroke-width="0.245">
<text x="0.00" y="0" textLength="37.11" lengthAdjust="spacingAndGlyphs">400</text>
</g>
<line x1="1800.00" y1="248.00" x2="1795.60" y2="248.00" stroke="#ff0000" stroke-width="1" shape-rendering="crispEdges"/>
<g transform="translate(1806.00 255.60) scale(1 1.055)" font-size="19.44" fill="#ff0000" stroke="#ff0000" stroke-width="0.245">
<text x="0.00" y="0" textLength="37.11" lengthAdjust="spacingAndGlyphs">600</text>
</g>
<line x1="1800.00" y1="179.00" x2="1795.60" y2="179.00" stroke="#ff0000" stroke-width="1" shape-rendering="crispEdges"/>
<g transform="translate(1806.00 186.60) scale(1 1.055)" font-size="19.44" fill="#ff0000" stroke="#ff0000" stroke-width="0.245">
<text x="0.00" y="0" textLength="37.11" lengthAdjust="spacingAndGlyphs">800</text>
</g>
<line x1="1800.00" y1="110.00" x2="1795.60" y2="110.00" stroke="#ff0000" stroke-width="1" shape-rendering="crispEdges"/>
<g transform="translate(1806.00 117.60) scale(1 1.055)" font-size="19.44" fill="#ff0000" stroke="#ff0000" stroke-width="0.245">
<text x="0.00" y="0" textLength="49.47" lengthAdjust="spacingAndGlyphs">1000</text>
</g>
<g transform="translate(1141.00 282.20) rotate(-90) scale(1 1.055)" font-size="24.0" fill="#000" stroke="#000" stroke-width="0.302">
<text x="-39.14" y="0" textLength="41.59" lengthAdjust="spacingAndGlyphs">IMF</text>
<text x="10.08" y="0" textLength="29.06" lengthAdjust="spacingAndGlyphs">Bz</text>
</g>
<g transform="translate(1169.50 282.50) rotate(-90) scale(1 1.055)" font-size="24.0" fill="#000" stroke="#000" stroke-width="0.302">
<text x="-31.93" y="0" textLength="9.36" lengthAdjust="spacingAndGlyphs">(</text>
<text x="-14.94" y="0" textLength="29.87" lengthAdjust="spacingAndGlyphs">nT</text>
<text x="22.57" y="0" textLength="9.36" lengthAdjust="spacingAndGlyphs">)</text>
</g>
<g transform="translate(1877.00 283.00) rotate(-90) scale(1 1.055)" font-size="24.0" fill="#ff0000" stroke="#ff0000" stroke-width="0.302">
<text x="-70.37" y="0" textLength="38.96" lengthAdjust="spacingAndGlyphs">SW</text>
<text x="-23.78" y="0" textLength="94.15" lengthAdjust="spacingAndGlyphs">Velocity</text>
</g>
<g transform="translate(1910.50 281.00) rotate(-90) scale(1 1.055)" fill="#ff0000" stroke="#ff0000" stroke-width="0.302">
<text x="-56.27" y="0" font-size="24.0" textLength="9.36" lengthAdjust="spacingAndGlyphs">(</text>
<text x="-39.27" y="0" font-size="24.0" textLength="37.28" lengthAdjust="spacingAndGlyphs">km</text>
<text x="2.00" y="0" font-size="24.0" textLength="12.50" lengthAdjust="spacingAndGlyphs">s</text>
<text x="14.51" y="-8.42" font-size="16.80" textLength="24.77" lengthAdjust="spacingAndGlyphs">−1</text>
<text x="46.90" y="0" font-size="24.0" textLength="9.36" lengthAdjust="spacingAndGlyphs">)</text>
</g>
<line x1="1231.50" y1="512.40" x2="1236.50" y2="512.40" stroke="#000" stroke-width="1" shape-rendering="crispEdges"/>
<line x1="1231.50" y1="581.20" x2="1236.50" y2="581.20" stroke="#000" stroke-width="1" shape-rendering="crispEdges"/>
<line x1="1231.50" y1="650.00" x2="1236.50" y2="650.00" stroke="#000" stroke-width="1" shape-rendering="crispEdges"/>
<line x1="1231.50" y1="718.80" x2="1236.50" y2="718.80" stroke="#000" stroke-width="1" shape-rendering="crispEdges"/>
<line x1="1231.50" y1="787.60" x2="1236.50" y2="787.60" stroke="#000" stroke-width="1" shape-rendering="crispEdges"/>
<g clip-path="url(#cB2)">
<line x1="1231.50" y1="512.00" x2="1800.00" y2="512.00" stroke="#000" stroke-width="1.9" stroke-dasharray="1.8 2.2"/>
<path d="M1232.0 542.4 L1234.0 543.6 L1236.0 539.0 L1239.0 534.4 L1242.0 533.0 L1245.0 530.0 L1248.0 531.0 L1251.0 527.0 L1253.4 526.0 L1256.0 533.0 L1258.0 536.0 L1261.0 533.0 L1264.0 532.0 L1267.0 531.4 L1269.4 528.4 L1272.4 532.0 L1275.0 531.0 L1278.0 526.0 L1281.0 530.6 L1284.0 532.6 L1287.4 531.4 L1291.0 534.0 L1294.0 538.0 L1297.0 542.0 L1299.0 543.0 L1302.0 539.0 L1305.0 532.0 L1308.0 527.6 L1310.6 528.4 L1313.6 525.0 L1317.0 527.0 L1320.0 526.6 L1323.0 524.4 L1325.6 521.0 L1328.4 524.0 L1331.4 521.0 L1334.4 521.0 L1337.4 523.0 L1340.4 523.0 L1343.0 521.6 L1346.0 518.0 L1349.0 515.6 L1352.0 515.2 L1355.0 516.0 L1358.0 521.4 L1361.0 526.6 L1363.6 528.4 L1366.4 533.0 L1370.0 542.4 L1372.6 540.0 L1375.4 537.6 L1378.6 527.0 L1381.0 525.4 L1384.0 524.6 L1387.0 525.6 L1390.6 528.4 L1394.0 527.0 L1396.6 520.0 L1399.4 519.0 L1402.6 523.0 L1406.0 524.4 L1410.0 525.0 L1414.0 524.6 L1418.0 523.6 L1422.0 523.2 L1426.0 522.0 L1429.4 520.6 L1432.6 521.6 L1436.0 525.0 L1439.0 528.0 L1441.6 529.0 L1444.4 526.0 L1447.6 520.0 L1450.4 515.6 L1452.4 514.4 L1455.0 518.0 L1458.6 523.0 L1462.0 519.6 L1465.0 516.4 L1468.0 519.6 L1471.0 525.0 L1474.0 523.0 L1477.0 525.0 L1480.0 526.6 L1483.0 524.6 L1487.0 523.0 L1490.0 521.6 L1494.6 521.2 L1499.0 522.4 L1503.0 524.4 L1506.6 530.0 L1509.4 531.0 L1512.4 541.0 L1515.4 537.6 L1518.4 541.0 L1521.0 530.0 L1524.0 521.0 L1527.0 515.6 L1530.0 512.0 L1533.0 515.0 L1536.0 513.0 L1539.0 511.6 L1541.6 509.6 L1544.4 514.0 L1548.0 517.0 L1551.0 514.0 L1554.0 509.0 L1556.6 505.0 L1559.4 505.6 L1562.6 506.4 L1566.0 511.0 L1569.0 514.0 L1572.0 518.0 L1574.6 519.0 L1577.0 526.0 L1580.0 534.0 L1583.0 544.0 L1586.0 563.0 L1589.0 567.6 L1590.6 558.0 L1592.6 541.0 L1595.0 532.4 L1598.0 535.6 L1601.0 537.6 L1604.0 537.6 L1606.0 530.0 L1608.6 524.0 L1611.4 522.0 L1615.0 522.0 L1618.0 522.0 L1622.0 523.6 L1625.0 523.6 L1628.0 522.4 L1631.0 520.0 L1634.0 521.4 L1637.0 521.0 L1640.0 521.0 L1643.0 522.4 L1646.0 525.0 L1649.0 528.4 L1653.0 531.6 L1657.0 533.0 L1660.0 530.0 L1663.0 523.0 L1666.4 520.4 L1669.4 527.0 L1672.4 532.0 L1675.0 526.0 L1678.0 521.0 L1681.4 515.4 L1684.4 518.0 L1687.4 521.0 L1690.0 521.6 L1693.0 520.4 L1696.0 520.0 L1699.0 515.0 L1702.0 512.4 L1705.0 512.0 L1708.0 513.6 L1710.6 514.0 L1713.0 511.6 L1715.4 516.0 L1717.4 523.0 L1719.4 532.4 L1722.4 530.6 L1724.4 538.0 L1726.0 543.0" fill="none" stroke="#000" stroke-width="2" stroke-linejoin="round"/>
<line x1="1729.40" y1="822.00" x2="1729.40" y2="478.00" stroke="#000" stroke-width="3" stroke-dasharray="3.1 5.1"/>
<path d="M1231.5 694.6 L1231.9 640.3 L1232.0 630.0 L1232.2 698.0 L1232.2 633.5 L1232.6 691.8 L1233.0 607.0 L1233.1 687.2 L1233.6 606.7 L1233.9 674.2 L1234.0 606.0 L1234.6 673.2 L1235.0 617.4 L1235.2 670.0 L1235.6 618.2 L1236.1 656.5 L1236.4 627.4 L1236.8 676.9 L1237.0 614.0 L1237.2 676.2 L1237.8 615.1 L1238.3 673.7 L1238.8 621.7 L1239.1 687.1 L1239.5 625.4 L1240.0 687.2 L1240.0 613.0 L1240.2 691.0 L1240.5 619.3 L1240.9 672.0 L1241.5 614.8 L1242.0 675.9 L1242.7 624.6 L1243.0 612.0 L1243.1 664.6 L1243.2 680.0 L1243.5 619.3 L1244.1 734.1 L1244.2 739.0 L1244.5 613.2 L1245.1 666.6 L1245.2 680.0 L1245.6 629.2 L1246.0 614.0 L1246.1 665.4 L1246.6 621.3 L1247.1 659.0 L1247.2 672.0 L1247.8 619.0 L1248.3 677.1 L1248.9 623.0 L1249.0 613.0 L1249.2 680.0 L1249.6 636.7 L1250.0 751.0 L1250.2 763.0 L1250.6 605.9 L1251.0 604.0 L1251.1 683.1 L1251.2 684.0 L1251.4 603.7 L1252.0 689.2 L1252.4 602.0 L1252.4 686.4 L1253.1 550.4 L1253.2 696.0 L1253.4 525.0 L1253.6 678.2 L1254.2 609.0 L1254.4 598.0 L1254.9 694.0 L1255.3 604.7 L1255.4 599.0 L1256.0 671.8 L1256.2 699.0 L1256.3 605.5 L1256.7 694.4 L1257.2 619.4 L1257.6 694.7 L1258.0 612.0 L1258.1 688.5 L1258.6 633.9 L1259.2 682.3 L1259.6 690.0 L1259.7 626.5 L1260.1 696.6 L1260.7 643.9 L1260.8 754.0 L1261.0 610.0 L1261.3 708.4 L1261.8 610.3 L1262.0 688.0 L1262.3 609.6 L1262.6 683.1 L1263.0 613.0 L1263.3 682.4 L1263.7 609.2 L1264.1 680.1 L1264.2 680.0 L1264.8 618.1 L1265.0 608.0 L1265.1 678.9 L1265.6 612.2 L1265.9 665.1 L1266.6 614.1 L1267.1 683.2 L1267.5 611.3 L1267.6 684.0 L1267.9 623.8 L1268.0 607.0 L1268.2 680.9 L1268.9 614.5 L1269.3 669.3 L1269.6 614.0 L1270.3 657.6 L1270.9 608.3 L1271.0 606.0 L1271.2 671.0 L1271.3 607.4 L1271.9 667.4 L1272.5 610.7 L1272.9 663.7 L1273.6 625.2 L1274.2 668.1 L1274.8 611.1 L1275.0 609.0 L1275.2 688.0 L1275.3 613.5 L1275.6 684.4 L1276.1 611.7 L1276.6 659.5 L1277.1 627.5 L1277.8 655.0 L1278.2 611.1 L1278.6 666.7 L1279.0 609.6 L1279.0 658.1 L1279.2 666.0 L1279.7 622.6 L1280.2 658.9 L1280.8 609.9 L1281.4 654.1 L1282.0 621.1 L1282.5 670.0 L1283.0 609.6 L1283.1 669.4 L1283.2 672.0 L1283.7 629.3 L1284.2 677.1 L1284.8 623.8 L1285.2 690.5 L1285.6 631.5 L1286.2 698.9 L1286.6 702.0 L1286.8 636.4 L1287.0 610.0 L1287.4 694.4 L1287.9 611.5 L1288.2 672.5 L1288.8 620.0 L1289.4 687.5 L1290.1 629.4 L1290.5 688.8 L1290.9 614.3 L1291.0 612.0 L1291.2 690.0 L1291.4 614.5 L1291.9 690.8 L1292.6 615.8 L1293.0 683.5 L1293.7 616.8 L1294.4 688.1 L1294.4 610.0 L1294.9 686.4 L1295.2 698.0 L1295.2 588.3 L1295.4 570.0 L1295.6 700.9 L1296.2 575.0 L1296.6 574.0 L1296.7 683.5 L1297.2 606.0 L1297.4 610.0 L1297.7 700.3 L1298.3 611.1 L1298.8 717.0 L1298.8 613.7 L1299.2 694.2 L1299.7 622.8 L1300.4 685.3 L1300.8 624.3 L1301.3 698.3 L1301.9 619.0 L1302.0 611.0 L1302.4 696.2 L1303.1 626.1 L1303.2 703.0 L1303.8 635.4 L1304.2 691.2 L1304.2 610.0 L1304.8 671.7 L1305.0 559.0 L1305.2 700.0 L1305.7 606.5 L1306.0 630.0 L1306.1 700.4 L1306.6 649.3 L1307.2 700.0 L1307.3 643.7 L1307.9 695.8 L1308.0 650.0 L1308.2 692.3 L1308.9 651.6 L1309.6 708.7 L1310.1 668.9 L1310.2 715.0 L1310.6 650.0 L1310.7 707.3 L1311.2 607.4 L1311.4 578.0 L1311.6 698.0 L1312.1 640.4 L1312.4 688.8 L1312.4 654.0 L1312.8 689.4 L1313.2 688.0 L1313.3 659.8 L1313.8 690.0 L1314.0 656.0 L1314.5 684.5 L1315.2 654.0 L1315.6 695.1 L1316.2 653.3 L1316.5 694.3 L1316.8 698.0 L1317.0 650.0 L1317.2 687.0 L1317.6 648.8 L1318.3 690.4 L1318.9 644.6 L1319.2 687.1 L1319.6 642.0 L1319.6 695.1 L1320.2 695.0 L1320.3 606.1 L1320.6 571.0 L1320.9 696.7 L1321.6 619.6 L1321.8 630.0 L1322.2 700.0 L1322.2 637.1 L1322.7 725.9 L1323.2 758.0 L1323.3 634.7 L1323.7 743.8 L1324.0 630.0 L1324.1 756.2 L1324.4 627.4 L1324.8 750.6 L1325.2 647.7 L1325.7 742.6 L1326.0 624.1 L1326.2 756.0 L1326.3 619.0 L1326.6 730.5 L1327.0 610.0 L1327.2 754.4 L1327.7 646.5 L1328.0 603.0 L1328.0 724.7 L1328.5 618.5 L1329.1 745.7 L1329.2 760.0 L1329.6 626.0 L1330.3 705.3 L1330.8 700.0 L1330.9 619.0 L1331.0 605.0 L1331.5 660.2 L1331.8 660.0 L1331.9 605.9 L1332.3 687.0 L1332.8 700.0 L1332.9 610.0 L1333.2 727.8 L1333.9 643.1 L1334.2 762.0 L1334.4 612.9 L1334.8 719.6 L1335.0 608.0 L1335.3 701.7 L1335.6 700.0 L1335.8 615.7 L1336.5 664.5 L1337.0 620.0 L1337.0 674.3 L1337.2 676.0 L1337.7 626.0 L1338.1 678.3 L1338.6 632.6 L1339.0 630.0 L1339.1 679.0 L1339.6 627.8 L1340.0 681.7 L1340.2 682.0 L1340.5 624.6 L1340.8 690.2 L1341.2 631.7 L1341.7 690.2 L1342.2 634.9 L1342.9 717.3 L1343.0 615.0 L1343.3 697.6 L1343.6 732.0 L1343.7 639.1 L1344.2 715.1 L1344.9 647.4 L1345.0 630.0 L1345.4 680.8 L1346.0 636.9 L1346.2 680.0 L1346.6 645.4 L1347.0 642.0 L1347.2 705.7 L1347.8 654.4 L1348.2 752.0 L1348.5 658.4 L1349.1 745.0 L1349.4 640.9 L1349.8 744.5 L1350.4 650.9 L1351.0 726.4 L1351.0 638.0 L1351.2 741.0 L1351.6 643.2 L1351.9 718.1 L1352.5 636.4 L1353.0 722.9 L1353.0 620.0 L1353.3 718.9 L1353.7 614.4 L1354.1 718.4 L1354.2 742.0 L1354.5 632.1 L1354.6 606.0 L1355.2 731.7 L1355.6 621.7 L1356.2 720.7 L1356.6 748.0 L1356.8 632.1 L1357.1 741.7 L1357.5 638.1 L1357.9 723.5 L1358.0 616.0 L1358.2 736.0 L1358.6 634.8 L1358.8 734.0 L1359.2 636.0 L1359.6 731.6 L1360.1 627.9 L1360.5 719.5 L1360.8 657.2 L1361.2 760.0 L1361.5 616.1 L1362.0 699.4 L1362.7 622.9 L1362.8 700.0 L1363.0 616.0 L1363.1 689.6 L1363.6 686.0 L1363.8 618.1 L1364.3 695.5 L1364.8 700.0 L1364.8 642.0 L1365.2 698.2 L1365.7 647.4 L1366.2 752.0 L1366.2 621.2 L1366.9 738.7 L1367.2 617.7 L1367.7 739.7 L1368.0 618.0 L1368.1 748.8 L1368.6 623.8 L1369.2 750.0 L1369.2 617.0 L1369.8 704.1 L1370.2 644.0 L1370.7 683.4 L1371.2 700.0 L1371.2 620.3 L1371.6 667.6 L1372.2 684.0 L1372.2 618.6 L1372.6 614.0 L1372.6 688.2 L1372.9 615.4 L1373.6 700.0 L1373.6 619.9 L1374.2 733.5 L1374.6 744.0 L1374.7 630.3 L1375.0 709.6 L1375.7 637.9 L1375.8 690.0 L1376.3 631.4 L1377.0 624.0 L1377.0 664.8 L1377.2 680.0 L1377.5 634.9 L1377.8 674.3 L1378.3 637.3 L1378.9 689.2 L1379.2 644.2 L1379.6 689.9 L1380.0 630.1 L1380.0 627.0 L1380.2 699.0 L1380.6 644.8 L1381.0 684.6 L1381.4 627.5 L1381.9 692.1 L1382.2 615.5 L1382.9 682.4 L1383.0 609.0 L1383.2 690.0 L1383.3 631.3 L1384.0 685.0 L1384.3 619.9 L1384.7 688.4 L1385.0 625.2 L1385.4 685.0 L1386.0 630.0 L1386.1 681.9 L1386.2 694.0 L1386.5 633.7 L1387.0 691.1 L1387.5 627.3 L1387.9 676.4 L1388.2 632.7 L1388.8 680.2 L1389.0 624.0 L1389.2 695.2 L1389.6 628.1 L1390.1 677.6 L1390.2 699.0 L1390.7 639.6 L1391.0 699.6 L1391.6 639.3 L1392.0 618.0 L1392.1 689.2 L1392.4 600.3 L1393.0 552.0 L1393.0 668.4 L1393.7 605.5 L1394.1 700.6 L1394.2 578.0 L1394.5 688.8 L1395.0 611.4 L1395.4 577.0 L1395.6 683.9 L1396.2 703.0 L1396.2 587.6 L1396.7 711.1 L1397.0 576.0 L1397.4 713.7 L1398.0 536.0 L1398.0 697.7 L1398.4 570.5 L1398.6 730.0 L1398.8 615.6 L1399.0 610.0 L1399.4 700.0 L1399.7 621.4 L1400.0 690.0 L1400.3 619.9 L1400.7 676.8 L1401.0 620.8 L1401.0 618.0 L1401.5 662.1 L1402.0 619.8 L1402.2 680.0 L1402.5 594.3 L1402.6 590.0 L1402.9 656.4 L1403.5 583.3 L1403.6 686.0 L1403.6 577.0 L1403.8 674.3 L1404.4 586.5 L1404.8 666.1 L1405.0 580.0 L1405.4 677.5 L1405.8 585.7 L1406.2 662.3 L1406.6 581.0 L1406.6 657.1 L1407.2 676.0 L1407.2 612.7 L1407.6 664.0 L1407.8 630.0 L1408.0 673.2 L1408.4 633.5 L1409.0 634.0 L1409.0 691.5 L1409.2 694.0 L1409.7 640.0 L1410.1 704.6 L1410.5 644.9 L1411.2 719.0 L1411.7 633.7 L1411.8 725.0 L1412.0 631.0 L1412.3 719.6 L1412.7 635.5 L1413.1 696.6 L1413.8 655.1 L1414.5 692.1 L1414.8 708.0 L1414.9 650.7 L1415.0 650.0 L1415.6 699.2 L1415.9 640.1 L1416.2 618.0 L1416.4 712.7 L1416.8 616.2 L1417.0 613.0 L1417.1 719.4 L1417.5 644.4 L1417.8 727.0 L1417.9 644.4 L1418.3 716.6 L1418.9 635.4 L1419.4 715.9 L1419.8 617.6 L1420.5 706.9 L1421.0 634.7 L1421.0 610.6 L1421.2 706.0 L1421.3 617.6 L1421.9 689.9 L1422.2 610.7 L1422.5 685.0 L1422.9 629.8 L1423.6 709.7 L1424.0 640.2 L1424.6 714.9 L1425.0 610.4 L1425.1 715.5 L1425.6 610.3 L1425.8 722.4 L1426.2 639.1 L1426.7 689.5 L1427.0 613.3 L1427.5 687.2 L1428.2 616.8 L1428.6 706.0 L1429.1 637.2 L1429.2 713.0 L1429.5 631.3 L1430.0 609.6 L1430.1 688.9 L1430.7 623.7 L1431.1 704.7 L1431.5 630.7 L1431.9 706.0 L1432.2 708.0 L1432.5 614.7 L1432.8 706.8 L1433.0 612.0 L1433.3 701.9 L1434.0 653.1 L1434.6 650.0 L1434.7 702.5 L1435.0 652.3 L1435.2 704.0 L1435.5 662.7 L1436.0 656.0 L1436.0 702.6 L1436.5 650.1 L1437.1 689.0 L1437.4 614.0 L1437.7 689.8 L1438.0 632.4 L1438.2 704.0 L1438.5 621.1 L1438.6 609.0 L1438.9 687.8 L1439.3 611.1 L1439.7 705.8 L1440.3 619.1 L1440.8 702.4 L1441.5 615.4 L1441.9 688.6 L1442.4 635.6 L1442.6 603.0 L1442.8 713.0 L1442.8 614.0 L1443.4 686.9 L1444.1 613.0 L1444.5 704.9 L1444.9 643.0 L1445.4 680.8 L1445.8 642.9 L1446.0 626.0 L1446.2 700.0 L1446.3 626.5 L1446.9 680.8 L1447.3 628.7 L1447.8 705.4 L1448.3 611.5 L1448.6 708.0 L1449.0 605.0 L1449.2 713.0 L1449.2 622.3 L1449.6 713.7 L1450.0 627.4 L1450.4 709.9 L1450.8 635.9 L1451.3 715.4 L1451.6 626.6 L1452.1 703.0 L1452.5 626.5 L1453.0 628.0 L1453.0 711.4 L1453.5 629.5 L1454.1 714.0 L1454.2 719.0 L1454.7 623.7 L1455.1 691.7 L1455.8 617.1 L1456.0 610.0 L1456.2 693.8 L1456.6 608.4 L1457.3 701.4 L1457.9 612.2 L1458.2 707.0 L1458.5 612.1 L1458.9 704.9 L1459.0 602.0 L1459.4 689.0 L1460.1 606.9 L1460.6 695.2 L1461.1 611.8 L1461.2 700.0 L1461.5 621.7 L1462.0 614.0 L1462.2 703.8 L1462.7 630.8 L1463.4 706.6 L1463.6 709.0 L1463.8 631.0 L1464.4 673.5 L1464.8 619.3 L1465.0 599.0 L1465.2 666.0 L1465.2 613.2 L1465.8 624.0 L1465.8 608.4 L1466.1 620.4 L1466.5 610.0 L1467.0 612.0 L1467.2 624.0 L1467.2 614.8 L1467.5 624.4 L1468.0 614.0 L1468.4 625.8 L1468.8 615.6 L1469.5 627.3 L1470.0 614.0 L1470.0 625.3 L1470.2 628.0 L1470.3 615.7 L1470.7 626.6 L1471.2 610.2 L1471.6 628.8 L1472.2 603.7 L1472.4 600.0 L1472.6 632.0 L1472.7 604.4 L1473.2 630.7 L1473.8 609.9 L1474.1 625.6 L1474.8 614.9 L1475.0 615.0 L1475.1 630.0 L1475.2 628.0 L1475.5 616.8 L1475.9 653.0 L1476.4 660.0 L1476.4 625.2 L1476.6 620.0 L1476.7 679.3 L1476.8 688.0 L1477.1 655.5 L1477.4 668.0 L1477.7 685.4 L1478.0 667.9 L1478.5 680.8 L1478.8 668.4 L1479.0 662.0 L1479.2 687.0 L1479.5 663.8 L1480.1 682.7 L1480.8 653.9 L1481.0 650.0 L1481.5 671.1 L1481.9 654.7 L1482.5 675.4 L1483.0 652.5 L1483.2 674.0 L1483.4 653.9 L1483.8 669.4 L1484.0 646.0 L1484.1 673.6 L1484.8 645.8 L1485.2 675.8 L1485.6 644.0 L1486.0 680.6 L1486.7 649.2 L1487.3 683.6 L1487.9 641.5 L1488.0 641.0 L1488.2 686.0 L1488.5 647.9 L1488.9 678.0 L1489.4 647.7 L1490.1 694.1 L1490.8 649.7 L1491.2 687.2 L1491.6 659.3 L1492.0 642.0 L1492.2 702.4 L1492.2 645.1 L1492.8 692.1 L1493.1 649.7 L1493.5 680.0 L1493.9 645.4 L1494.6 677.3 L1495.1 637.3 L1495.2 680.0 L1495.4 634.6 L1495.8 676.4 L1496.3 638.2 L1496.6 632.0 L1496.9 687.3 L1497.3 642.5 L1497.6 690.9 L1498.1 636.7 L1498.5 693.0 L1498.8 695.0 L1499.0 646.4 L1499.4 687.8 L1499.9 642.4 L1500.0 642.0 L1500.6 694.6 L1500.9 638.8 L1501.5 682.4 L1502.1 638.3 L1502.5 697.6 L1502.6 632.0 L1503.1 690.3 L1503.5 644.0 L1503.8 698.4 L1504.0 652.1 L1504.6 691.3 L1505.2 639.3 L1505.8 683.5 L1506.1 641.8 L1506.8 681.3 L1507.0 644.0 L1507.2 680.0 L1507.3 653.7 L1507.6 681.1 L1508.2 646.1 L1508.7 675.9 L1509.1 642.3 L1509.5 687.9 L1510.2 648.7 L1510.8 692.0 L1511.4 636.0 L1511.4 683.1 L1511.6 694.0 L1511.9 647.7 L1512.4 695.0 L1512.7 639.8 L1513.0 695.3 L1513.6 649.6 L1514.0 640.0 L1514.2 701.0 L1514.3 650.1 L1514.7 688.5 L1515.1 649.9 L1515.7 684.4 L1516.2 650.8 L1516.6 668.1 L1516.9 639.8 L1517.2 674.0 L1517.3 644.9 L1518.0 665.3 L1518.0 638.0 L1518.4 662.7 L1518.8 640.2 L1519.5 663.8 L1520.1 645.1 L1520.8 662.6 L1521.2 664.0 L1521.4 646.7 L1522.0 644.0 L1522.1 662.6 L1522.6 644.6 L1523.1 663.9 L1523.6 638.7 L1524.3 664.4 L1524.6 635.6 L1525.0 634.0 L1525.2 665.0 L1525.3 635.3 L1525.6 663.9 L1525.9 637.6 L1526.5 657.2 L1527.1 630.6 L1527.4 630.0 L1527.6 658.2 L1528.2 615.7 L1528.6 592.4 L1528.9 658.0 L1529.2 658.0 L1529.6 636.7 L1529.8 638.0 L1530.2 662.3 L1530.6 640.9 L1530.9 659.7 L1531.0 642.0 L1531.5 663.7 L1532.2 669.0 L1532.2 645.9 L1532.6 668.4 L1532.9 647.1 L1533.3 666.9 L1533.8 642.0 L1534.0 642.0 L1534.2 666.5 L1534.8 641.6 L1535.2 667.0 L1535.2 646.6 L1535.7 658.4 L1536.3 636.0 L1536.7 659.3 L1537.0 634.0 L1537.3 658.0 L1537.9 634.5 L1538.3 650.2 L1538.6 635.2 L1539.0 654.0 L1539.2 654.0 L1539.4 632.7 L1540.0 626.0 L1540.1 652.9 L1540.6 627.7 L1541.2 651.3 L1541.7 624.7 L1542.3 649.7 L1543.0 622.2 L1543.0 621.0 L1543.2 650.0 L1543.4 625.2 L1543.9 647.8 L1544.4 618.8 L1545.0 640.7 L1545.7 620.5 L1546.0 616.0 L1546.1 641.1 L1546.6 621.2 L1546.9 634.3 L1547.2 641.0 L1547.2 613.1 L1547.6 633.6 L1548.1 611.8 L1548.8 640.5 L1549.3 610.3 L1549.4 606.0 L1549.9 635.3 L1550.4 612.4 L1550.8 641.5 L1551.2 642.0 L1551.5 620.1 L1552.0 618.0 L1552.1 647.4 L1552.6 621.9 L1553.1 653.0 L1553.4 610.0 L1553.6 643.4 L1554.0 592.8 L1554.4 646.4 L1554.4 577.0 L1555.0 662.9 L1555.2 664.0 L1555.4 587.0 L1555.6 586.0 L1555.8 659.2 L1556.2 591.0 L1556.6 647.1 L1557.0 588.0 L1557.1 673.4 L1557.8 591.8 L1558.3 654.1 L1558.6 680.0 L1558.6 594.0 L1558.9 663.3 L1559.4 599.9 L1559.9 674.7 L1560.3 607.8 L1560.6 668.5 L1561.2 618.6 L1561.7 661.3 L1562.0 612.0 L1562.2 667.6 L1562.8 616.8 L1563.2 666.0 L1563.4 627.5 L1563.8 661.8 L1564.4 619.4 L1564.8 661.6 L1565.0 616.0 L1565.5 661.9 L1566.1 628.7 L1566.2 675.0 L1566.6 623.1 L1567.1 673.5 L1567.7 613.1 L1568.1 664.5 L1568.7 621.0 L1569.0 611.0 L1569.1 674.2 L1569.2 679.0 L1569.6 617.5 L1570.1 670.0 L1570.7 601.6 L1571.3 668.5 L1571.8 602.5 L1572.4 690.3 L1572.6 588.0 L1572.8 691.0 L1573.0 591.1 L1573.6 661.2 L1574.1 594.8 L1574.6 673.2 L1575.2 607.1 L1575.8 661.2 L1576.0 602.0 L1576.3 670.9 L1576.8 675.0 L1576.9 599.9 L1577.5 670.9 L1578.1 593.9 L1578.6 591.0 L1578.8 673.3 L1579.1 597.1 L1579.6 679.4 L1580.1 605.0 L1580.2 680.0 L1580.6 607.1 L1581.1 699.1 L1581.4 606.0 L1581.6 709.0 L1581.6 632.5 L1582.2 700.8 L1582.8 605.3 L1583.2 695.0 L1583.8 614.3 L1584.0 592.0 L1584.2 690.0 L1584.3 598.3 L1584.9 676.3 L1585.5 586.1 L1586.1 644.0 L1586.6 573.6 L1586.7 649.8 L1586.8 656.0 L1587.1 587.1 L1587.5 645.9 L1587.9 603.2 L1588.3 667.9 L1588.7 595.9 L1589.1 681.1 L1589.4 594.0 L1589.6 684.0 L1589.7 596.1 L1590.1 674.3 L1590.6 595.2 L1591.1 656.6 L1591.6 605.8 L1591.6 584.0 L1592.2 660.2 L1592.9 608.9 L1593.2 654.0 L1593.5 598.0 L1594.1 648.4 L1594.4 603.9 L1595.0 608.0 L1595.1 650.5 L1595.5 607.3 L1595.9 658.1 L1596.5 607.8 L1596.8 646.9 L1597.2 662.0 L1597.4 603.5 L1598.1 653.0 L1598.7 609.3 L1599.0 599.0 L1599.4 647.9 L1600.0 603.3 L1600.6 653.3 L1601.2 659.0 L1601.2 609.9 L1601.8 655.3 L1602.2 610.3 L1602.6 658.7 L1602.8 664.0 L1602.9 618.0 L1603.3 713.3 L1603.8 753.0 L1603.8 627.2 L1604.0 614.0 L1604.4 680.0 L1604.8 664.0 L1605.1 618.9 L1605.6 656.3 L1606.2 618.2 L1606.7 650.3 L1607.0 622.6 L1607.6 664.0 L1608.0 616.0 L1608.1 656.9 L1608.2 664.0 L1608.8 621.7 L1609.5 669.1 L1610.0 637.5 L1610.3 670.5 L1610.8 630.4 L1611.5 685.2 L1612.0 638.3 L1612.0 632.0 L1612.2 692.4 L1612.6 627.2 L1613.1 681.0 L1613.6 629.7 L1614.0 664.6 L1614.0 610.0 L1614.5 669.7 L1614.9 601.8 L1615.0 591.0 L1615.2 674.0 L1615.6 617.2 L1616.2 670.8 L1616.2 626.0 L1616.6 671.0 L1617.1 634.5 L1617.7 672.3 L1618.0 630.0 L1618.3 661.1 L1618.9 624.4 L1619.3 671.4 L1619.6 632.8 L1620.2 671.0 L1620.2 623.9 L1620.8 654.4 L1621.0 610.0 L1621.4 659.3 L1621.9 605.4 L1622.0 591.0 L1622.4 656.1 L1622.8 624.2 L1623.0 622.0 L1623.3 656.3 L1623.6 624.1 L1624.0 655.3 L1624.2 663.0 L1624.6 630.9 L1625.0 626.0 L1625.1 653.7 L1625.2 662.0 L1625.7 618.0 L1626.1 658.1 L1626.6 597.9 L1626.6 594.0 L1626.8 660.0 L1627.0 616.4 L1627.7 664.5 L1627.8 634.0 L1628.2 666.8 L1628.6 643.4 L1629.0 638.0 L1629.1 662.1 L1629.2 670.0 L1629.6 638.6 L1630.0 670.5 L1630.7 651.0 L1631.2 678.1 L1631.6 646.8 L1631.9 684.0 L1632.2 641.2 L1632.8 688.6 L1633.0 642.0 L1633.2 690.0 L1633.5 643.3 L1634.2 683.8 L1634.5 651.6 L1634.9 674.3 L1635.2 646.5 L1635.8 670.9 L1636.5 653.2 L1636.8 667.9 L1637.0 650.0 L1637.2 670.0 L1637.4 651.5 L1638.1 668.3 L1638.8 652.5 L1639.1 667.9 L1639.6 652.7 L1640.0 666.2 L1640.5 648.5 L1641.0 648.0 L1641.2 666.0 L1641.2 650.1 L1641.5 665.6 L1642.0 651.5 L1642.6 667.9 L1643.2 653.5 L1643.8 667.4 L1644.0 654.0 L1644.2 670.0 L1644.3 653.1 L1644.9 664.5 L1645.5 645.7 L1645.9 672.4 L1646.6 640.1 L1647.0 630.0 L1647.2 674.0 L1647.2 631.5 L1647.8 662.4 L1648.4 631.9 L1648.8 676.0 L1649.5 624.6 L1650.1 675.9 L1650.7 631.2 L1651.0 615.0 L1651.1 688.2 L1651.2 688.0 L1651.5 623.0 L1652.1 674.5 L1652.7 623.7 L1653.4 677.3 L1654.0 630.0 L1654.0 684.4 L1654.2 692.0 L1654.4 642.8 L1655.0 680.5 L1655.7 625.9 L1656.0 682.5 L1656.7 619.3 L1657.0 616.0 L1657.2 690.0 L1657.3 636.8 L1657.6 681.0 L1658.2 628.2 L1658.6 689.3 L1659.2 640.5 L1659.7 692.3 L1660.3 644.6 L1660.7 686.3 L1661.0 636.0 L1661.2 694.0 L1661.4 651.2 L1661.9 688.9 L1662.4 641.8 L1662.8 693.0 L1663.4 646.8 L1663.9 690.6 L1664.0 646.0 L1664.2 694.0 L1664.4 644.5 L1664.7 677.9 L1665.2 640.0 L1665.7 680.7 L1666.1 642.0 L1666.5 685.0 L1666.8 630.4 L1667.5 674.9 L1667.6 626.0 L1667.8 690.0 L1668.0 634.5 L1668.4 676.4 L1668.9 645.2 L1669.5 674.4 L1670.2 633.9 L1670.5 683.7 L1670.9 634.0 L1671.0 634.0 L1671.2 684.0 L1671.2 639.7 L1671.8 678.6 L1672.5 645.6 L1672.8 675.1 L1673.3 633.0 L1674.0 678.4 L1674.0 632.0 L1674.2 680.0 L1674.5 637.9 L1675.2 671.4 L1675.6 632.1 L1676.0 664.2 L1676.7 626.7 L1677.0 676.7 L1677.5 637.3 L1678.0 622.0 L1678.1 665.1 L1678.2 678.0 L1678.4 631.4 L1679.0 668.3 L1679.7 612.6 L1680.1 664.1 L1680.8 617.9 L1681.2 666.9 L1681.6 602.0 L1681.8 676.0 L1681.8 605.9 L1682.2 672.6 L1682.6 624.9 L1682.9 671.7 L1683.0 628.0 L1683.3 665.3 L1683.6 636.4 L1684.0 670.9 L1684.4 630.0 L1684.6 670.0 L1684.6 629.9 L1685.3 658.9 L1686.0 622.8 L1686.4 668.3 L1687.1 628.2 L1687.4 615.0 L1687.6 668.0 L1687.7 621.3 L1688.1 658.2 L1688.6 630.3 L1689.0 668.8 L1689.2 670.0 L1689.3 638.2 L1689.8 705.7 L1690.0 634.0 L1690.2 716.0 L1690.4 635.6 L1690.9 673.5 L1691.2 670.0 L1691.3 640.7 L1691.8 667.9 L1692.2 632.8 L1692.9 665.8 L1693.0 630.0 L1693.2 666.0 L1693.6 622.5 L1694.3 669.3 L1694.6 616.0 L1695.1 685.4 L1695.4 599.6 L1695.4 686.0 L1695.6 692.0 L1696.1 634.7 L1696.6 624.0 L1696.8 672.2 L1697.2 635.4 L1697.5 655.7 L1698.0 634.8 L1698.0 626.0 L1698.2 656.0 L1698.3 632.8 L1698.7 654.6 L1699.0 634.3 L1699.5 653.2 L1700.0 636.7 L1700.4 649.9 L1700.7 633.2 L1701.3 648.1 L1701.7 635.4 L1702.0 636.0 L1702.1 648.2 L1702.2 650.0 L1702.6 637.0 L1702.9 649.4 L1703.5 640.4 L1704.1 652.7 L1704.4 640.7 L1704.8 651.4 L1705.2 641.9 L1705.6 651.6 L1706.0 639.0 L1706.2 656.0 L1706.2 640.8 L1706.5 652.5 L1707.0 643.9 L1707.4 658.5 L1708.1 640.9 L1708.4 659.6 L1709.0 640.0 L1709.0 640.0 L1709.2 662.0 L1709.5 640.6 L1710.0 664.6 L1710.6 666.0 L1710.6 644.2 L1711.2 707.0 L1711.4 633.0 L1711.6 720.0 L1711.8 636.7 L1712.4 665.9 L1712.6 666.0 L1713.1 641.3 L1713.6 664.9 L1714.0 630.0 L1714.1 665.6 L1714.2 670.0 L1714.4 641.3 L1714.8 669.7 L1715.1 630.6 L1715.7 671.1 L1716.1 635.8 L1716.5 671.6 L1717.0 633.5 L1717.0 628.0 L1717.2 672.0 L1717.5 633.3 L1717.8 660.4 L1718.4 620.5 L1718.8 666.8 L1719.3 618.0 L1719.6 667.9 L1720.0 619.8 L1720.0 612.0 L1720.2 672.0 L1720.6 611.8 L1721.2 659.7 L1721.5 623.1 L1722.2 666.4 L1722.7 621.8 L1723.0 607.0 L1723.2 670.0 L1723.2 609.7 L1723.9 655.5 L1724.3 597.3 L1724.4 594.0 L1724.7 662.6 L1725.4 567.0 L1725.4 647.5 L1725.6 669.0 L1726.1 603.4 L1726.4 594.0 L1726.7 668.3 L1727.2 614.8 L1727.9 665.6 L1728.0 594.0 L1728.2 668.0 L1728.4 605.3 L1728.8 659.4" fill="none" stroke="#ff0000" stroke-width="2" stroke-linejoin="round"/>
</g>
<g transform="translate(1226.30 520.00) scale(1 1.055)" font-size="19.44" fill="#000" stroke="#000" stroke-width="0.245">
<text x="-12.37" y="0" textLength="12.37" lengthAdjust="spacingAndGlyphs">0</text>
</g>
<g transform="translate(1226.30 588.80) scale(1 1.055)" font-size="19.44" fill="#000" stroke="#000" stroke-width="0.245">
<text x="-53.39" y="0" textLength="53.39" lengthAdjust="spacingAndGlyphs">−100</text>
</g>
<g transform="translate(1226.30 657.60) scale(1 1.055)" font-size="19.44" fill="#000" stroke="#000" stroke-width="0.245">
<text x="-53.39" y="0" textLength="53.39" lengthAdjust="spacingAndGlyphs">−200</text>
</g>
<g transform="translate(1226.30 726.40) scale(1 1.055)" font-size="19.44" fill="#000" stroke="#000" stroke-width="0.245">
<text x="-53.39" y="0" textLength="53.39" lengthAdjust="spacingAndGlyphs">−300</text>
</g>
<g transform="translate(1226.30 795.20) scale(1 1.055)" font-size="19.44" fill="#000" stroke="#000" stroke-width="0.245">
<text x="-53.39" y="0" textLength="53.39" lengthAdjust="spacingAndGlyphs">−400</text>
</g>
<line x1="1269.40" y1="822.00" x2="1269.40" y2="817.00" stroke="#000" stroke-width="1" shape-rendering="crispEdges"/>
<line x1="1340.50" y1="822.00" x2="1340.50" y2="817.00" stroke="#000" stroke-width="1" shape-rendering="crispEdges"/>
<line x1="1411.60" y1="822.00" x2="1411.60" y2="817.00" stroke="#000" stroke-width="1" shape-rendering="crispEdges"/>
<line x1="1482.70" y1="822.00" x2="1482.70" y2="817.00" stroke="#000" stroke-width="1" shape-rendering="crispEdges"/>
<line x1="1553.80" y1="822.00" x2="1553.80" y2="817.00" stroke="#000" stroke-width="1" shape-rendering="crispEdges"/>
<line x1="1624.90" y1="822.00" x2="1624.90" y2="817.00" stroke="#000" stroke-width="1" shape-rendering="crispEdges"/>
<line x1="1696.00" y1="822.00" x2="1696.00" y2="817.00" stroke="#000" stroke-width="1" shape-rendering="crispEdges"/>
<line x1="1767.10" y1="822.00" x2="1767.10" y2="817.00" stroke="#000" stroke-width="1" shape-rendering="crispEdges"/>
<rect x="1231.50" y="478.00" width="568.50" height="344.00" fill="none" stroke="#000" stroke-width="2"/>
<line x1="1800.00" y1="477.00" x2="1800.00" y2="823.00" stroke="#ff0000" stroke-width="2"/>
<line x1="1230.50" y1="478.00" x2="1801.00" y2="478.00" stroke="#000" stroke-width="2"/>
<line x1="1230.50" y1="822.00" x2="1801.00" y2="822.00" stroke="#000" stroke-width="2"/>
<line x1="1800.00" y1="478.00" x2="1795.60" y2="478.00" stroke="#ff0000" stroke-width="1" shape-rendering="crispEdges"/>
<g transform="translate(1806.00 486.30) scale(1 1.055)" fill="#ff0000" stroke="#ff0000" stroke-width="0.245">
<text x="0.00" y="0" font-size="19.44" textLength="24.74" lengthAdjust="spacingAndGlyphs">10</text>
<text x="24.74" y="-6.82" font-size="13.61" textLength="8.66" lengthAdjust="spacingAndGlyphs">2</text>
</g>
<line x1="1800.00" y1="538.11" x2="1797.40" y2="538.11" stroke="#ff0000" stroke-width="1" shape-rendering="crispEdges"/>
<line x1="1800.00" y1="522.97" x2="1797.40" y2="522.97" stroke="#ff0000" stroke-width="1" shape-rendering="crispEdges"/>
<line x1="1800.00" y1="512.22" x2="1797.40" y2="512.22" stroke="#ff0000" stroke-width="1" shape-rendering="crispEdges"/>
<line x1="1800.00" y1="503.89" x2="1797.40" y2="503.89" stroke="#ff0000" stroke-width="1" shape-rendering="crispEdges"/>
<line x1="1800.00" y1="497.08" x2="1797.40" y2="497.08" stroke="#ff0000" stroke-width="1" shape-rendering="crispEdges"/>
<line x1="1800.00" y1="491.32" x2="1797.40" y2="491.32" stroke="#ff0000" stroke-width="1" shape-rendering="crispEdges"/>
<line x1="1800.00" y1="486.33" x2="1797.40" y2="486.33" stroke="#ff0000" stroke-width="1" shape-rendering="crispEdges"/>
<line x1="1800.00" y1="481.94" x2="1797.40" y2="481.94" stroke="#ff0000" stroke-width="1" shape-rendering="crispEdges"/>
<line x1="1800.00" y1="564.00" x2="1795.60" y2="564.00" stroke="#ff0000" stroke-width="1" shape-rendering="crispEdges"/>
<g transform="translate(1806.00 572.30) scale(1 1.055)" fill="#ff0000" stroke="#ff0000" stroke-width="0.245">
<text x="0.00" y="0" font-size="19.44" textLength="24.74" lengthAdjust="spacingAndGlyphs">10</text>
<text x="24.74" y="-6.82" font-size="13.61" textLength="8.66" lengthAdjust="spacingAndGlyphs">1</text>
</g>
<line x1="1800.00" y1="624.11" x2="1797.40" y2="624.11" stroke="#ff0000" stroke-width="1" shape-rendering="crispEdges"/>
<line x1="1800.00" y1="608.97" x2="1797.40" y2="608.97" stroke="#ff0000" stroke-width="1" shape-rendering="crispEdges"/>
<line x1="1800.00" y1="598.22" x2="1797.40" y2="598.22" stroke="#ff0000" stroke-width="1" shape-rendering="crispEdges"/>
<line x1="1800.00" y1="589.89" x2="1797.40" y2="589.89" stroke="#ff0000" stroke-width="1" shape-rendering="crispEdges"/>
<line x1="1800.00" y1="583.08" x2="1797.40" y2="583.08" stroke="#ff0000" stroke-width="1" shape-rendering="crispEdges"/>
<line x1="1800.00" y1="577.32" x2="1797.40" y2="577.32" stroke="#ff0000" stroke-width="1" shape-rendering="crispEdges"/>
<line x1="1800.00" y1="572.33" x2="1797.40" y2="572.33" stroke="#ff0000" stroke-width="1" shape-rendering="crispEdges"/>
<line x1="1800.00" y1="567.94" x2="1797.40" y2="567.94" stroke="#ff0000" stroke-width="1" shape-rendering="crispEdges"/>
<line x1="1800.00" y1="650.00" x2="1795.60" y2="650.00" stroke="#ff0000" stroke-width="1" shape-rendering="crispEdges"/>
<g transform="translate(1806.00 658.30) scale(1 1.055)" fill="#ff0000" stroke="#ff0000" stroke-width="0.245">
<text x="0.00" y="0" font-size="19.44" textLength="24.74" lengthAdjust="spacingAndGlyphs">10</text>
<text x="24.74" y="-6.82" font-size="13.61" textLength="8.66" lengthAdjust="spacingAndGlyphs">0</text>
</g>
<line x1="1800.00" y1="710.11" x2="1797.40" y2="710.11" stroke="#ff0000" stroke-width="1" shape-rendering="crispEdges"/>
<line x1="1800.00" y1="694.97" x2="1797.40" y2="694.97" stroke="#ff0000" stroke-width="1" shape-rendering="crispEdges"/>
<line x1="1800.00" y1="684.22" x2="1797.40" y2="684.22" stroke="#ff0000" stroke-width="1" shape-rendering="crispEdges"/>
<line x1="1800.00" y1="675.89" x2="1797.40" y2="675.89" stroke="#ff0000" stroke-width="1" shape-rendering="crispEdges"/>
<line x1="1800.00" y1="669.08" x2="1797.40" y2="669.08" stroke="#ff0000" stroke-width="1" shape-rendering="crispEdges"/>
<line x1="1800.00" y1="663.32" x2="1797.40" y2="663.32" stroke="#ff0000" stroke-width="1" shape-rendering="crispEdges"/>
<line x1="1800.00" y1="658.33" x2="1797.40" y2="658.33" stroke="#ff0000" stroke-width="1" shape-rendering="crispEdges"/>
<line x1="1800.00" y1="653.94" x2="1797.40" y2="653.94" stroke="#ff0000" stroke-width="1" shape-rendering="crispEdges"/>
<line x1="1800.00" y1="736.00" x2="1795.60" y2="736.00" stroke="#ff0000" stroke-width="1" shape-rendering="crispEdges"/>
<g transform="translate(1806.00 744.30) scale(1 1.055)" fill="#ff0000" stroke="#ff0000" stroke-width="0.245">
<text x="0.00" y="0" font-size="19.44" textLength="24.74" lengthAdjust="spacingAndGlyphs">10</text>
<text x="24.74" y="-6.82" font-size="13.61" textLength="20.06" lengthAdjust="spacingAndGlyphs">−1</text>
</g>
<line x1="1800.00" y1="796.11" x2="1797.40" y2="796.11" stroke="#ff0000" stroke-width="1" shape-rendering="crispEdges"/>
<line x1="1800.00" y1="780.97" x2="1797.40" y2="780.97" stroke="#ff0000" stroke-width="1" shape-rendering="crispEdges"/>
<line x1="1800.00" y1="770.22" x2="1797.40" y2="770.22" stroke="#ff0000" stroke-width="1" shape-rendering="crispEdges"/>
<line x1="1800.00" y1="761.89" x2="1797.40" y2="761.89" stroke="#ff0000" stroke-width="1" shape-rendering="crispEdges"/>
<line x1="1800.00" y1="755.08" x2="1797.40" y2="755.08" stroke="#ff0000" stroke-width="1" shape-rendering="crispEdges"/>
<line x1="1800.00" y1="749.32" x2="1797.40" y2="749.32" stroke="#ff0000" stroke-width="1" shape-rendering="crispEdges"/>
<line x1="1800.00" y1="744.33" x2="1797.40" y2="744.33" stroke="#ff0000" stroke-width="1" shape-rendering="crispEdges"/>
<line x1="1800.00" y1="739.94" x2="1797.40" y2="739.94" stroke="#ff0000" stroke-width="1" shape-rendering="crispEdges"/>
<line x1="1800.00" y1="822.00" x2="1795.60" y2="822.00" stroke="#ff0000" stroke-width="1" shape-rendering="crispEdges"/>
<g transform="translate(1806.00 830.30) scale(1 1.055)" fill="#ff0000" stroke="#ff0000" stroke-width="0.245">
<text x="0.00" y="0" font-size="19.44" textLength="24.74" lengthAdjust="spacingAndGlyphs">10</text>
<text x="24.74" y="-6.82" font-size="13.61" textLength="20.06" lengthAdjust="spacingAndGlyphs">−2</text>
</g>
<g transform="translate(1131.20 653.00) rotate(-90) scale(1 1.055)" font-size="24.0" fill="#000" stroke="#000" stroke-width="0.302">
<text x="-20.20" y="0" textLength="40.40" lengthAdjust="spacingAndGlyphs">Dst</text>
</g>
<g transform="translate(1156.50 650.60) rotate(-90) scale(1 1.055)" font-size="24.0" fill="#000" stroke="#000" stroke-width="0.302">
<text x="-31.93" y="0" textLength="9.36" lengthAdjust="spacingAndGlyphs">(</text>
<text x="-14.94" y="0" textLength="29.87" lengthAdjust="spacingAndGlyphs">nT</text>
<text x="22.57" y="0" textLength="9.36" lengthAdjust="spacingAndGlyphs">)</text>
</g>
<g transform="translate(1874.00 650.50) rotate(-90) scale(1 1.055)" font-size="24.0" fill="#ff0000" stroke="#ff0000" stroke-width="0.302">
<text x="-74.54" y="0" textLength="38.96" lengthAdjust="spacingAndGlyphs">SW</text>
<text x="-27.95" y="0" textLength="102.49" lengthAdjust="spacingAndGlyphs">Pressure</text>
</g>
<g transform="translate(1905.30 650.00) rotate(-90) scale(1 1.055)" font-size="24.0" fill="#ff0000" stroke="#ff0000" stroke-width="0.302">
<text x="-38.65" y="0" textLength="9.36" lengthAdjust="spacingAndGlyphs">(</text>
<text x="-21.66" y="0" textLength="43.31" lengthAdjust="spacingAndGlyphs">nPa</text>
<text x="29.29" y="0" textLength="9.36" lengthAdjust="spacingAndGlyphs">)</text>
</g>
<g clip-path="url(#cB3)">
<line x1="1231.50" y1="931.00" x2="1800.00" y2="931.00" stroke="#000" stroke-width="1.9" stroke-dasharray="1.8 2.2"/>
<line x1="1729.40" y1="1017.00" x2="1729.40" y2="845.00" stroke="#000" stroke-width="3" stroke-dasharray="3.1 5.1"/>
</g>
<line x1="1231.50" y1="845.00" x2="1236.50" y2="845.00" stroke="#000" stroke-width="1" shape-rendering="crispEdges"/>
<line x1="1800.00" y1="845.00" x2="1795.60" y2="845.00" stroke="#000" stroke-width="1" shape-rendering="crispEdges"/>
<g transform="translate(1226.00 853.30) scale(1 1.055)" fill="#000" stroke="#000" stroke-width="0.245">
<text x="-33.40" y="0" font-size="19.44" textLength="24.74" lengthAdjust="spacingAndGlyphs">10</text>
<text x="-8.66" y="-6.82" font-size="13.61" textLength="8.66" lengthAdjust="spacingAndGlyphs">3</text>
</g>
<line x1="1231.50" y1="875.06" x2="1235.10" y2="875.06" stroke="#000" stroke-width="1" shape-rendering="crispEdges"/>
<line x1="1800.00" y1="875.06" x2="1797.40" y2="875.06" stroke="#000" stroke-width="1" shape-rendering="crispEdges"/>
<line x1="1231.50" y1="867.48" x2="1235.10" y2="867.48" stroke="#000" stroke-width="1" shape-rendering="crispEdges"/>
<line x1="1800.00" y1="867.48" x2="1797.40" y2="867.48" stroke="#000" stroke-width="1" shape-rendering="crispEdges"/>
<line x1="1231.50" y1="862.11" x2="1235.10" y2="862.11" stroke="#000" stroke-width="1" shape-rendering="crispEdges"/>
<line x1="1800.00" y1="862.11" x2="1797.40" y2="862.11" stroke="#000" stroke-width="1" shape-rendering="crispEdges"/>
<line x1="1231.50" y1="857.94" x2="1235.10" y2="857.94" stroke="#000" stroke-width="1" shape-rendering="crispEdges"/>
<line x1="1800.00" y1="857.94" x2="1797.40" y2="857.94" stroke="#000" stroke-width="1" shape-rendering="crispEdges"/>
<line x1="1231.50" y1="854.54" x2="1235.10" y2="854.54" stroke="#000" stroke-width="1" shape-rendering="crispEdges"/>
<line x1="1800.00" y1="854.54" x2="1797.40" y2="854.54" stroke="#000" stroke-width="1" shape-rendering="crispEdges"/>
<line x1="1231.50" y1="851.66" x2="1235.10" y2="851.66" stroke="#000" stroke-width="1" shape-rendering="crispEdges"/>
<line x1="1800.00" y1="851.66" x2="1797.40" y2="851.66" stroke="#000" stroke-width="1" shape-rendering="crispEdges"/>
<line x1="1231.50" y1="849.17" x2="1235.10" y2="849.17" stroke="#000" stroke-width="1" shape-rendering="crispEdges"/>
<line x1="1800.00" y1="849.17" x2="1797.40" y2="849.17" stroke="#000" stroke-width="1" shape-rendering="crispEdges"/>
<line x1="1231.50" y1="846.97" x2="1235.10" y2="846.97" stroke="#000" stroke-width="1" shape-rendering="crispEdges"/>
<line x1="1800.00" y1="846.97" x2="1797.40" y2="846.97" stroke="#000" stroke-width="1" shape-rendering="crispEdges"/>
<line x1="1231.50" y1="888.00" x2="1236.50" y2="888.00" stroke="#000" stroke-width="1" shape-rendering="crispEdges"/>
<line x1="1800.00" y1="888.00" x2="1795.60" y2="888.00" stroke="#000" stroke-width="1" shape-rendering="crispEdges"/>
<g transform="translate(1226.00 896.30) scale(1 1.055)" fill="#000" stroke="#000" stroke-width="0.245">
<text x="-33.40" y="0" font-size="19.44" textLength="24.74" lengthAdjust="spacingAndGlyphs">10</text>
<text x="-8.66" y="-6.82" font-size="13.61" textLength="8.66" lengthAdjust="spacingAndGlyphs">2</text>
</g>
<line x1="1231.50" y1="918.06" x2="1235.10" y2="918.06" stroke="#000" stroke-width="1" shape-rendering="crispEdges"/>
<line x1="1800.00" y1="918.06" x2="1797.40" y2="918.06" stroke="#000" stroke-width="1" shape-rendering="crispEdges"/>
<line x1="1231.50" y1="910.48" x2="1235.10" y2="910.48" stroke="#000" stroke-width="1" shape-rendering="crispEdges"/>
<line x1="1800.00" y1="910.48" x2="1797.40" y2="910.48" stroke="#000" stroke-width="1" shape-rendering="crispEdges"/>
<line x1="1231.50" y1="905.11" x2="1235.10" y2="905.11" stroke="#000" stroke-width="1" shape-rendering="crispEdges"/>
<line x1="1800.00" y1="905.11" x2="1797.40" y2="905.11" stroke="#000" stroke-width="1" shape-rendering="crispEdges"/>
<line x1="1231.50" y1="900.94" x2="1235.10" y2="900.94" stroke="#000" stroke-width="1" shape-rendering="crispEdges"/>
<line x1="1800.00" y1="900.94" x2="1797.40" y2="900.94" stroke="#000" stroke-width="1" shape-rendering="crispEdges"/>
<line x1="1231.50" y1="897.54" x2="1235.10" y2="897.54" stroke="#000" stroke-width="1" shape-rendering="crispEdges"/>
<line x1="1800.00" y1="897.54" x2="1797.40" y2="897.54" stroke="#000" stroke-width="1" shape-rendering="crispEdges"/>
<line x1="1231.50" y1="894.66" x2="1235.10" y2="894.66" stroke="#000" stroke-width="1" shape-rendering="crispEdges"/>
<line x1="1800.00" y1="894.66" x2="1797.40" y2="894.66" stroke="#000" stroke-width="1" shape-rendering="crispEdges"/>
<line x1="1231.50" y1="892.17" x2="1235.10" y2="892.17" stroke="#000" stroke-width="1" shape-rendering="crispEdges"/>
<line x1="1800.00" y1="892.17" x2="1797.40" y2="892.17" stroke="#000" stroke-width="1" shape-rendering="crispEdges"/>
<line x1="1231.50" y1="889.97" x2="1235.10" y2="889.97" stroke="#000" stroke-width="1" shape-rendering="crispEdges"/>
<line x1="1800.00" y1="889.97" x2="1797.40" y2="889.97" stroke="#000" stroke-width="1" shape-rendering="crispEdges"/>
<line x1="1231.50" y1="931.00" x2="1236.50" y2="931.00" stroke="#000" stroke-width="1" shape-rendering="crispEdges"/>
<line x1="1800.00" y1="931.00" x2="1795.60" y2="931.00" stroke="#000" stroke-width="1" shape-rendering="crispEdges"/>
<g transform="translate(1226.00 939.30) scale(1 1.055)" fill="#000" stroke="#000" stroke-width="0.245">
<text x="-33.40" y="0" font-size="19.44" textLength="24.74" lengthAdjust="spacingAndGlyphs">10</text>
<text x="-8.66" y="-6.82" font-size="13.61" textLength="8.66" lengthAdjust="spacingAndGlyphs">1</text>
</g>
<line x1="1231.50" y1="961.06" x2="1235.10" y2="961.06" stroke="#000" stroke-width="1" shape-rendering="crispEdges"/>
<line x1="1800.00" y1="961.06" x2="1797.40" y2="961.06" stroke="#000" stroke-width="1" shape-rendering="crispEdges"/>
<line x1="1231.50" y1="953.48" x2="1235.10" y2="953.48" stroke="#000" stroke-width="1" shape-rendering="crispEdges"/>
<line x1="1800.00" y1="953.48" x2="1797.40" y2="953.48" stroke="#000" stroke-width="1" shape-rendering="crispEdges"/>
<line x1="1231.50" y1="948.11" x2="1235.10" y2="948.11" stroke="#000" stroke-width="1" shape-rendering="crispEdges"/>
<line x1="1800.00" y1="948.11" x2="1797.40" y2="948.11" stroke="#000" stroke-width="1" shape-rendering="crispEdges"/>
<line x1="1231.50" y1="943.94" x2="1235.10" y2="943.94" stroke="#000" stroke-width="1" shape-rendering="crispEdges"/>
<line x1="1800.00" y1="943.94" x2="1797.40" y2="943.94" stroke="#000" stroke-width="1" shape-rendering="crispEdges"/>
<line x1="1231.50" y1="940.54" x2="1235.10" y2="940.54" stroke="#000" stroke-width="1" shape-rendering="crispEdges"/>
<line x1="1800.00" y1="940.54" x2="1797.40" y2="940.54" stroke="#000" stroke-width="1" shape-rendering="crispEdges"/>
<line x1="1231.50" y1="937.66" x2="1235.10" y2="937.66" stroke="#000" stroke-width="1" shape-rendering="crispEdges"/>
<line x1="1800.00" y1="937.66" x2="1797.40" y2="937.66" stroke="#000" stroke-width="1" shape-rendering="crispEdges"/>
<line x1="1231.50" y1="935.17" x2="1235.10" y2="935.17" stroke="#000" stroke-width="1" shape-rendering="crispEdges"/>
<line x1="1800.00" y1="935.17" x2="1797.40" y2="935.17" stroke="#000" stroke-width="1" shape-rendering="crispEdges"/>
<line x1="1231.50" y1="932.97" x2="1235.10" y2="932.97" stroke="#000" stroke-width="1" shape-rendering="crispEdges"/>
<line x1="1800.00" y1="932.97" x2="1797.40" y2="932.97" stroke="#000" stroke-width="1" shape-rendering="crispEdges"/>
<line x1="1231.50" y1="974.00" x2="1236.50" y2="974.00" stroke="#000" stroke-width="1" shape-rendering="crispEdges"/>
<line x1="1800.00" y1="974.00" x2="1795.60" y2="974.00" stroke="#000" stroke-width="1" shape-rendering="crispEdges"/>
<g transform="translate(1226.00 982.30) scale(1 1.055)" fill="#000" stroke="#000" stroke-width="0.245">
<text x="-33.40" y="0" font-size="19.44" textLength="24.74" lengthAdjust="spacingAndGlyphs">10</text>
<text x="-8.66" y="-6.82" font-size="13.61" textLength="8.66" lengthAdjust="spacingAndGlyphs">0</text>
</g>
<line x1="1231.50" y1="1004.06" x2="1235.10" y2="1004.06" stroke="#000" stroke-width="1" shape-rendering="crispEdges"/>
<line x1="1800.00" y1="1004.06" x2="1797.40" y2="1004.06" stroke="#000" stroke-width="1" shape-rendering="crispEdges"/>
<line x1="1231.50" y1="996.48" x2="1235.10" y2="996.48" stroke="#000" stroke-width="1" shape-rendering="crispEdges"/>
<line x1="1800.00" y1="996.48" x2="1797.40" y2="996.48" stroke="#000" stroke-width="1" shape-rendering="crispEdges"/>
<line x1="1231.50" y1="991.11" x2="1235.10" y2="991.11" stroke="#000" stroke-width="1" shape-rendering="crispEdges"/>
<line x1="1800.00" y1="991.11" x2="1797.40" y2="991.11" stroke="#000" stroke-width="1" shape-rendering="crispEdges"/>
<line x1="1231.50" y1="986.94" x2="1235.10" y2="986.94" stroke="#000" stroke-width="1" shape-rendering="crispEdges"/>
<line x1="1800.00" y1="986.94" x2="1797.40" y2="986.94" stroke="#000" stroke-width="1" shape-rendering="crispEdges"/>
<line x1="1231.50" y1="983.54" x2="1235.10" y2="983.54" stroke="#000" stroke-width="1" shape-rendering="crispEdges"/>
<line x1="1800.00" y1="983.54" x2="1797.40" y2="983.54" stroke="#000" stroke-width="1" shape-rendering="crispEdges"/>
<line x1="1231.50" y1="980.66" x2="1235.10" y2="980.66" stroke="#000" stroke-width="1" shape-rendering="crispEdges"/>
<line x1="1800.00" y1="980.66" x2="1797.40" y2="980.66" stroke="#000" stroke-width="1" shape-rendering="crispEdges"/>
<line x1="1231.50" y1="978.17" x2="1235.10" y2="978.17" stroke="#000" stroke-width="1" shape-rendering="crispEdges"/>
<line x1="1800.00" y1="978.17" x2="1797.40" y2="978.17" stroke="#000" stroke-width="1" shape-rendering="crispEdges"/>
<line x1="1231.50" y1="975.97" x2="1235.10" y2="975.97" stroke="#000" stroke-width="1" shape-rendering="crispEdges"/>
<line x1="1800.00" y1="975.97" x2="1797.40" y2="975.97" stroke="#000" stroke-width="1" shape-rendering="crispEdges"/>
<line x1="1231.50" y1="1017.00" x2="1236.50" y2="1017.00" stroke="#000" stroke-width="1" shape-rendering="crispEdges"/>
<line x1="1800.00" y1="1017.00" x2="1795.60" y2="1017.00" stroke="#000" stroke-width="1" shape-rendering="crispEdges"/>
<g transform="translate(1226.00 1025.30) scale(1 1.055)" fill="#000" stroke="#000" stroke-width="0.245">
<text x="-44.80" y="0" font-size="19.44" textLength="24.74" lengthAdjust="spacingAndGlyphs">10</text>
<text x="-20.06" y="-6.82" font-size="13.61" textLength="20.06" lengthAdjust="spacingAndGlyphs">−1</text>
</g>
<line x1="1269.40" y1="1017.00" x2="1269.40" y2="1012.00" stroke="#000" stroke-width="1" shape-rendering="crispEdges"/>
<g transform="translate(1269.40 1036.70) scale(1 1.055)" font-size="19.44" fill="#000" stroke="#000" stroke-width="0.245">
<text x="-12.37" y="0" textLength="24.74" lengthAdjust="spacingAndGlyphs">05</text>
</g>
<line x1="1340.50" y1="1017.00" x2="1340.50" y2="1012.00" stroke="#000" stroke-width="1" shape-rendering="crispEdges"/>
<g transform="translate(1340.50 1036.70) scale(1 1.055)" font-size="19.44" fill="#000" stroke="#000" stroke-width="0.245">
<text x="-12.37" y="0" textLength="24.74" lengthAdjust="spacingAndGlyphs">06</text>
</g>
<line x1="1411.60" y1="1017.00" x2="1411.60" y2="1012.00" stroke="#000" stroke-width="1" shape-rendering="crispEdges"/>
<g transform="translate(1411.60 1036.70) scale(1 1.055)" font-size="19.44" fill="#000" stroke="#000" stroke-width="0.245">
<text x="-12.37" y="0" textLength="24.74" lengthAdjust="spacingAndGlyphs">07</text>
</g>
<line x1="1482.70" y1="1017.00" x2="1482.70" y2="1012.00" stroke="#000" stroke-width="1" shape-rendering="crispEdges"/>
<g transform="translate(1482.70 1036.70) scale(1 1.055)" font-size="19.44" fill="#000" stroke="#000" stroke-width="0.245">
<text x="-12.37" y="0" textLength="24.74" lengthAdjust="spacingAndGlyphs">08</text>
</g>
<line x1="1553.80" y1="1017.00" x2="1553.80" y2="1012.00" stroke="#000" stroke-width="1" shape-rendering="crispEdges"/>
<g transform="translate(1553.80 1036.70) scale(1 1.055)" font-size="19.44" fill="#000" stroke="#000" stroke-width="0.245">
<text x="-12.37" y="0" textLength="24.74" lengthAdjust="spacingAndGlyphs">09</text>
</g>
<line x1="1624.90" y1="1017.00" x2="1624.90" y2="1012.00" stroke="#000" stroke-width="1" shape-rendering="crispEdges"/>
<g transform="translate(1624.90 1036.70) scale(1 1.055)" font-size="19.44" fill="#000" stroke="#000" stroke-width="0.245">
<text x="-12.37" y="0" textLength="24.74" lengthAdjust="spacingAndGlyphs">10</text>
</g>
<line x1="1696.00" y1="1017.00" x2="1696.00" y2="1012.00" stroke="#000" stroke-width="1" shape-rendering="crispEdges"/>
<g transform="translate(1696.00 1036.70) scale(1 1.055)" font-size="19.44" fill="#000" stroke="#000" stroke-width="0.245">
<text x="-12.37" y="0" textLength="24.74" lengthAdjust="spacingAndGlyphs">11</text>
</g>
<line x1="1767.10" y1="1017.00" x2="1767.10" y2="1012.00" stroke="#000" stroke-width="1" shape-rendering="crispEdges"/>
<g transform="translate(1767.10 1036.70) scale(1 1.055)" font-size="19.44" fill="#000" stroke="#000" stroke-width="0.245">
<text x="-12.37" y="0" textLength="24.74" lengthAdjust="spacingAndGlyphs">12</text>
</g>
<rect x="1231.50" y="845.00" width="568.50" height="172.00" fill="none" stroke="#000" stroke-width="2"/>
<g transform="translate(1133.00 931.00) rotate(-90) scale(1 1.055)" font-size="24.0" fill="#000" stroke="#000" stroke-width="0.302">
<text x="-126.35" y="0" textLength="50.65" lengthAdjust="spacingAndGlyphs">&gt;10</text>
<text x="-68.07" y="0" textLength="51.89" lengthAdjust="spacingAndGlyphs">MeV</text>
<text x="-8.55" y="0" textLength="77.38" lengthAdjust="spacingAndGlyphs">Proton</text>
<text x="76.46" y="0" textLength="49.89" lengthAdjust="spacingAndGlyphs">Flux</text>
</g>
<g transform="translate(1165.00 931.00) rotate(-90) scale(1 1.055)" fill="#000" stroke="#000" stroke-width="0.302">
<text x="-86.83" y="0" font-size="24.0" textLength="9.36" lengthAdjust="spacingAndGlyphs">(</text>
<text x="-69.84" y="0" font-size="24.0" textLength="36.58" lengthAdjust="spacingAndGlyphs">cm</text>
<text x="-33.26" y="-8.42" font-size="16.80" textLength="10.69" lengthAdjust="spacingAndGlyphs">2</text>
<text x="-18.57" y="0" font-size="24.0" textLength="12.50" lengthAdjust="spacingAndGlyphs">s</text>
<text x="-6.07" y="-8.42" font-size="16.80" textLength="24.77" lengthAdjust="spacingAndGlyphs">−1</text>
<text x="22.70" y="0" font-size="24.0" textLength="22.37" lengthAdjust="spacingAndGlyphs">sr</text>
<text x="45.07" y="-8.42" font-size="16.80" textLength="24.77" lengthAdjust="spacingAndGlyphs">−1</text>
<text x="77.47" y="0" font-size="24.0" textLength="9.36" lengthAdjust="spacingAndGlyphs">)</text>
</g>
<g transform="translate(1512.00 1066.00) scale(1 1.055)" font-size="24.0" fill="#000" stroke="#000" stroke-width="0.302">
<text x="-68.05" y="0" textLength="136.11" lengthAdjust="spacingAndGlyphs">March/April</text>
</g>
<g transform="translate(1515.50 1094.00) scale(1 1.055)" font-size="24.0" fill="#000" stroke="#000" stroke-width="0.302">
<text x="-59.83" y="0" textLength="61.08" lengthAdjust="spacingAndGlyphs">2025</text>
<text x="8.88" y="0" textLength="50.95" lengthAdjust="spacingAndGlyphs">(UT)</text>
</g>
</svg></body></html>
